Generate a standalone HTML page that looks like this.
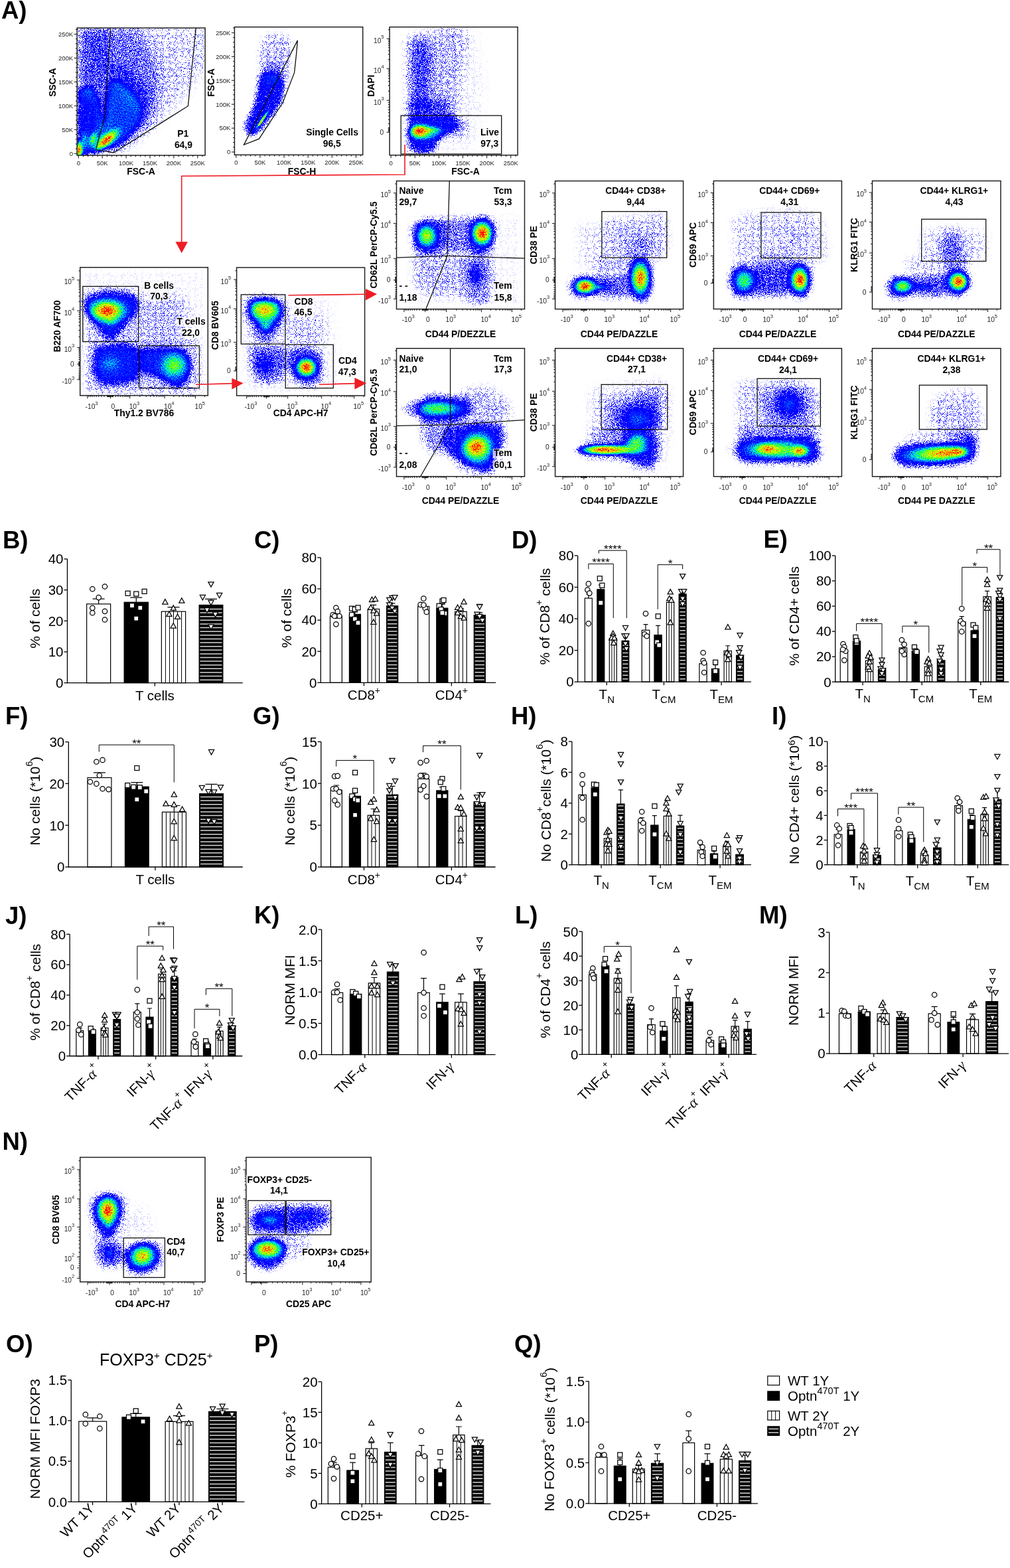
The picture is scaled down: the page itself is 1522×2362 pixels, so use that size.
<!DOCTYPE html>
<html><head><meta charset="utf-8"><title>Figure</title>
<style>
html,body{margin:0;padding:0;background:#fff;}
body{width:1522px;height:2362px;overflow:hidden;position:relative;}
svg{position:absolute;left:0;top:0;display:block;}
text{font-family:"Liberation Sans",Arial,sans-serif;}
</style></head><body>
<svg width="1522" height="2362" viewBox="0 0 1522 2362">
<rect width="1522" height="2362" fill="#fff"/>
<defs><filter id="dith" color-interpolation-filters="sRGB">
<feTurbulence type="fractalNoise" baseFrequency="0.6" numOctaves="1" seed="7" result="N2"/>
<feColorMatrix in="N2" type="matrix" values="0 0 0 0 0  0 0 0 0 0  0 0 0 0 0  1 0 0 0 0" result="N2a"/>
<feComposite in="SourceAlpha" in2="N2a" operator="arithmetic" k1="1.0" k2="0.5" k3="0" k4="0" result="SD"/>
<feColorMatrix in="SD" type="matrix" values="0 0 0 1 0  0 0 0 1 0  0 0 0 1 0  0 0 0 1 0" result="D"/>
<feComponentTransfer in="D" result="C"><feFuncR type="table" tableValues="0.000 0.000 0.000 0.000 0.000 0.000 0.000 0.000 0.000 0.000 0.000 0.000 0.118 0.353 0.588 0.824 1.000 1.000 1.000 1.000 1.000"/><feFuncG type="table" tableValues="0.000 0.000 0.000 0.000 0.000 0.000 0.000 0.039 0.235 0.588 0.863 1.000 1.000 1.000 1.000 1.000 0.941 0.745 0.510 0.235 0.000"/><feFuncB type="table" tableValues="1.000 1.000 1.000 1.000 1.000 1.000 1.000 1.000 1.000 1.000 0.941 0.627 0.235 0.078 0.000 0.000 0.000 0.000 0.000 0.000 0.000"/><feFuncA type="table" tableValues="0.000 0.185 0.370 0.556 0.741 0.926 1.000 1.000 1.000 1.000 1.000 1.000 1.000 1.000 1.000 1.000 1.000 1.000 1.000 1.000 1.000"/></feComponentTransfer>
<feColorMatrix in="C" type="matrix" values="0 0 0 0 0  0 0 0 0 0  0 0 0 0 0  0 0 0 1 0" result="CA"/>
<feTurbulence type="fractalNoise" baseFrequency="1.1" numOctaves="1" seed="3" result="N"/>
<feColorMatrix in="N" type="matrix" values="0 0 0 0 0  0 0 0 0 0  0 0 0 0 0  1 0 0 0 0" result="Na"/>
<feComponentTransfer in="Na" result="Nu"><feFuncA type="linear" slope="3.2" intercept="-1.1"/></feComponentTransfer>
<feComposite in="CA" in2="Nu" operator="arithmetic" k2="8" k3="-7.2" k4="0" result="M"/>
<feComponentTransfer in="C" result="O"><feFuncA type="linear" slope="60"/></feComponentTransfer>
<feComposite in="O" in2="M" operator="in"/>
</filter>
<clipPath id="c116_42"><rect x="116.1" y="42.1" width="193" height="191.9"/></clipPath>
<filter id="bl10" x="-60%" y="-60%" width="220%" height="220%"><feGaussianBlur stdDeviation="10"/></filter>
<filter id="bl8" x="-60%" y="-60%" width="220%" height="220%"><feGaussianBlur stdDeviation="8"/></filter>
<filter id="bl6" x="-60%" y="-60%" width="220%" height="220%"><feGaussianBlur stdDeviation="6"/></filter>
<filter id="bl3" x="-60%" y="-60%" width="220%" height="220%"><feGaussianBlur stdDeviation="3"/></filter>
<filter id="bl4" x="-60%" y="-60%" width="220%" height="220%"><feGaussianBlur stdDeviation="4"/></filter>
<radialGradient id="g0"><stop offset="0.000" stop-opacity="0.231"/><stop offset="0.083" stop-opacity="0.225"/><stop offset="0.167" stop-opacity="0.209"/><stop offset="0.250" stop-opacity="0.184"/><stop offset="0.333" stop-opacity="0.154"/><stop offset="0.417" stop-opacity="0.122"/><stop offset="0.500" stop-opacity="0.092"/><stop offset="0.583" stop-opacity="0.065"/><stop offset="0.667" stop-opacity="0.043"/><stop offset="0.750" stop-opacity="0.026"/><stop offset="0.833" stop-opacity="0.014"/><stop offset="0.917" stop-opacity="0.005"/><stop offset="1.000" stop-opacity="0.000"/></radialGradient>
<radialGradient id="g1"><stop offset="0.000" stop-opacity="0.487"/><stop offset="0.083" stop-opacity="0.475"/><stop offset="0.167" stop-opacity="0.441"/><stop offset="0.250" stop-opacity="0.388"/><stop offset="0.333" stop-opacity="0.325"/><stop offset="0.417" stop-opacity="0.258"/><stop offset="0.500" stop-opacity="0.194"/><stop offset="0.583" stop-opacity="0.138"/><stop offset="0.667" stop-opacity="0.091"/><stop offset="0.750" stop-opacity="0.055"/><stop offset="0.833" stop-opacity="0.029"/><stop offset="0.917" stop-opacity="0.011"/><stop offset="1.000" stop-opacity="0.000"/></radialGradient>
<radialGradient id="g2"><stop offset="0.000" stop-opacity="1.000"/><stop offset="0.083" stop-opacity="0.975"/><stop offset="0.167" stop-opacity="0.904"/><stop offset="0.250" stop-opacity="0.797"/><stop offset="0.333" stop-opacity="0.668"/><stop offset="0.417" stop-opacity="0.530"/><stop offset="0.500" stop-opacity="0.399"/><stop offset="0.583" stop-opacity="0.282"/><stop offset="0.667" stop-opacity="0.187"/><stop offset="0.750" stop-opacity="0.113"/><stop offset="0.833" stop-opacity="0.060"/><stop offset="0.917" stop-opacity="0.023"/><stop offset="1.000" stop-opacity="0.000"/></radialGradient>
<radialGradient id="g3"><stop offset="0.000" stop-opacity="0.897"/><stop offset="0.083" stop-opacity="0.875"/><stop offset="0.167" stop-opacity="0.812"/><stop offset="0.250" stop-opacity="0.716"/><stop offset="0.333" stop-opacity="0.599"/><stop offset="0.417" stop-opacity="0.476"/><stop offset="0.500" stop-opacity="0.358"/><stop offset="0.583" stop-opacity="0.253"/><stop offset="0.667" stop-opacity="0.167"/><stop offset="0.750" stop-opacity="0.101"/><stop offset="0.833" stop-opacity="0.053"/><stop offset="0.917" stop-opacity="0.021"/><stop offset="1.000" stop-opacity="0.000"/></radialGradient>
<clipPath id="c353_40"><rect x="353.4" y="40.7" width="193.3" height="192.6"/></clipPath>
<filter id="bl5" x="-60%" y="-60%" width="220%" height="220%"><feGaussianBlur stdDeviation="5"/></filter>
<radialGradient id="g4"><stop offset="0.000" stop-opacity="0.295"/><stop offset="0.083" stop-opacity="0.288"/><stop offset="0.167" stop-opacity="0.267"/><stop offset="0.250" stop-opacity="0.235"/><stop offset="0.333" stop-opacity="0.197"/><stop offset="0.417" stop-opacity="0.156"/><stop offset="0.500" stop-opacity="0.118"/><stop offset="0.583" stop-opacity="0.083"/><stop offset="0.667" stop-opacity="0.055"/><stop offset="0.750" stop-opacity="0.033"/><stop offset="0.833" stop-opacity="0.018"/><stop offset="0.917" stop-opacity="0.007"/><stop offset="1.000" stop-opacity="0.000"/></radialGradient>
<radialGradient id="g5"><stop offset="0.000" stop-opacity="0.615"/><stop offset="0.083" stop-opacity="0.600"/><stop offset="0.167" stop-opacity="0.557"/><stop offset="0.250" stop-opacity="0.491"/><stop offset="0.333" stop-opacity="0.411"/><stop offset="0.417" stop-opacity="0.326"/><stop offset="0.500" stop-opacity="0.245"/><stop offset="0.583" stop-opacity="0.174"/><stop offset="0.667" stop-opacity="0.115"/><stop offset="0.750" stop-opacity="0.069"/><stop offset="0.833" stop-opacity="0.037"/><stop offset="0.917" stop-opacity="0.014"/><stop offset="1.000" stop-opacity="0.000"/></radialGradient>
<radialGradient id="g6"><stop offset="0.000" stop-opacity="0.936"/><stop offset="0.083" stop-opacity="0.913"/><stop offset="0.167" stop-opacity="0.846"/><stop offset="0.250" stop-opacity="0.746"/><stop offset="0.333" stop-opacity="0.625"/><stop offset="0.417" stop-opacity="0.496"/><stop offset="0.500" stop-opacity="0.373"/><stop offset="0.583" stop-opacity="0.264"/><stop offset="0.667" stop-opacity="0.175"/><stop offset="0.750" stop-opacity="0.106"/><stop offset="0.833" stop-opacity="0.056"/><stop offset="0.917" stop-opacity="0.022"/><stop offset="1.000" stop-opacity="0.000"/></radialGradient>
<clipPath id="c587_40"><rect x="587.1" y="40.7" width="193" height="193"/></clipPath>
<filter id="bl12" x="-60%" y="-60%" width="220%" height="220%"><feGaussianBlur stdDeviation="12"/></filter>
<radialGradient id="g7"><stop offset="0.000" stop-opacity="0.359"/><stop offset="0.083" stop-opacity="0.352"/><stop offset="0.167" stop-opacity="0.333"/><stop offset="0.250" stop-opacity="0.302"/><stop offset="0.333" stop-opacity="0.264"/><stop offset="0.417" stop-opacity="0.221"/><stop offset="0.500" stop-opacity="0.177"/><stop offset="0.583" stop-opacity="0.135"/><stop offset="0.667" stop-opacity="0.097"/><stop offset="0.750" stop-opacity="0.064"/><stop offset="0.833" stop-opacity="0.037"/><stop offset="0.917" stop-opacity="0.016"/><stop offset="1.000" stop-opacity="0.000"/></radialGradient>
<clipPath id="c120_402"><rect x="120.7" y="402.8" width="192.6" height="193"/></clipPath>
<filter id="bl9" x="-60%" y="-60%" width="220%" height="220%"><feGaussianBlur stdDeviation="9"/></filter>
<radialGradient id="g8"><stop offset="0.000" stop-opacity="0.154"/><stop offset="0.083" stop-opacity="0.150"/><stop offset="0.167" stop-opacity="0.139"/><stop offset="0.250" stop-opacity="0.123"/><stop offset="0.333" stop-opacity="0.103"/><stop offset="0.417" stop-opacity="0.082"/><stop offset="0.500" stop-opacity="0.061"/><stop offset="0.583" stop-opacity="0.043"/><stop offset="0.667" stop-opacity="0.029"/><stop offset="0.750" stop-opacity="0.017"/><stop offset="0.833" stop-opacity="0.009"/><stop offset="0.917" stop-opacity="0.004"/><stop offset="1.000" stop-opacity="0.000"/></radialGradient>
<clipPath id="c356_403"><rect x="356.6" y="403" width="193" height="193"/></clipPath>
<radialGradient id="g9"><stop offset="0.000" stop-opacity="0.179"/><stop offset="0.083" stop-opacity="0.175"/><stop offset="0.167" stop-opacity="0.162"/><stop offset="0.250" stop-opacity="0.143"/><stop offset="0.333" stop-opacity="0.120"/><stop offset="0.417" stop-opacity="0.095"/><stop offset="0.500" stop-opacity="0.072"/><stop offset="0.583" stop-opacity="0.051"/><stop offset="0.667" stop-opacity="0.033"/><stop offset="0.750" stop-opacity="0.020"/><stop offset="0.833" stop-opacity="0.011"/><stop offset="0.917" stop-opacity="0.004"/><stop offset="1.000" stop-opacity="0.000"/></radialGradient>
<radialGradient id="g10"><stop offset="0.000" stop-opacity="0.205"/><stop offset="0.083" stop-opacity="0.200"/><stop offset="0.167" stop-opacity="0.186"/><stop offset="0.250" stop-opacity="0.164"/><stop offset="0.333" stop-opacity="0.137"/><stop offset="0.417" stop-opacity="0.109"/><stop offset="0.500" stop-opacity="0.082"/><stop offset="0.583" stop-opacity="0.058"/><stop offset="0.667" stop-opacity="0.038"/><stop offset="0.750" stop-opacity="0.023"/><stop offset="0.833" stop-opacity="0.012"/><stop offset="0.917" stop-opacity="0.005"/><stop offset="1.000" stop-opacity="0.000"/></radialGradient>
<radialGradient id="g11"><stop offset="0.000" stop-opacity="0.744"/><stop offset="0.083" stop-opacity="0.725"/><stop offset="0.167" stop-opacity="0.673"/><stop offset="0.250" stop-opacity="0.593"/><stop offset="0.333" stop-opacity="0.497"/><stop offset="0.417" stop-opacity="0.394"/><stop offset="0.500" stop-opacity="0.296"/><stop offset="0.583" stop-opacity="0.210"/><stop offset="0.667" stop-opacity="0.139"/><stop offset="0.750" stop-opacity="0.084"/><stop offset="0.833" stop-opacity="0.044"/><stop offset="0.917" stop-opacity="0.017"/><stop offset="1.000" stop-opacity="0.000"/></radialGradient>
<clipPath id="c597_272"><rect x="597.5" y="272.6" width="193" height="193"/></clipPath>
<radialGradient id="g12"><stop offset="0.000" stop-opacity="0.667"/><stop offset="0.083" stop-opacity="0.650"/><stop offset="0.167" stop-opacity="0.603"/><stop offset="0.250" stop-opacity="0.532"/><stop offset="0.333" stop-opacity="0.445"/><stop offset="0.417" stop-opacity="0.354"/><stop offset="0.500" stop-opacity="0.266"/><stop offset="0.583" stop-opacity="0.188"/><stop offset="0.667" stop-opacity="0.124"/><stop offset="0.750" stop-opacity="0.075"/><stop offset="0.833" stop-opacity="0.040"/><stop offset="0.917" stop-opacity="0.016"/><stop offset="1.000" stop-opacity="0.000"/></radialGradient>
<clipPath id="c836_272"><rect x="836.6" y="272.6" width="193" height="193"/></clipPath>
<clipPath id="c1075_272"><rect x="1075.4" y="272.5" width="193" height="193"/></clipPath>
<radialGradient id="g13"><stop offset="0.000" stop-opacity="0.513"/><stop offset="0.083" stop-opacity="0.500"/><stop offset="0.167" stop-opacity="0.464"/><stop offset="0.250" stop-opacity="0.409"/><stop offset="0.333" stop-opacity="0.342"/><stop offset="0.417" stop-opacity="0.272"/><stop offset="0.500" stop-opacity="0.204"/><stop offset="0.583" stop-opacity="0.145"/><stop offset="0.667" stop-opacity="0.096"/><stop offset="0.750" stop-opacity="0.058"/><stop offset="0.833" stop-opacity="0.031"/><stop offset="0.917" stop-opacity="0.012"/><stop offset="1.000" stop-opacity="0.000"/></radialGradient>
<clipPath id="c1314_272"><rect x="1314.5" y="272.5" width="193.5" height="193"/></clipPath>
<filter id="bl7" x="-60%" y="-60%" width="220%" height="220%"><feGaussianBlur stdDeviation="7"/></filter>
<radialGradient id="g14"><stop offset="0.000" stop-opacity="0.256"/><stop offset="0.083" stop-opacity="0.250"/><stop offset="0.167" stop-opacity="0.232"/><stop offset="0.250" stop-opacity="0.204"/><stop offset="0.333" stop-opacity="0.171"/><stop offset="0.417" stop-opacity="0.136"/><stop offset="0.500" stop-opacity="0.102"/><stop offset="0.583" stop-opacity="0.072"/><stop offset="0.667" stop-opacity="0.048"/><stop offset="0.750" stop-opacity="0.029"/><stop offset="0.833" stop-opacity="0.015"/><stop offset="0.917" stop-opacity="0.006"/><stop offset="1.000" stop-opacity="0.000"/></radialGradient>
<radialGradient id="g15"><stop offset="0.000" stop-opacity="0.590"/><stop offset="0.083" stop-opacity="0.575"/><stop offset="0.167" stop-opacity="0.533"/><stop offset="0.250" stop-opacity="0.470"/><stop offset="0.333" stop-opacity="0.394"/><stop offset="0.417" stop-opacity="0.313"/><stop offset="0.500" stop-opacity="0.235"/><stop offset="0.583" stop-opacity="0.166"/><stop offset="0.667" stop-opacity="0.110"/><stop offset="0.750" stop-opacity="0.067"/><stop offset="0.833" stop-opacity="0.035"/><stop offset="0.917" stop-opacity="0.014"/><stop offset="1.000" stop-opacity="0.000"/></radialGradient>
<clipPath id="c597_524"><rect x="597.5" y="524.8" width="193" height="193"/></clipPath>
<radialGradient id="g16"><stop offset="0.000" stop-opacity="0.513"/><stop offset="0.083" stop-opacity="0.503"/><stop offset="0.167" stop-opacity="0.475"/><stop offset="0.250" stop-opacity="0.432"/><stop offset="0.333" stop-opacity="0.377"/><stop offset="0.417" stop-opacity="0.316"/><stop offset="0.500" stop-opacity="0.253"/><stop offset="0.583" stop-opacity="0.193"/><stop offset="0.667" stop-opacity="0.138"/><stop offset="0.750" stop-opacity="0.091"/><stop offset="0.833" stop-opacity="0.053"/><stop offset="0.917" stop-opacity="0.023"/><stop offset="1.000" stop-opacity="0.000"/></radialGradient>
<radialGradient id="g17"><stop offset="0.000" stop-opacity="0.846"/><stop offset="0.083" stop-opacity="0.825"/><stop offset="0.167" stop-opacity="0.765"/><stop offset="0.250" stop-opacity="0.675"/><stop offset="0.333" stop-opacity="0.565"/><stop offset="0.417" stop-opacity="0.449"/><stop offset="0.500" stop-opacity="0.337"/><stop offset="0.583" stop-opacity="0.239"/><stop offset="0.667" stop-opacity="0.158"/><stop offset="0.750" stop-opacity="0.095"/><stop offset="0.833" stop-opacity="0.050"/><stop offset="0.917" stop-opacity="0.020"/><stop offset="1.000" stop-opacity="0.000"/></radialGradient>
<clipPath id="c836_524"><rect x="836.6" y="524.8" width="193" height="193"/></clipPath>
<radialGradient id="g18"><stop offset="0.000" stop-opacity="0.231"/><stop offset="0.083" stop-opacity="0.227"/><stop offset="0.167" stop-opacity="0.216"/><stop offset="0.250" stop-opacity="0.199"/><stop offset="0.333" stop-opacity="0.178"/><stop offset="0.417" stop-opacity="0.152"/><stop offset="0.500" stop-opacity="0.126"/><stop offset="0.583" stop-opacity="0.099"/><stop offset="0.667" stop-opacity="0.074"/><stop offset="0.750" stop-opacity="0.051"/><stop offset="0.833" stop-opacity="0.030"/><stop offset="0.917" stop-opacity="0.014"/><stop offset="1.000" stop-opacity="0.000"/></radialGradient>
<radialGradient id="g19"><stop offset="0.000" stop-opacity="0.564"/><stop offset="0.083" stop-opacity="0.550"/><stop offset="0.167" stop-opacity="0.510"/><stop offset="0.250" stop-opacity="0.450"/><stop offset="0.333" stop-opacity="0.377"/><stop offset="0.417" stop-opacity="0.299"/><stop offset="0.500" stop-opacity="0.225"/><stop offset="0.583" stop-opacity="0.159"/><stop offset="0.667" stop-opacity="0.105"/><stop offset="0.750" stop-opacity="0.064"/><stop offset="0.833" stop-opacity="0.034"/><stop offset="0.917" stop-opacity="0.013"/><stop offset="1.000" stop-opacity="0.000"/></radialGradient>
<radialGradient id="g20"><stop offset="0.000" stop-opacity="0.897"/><stop offset="0.083" stop-opacity="0.881"/><stop offset="0.167" stop-opacity="0.832"/><stop offset="0.250" stop-opacity="0.756"/><stop offset="0.333" stop-opacity="0.660"/><stop offset="0.417" stop-opacity="0.553"/><stop offset="0.500" stop-opacity="0.443"/><stop offset="0.583" stop-opacity="0.337"/><stop offset="0.667" stop-opacity="0.242"/><stop offset="0.750" stop-opacity="0.159"/><stop offset="0.833" stop-opacity="0.092"/><stop offset="0.917" stop-opacity="0.039"/><stop offset="1.000" stop-opacity="0.000"/></radialGradient>
<clipPath id="c1075_524"><rect x="1075.4" y="524.8" width="193" height="193"/></clipPath>
<radialGradient id="g21"><stop offset="0.000" stop-opacity="0.295"/><stop offset="0.083" stop-opacity="0.290"/><stop offset="0.167" stop-opacity="0.276"/><stop offset="0.250" stop-opacity="0.255"/><stop offset="0.333" stop-opacity="0.227"/><stop offset="0.417" stop-opacity="0.195"/><stop offset="0.500" stop-opacity="0.161"/><stop offset="0.583" stop-opacity="0.127"/><stop offset="0.667" stop-opacity="0.094"/><stop offset="0.750" stop-opacity="0.065"/><stop offset="0.833" stop-opacity="0.039"/><stop offset="0.917" stop-opacity="0.017"/><stop offset="1.000" stop-opacity="0.000"/></radialGradient>
<radialGradient id="g22"><stop offset="0.000" stop-opacity="0.808"/><stop offset="0.083" stop-opacity="0.788"/><stop offset="0.167" stop-opacity="0.731"/><stop offset="0.250" stop-opacity="0.644"/><stop offset="0.333" stop-opacity="0.539"/><stop offset="0.417" stop-opacity="0.428"/><stop offset="0.500" stop-opacity="0.322"/><stop offset="0.583" stop-opacity="0.228"/><stop offset="0.667" stop-opacity="0.151"/><stop offset="0.750" stop-opacity="0.091"/><stop offset="0.833" stop-opacity="0.048"/><stop offset="0.917" stop-opacity="0.019"/><stop offset="1.000" stop-opacity="0.000"/></radialGradient>
<clipPath id="c1314_524"><rect x="1314.5" y="524.8" width="193.5" height="193"/></clipPath>
<radialGradient id="g23"><stop offset="0.000" stop-opacity="0.718"/><stop offset="0.083" stop-opacity="0.700"/><stop offset="0.167" stop-opacity="0.649"/><stop offset="0.250" stop-opacity="0.572"/><stop offset="0.333" stop-opacity="0.479"/><stop offset="0.417" stop-opacity="0.381"/><stop offset="0.500" stop-opacity="0.286"/><stop offset="0.583" stop-opacity="0.203"/><stop offset="0.667" stop-opacity="0.134"/><stop offset="0.750" stop-opacity="0.081"/><stop offset="0.833" stop-opacity="0.043"/><stop offset="0.917" stop-opacity="0.017"/><stop offset="1.000" stop-opacity="0.000"/></radialGradient>
<radialGradient id="g24"><stop offset="0.000" stop-opacity="0.782"/><stop offset="0.083" stop-opacity="0.763"/><stop offset="0.167" stop-opacity="0.707"/><stop offset="0.250" stop-opacity="0.624"/><stop offset="0.333" stop-opacity="0.522"/><stop offset="0.417" stop-opacity="0.415"/><stop offset="0.500" stop-opacity="0.312"/><stop offset="0.583" stop-opacity="0.221"/><stop offset="0.667" stop-opacity="0.146"/><stop offset="0.750" stop-opacity="0.088"/><stop offset="0.833" stop-opacity="0.047"/><stop offset="0.917" stop-opacity="0.018"/><stop offset="1.000" stop-opacity="0.000"/></radialGradient>
<clipPath id="c120_1743"><rect x="120.7" y="1743.4" width="188.3" height="187.6"/></clipPath>
<radialGradient id="g25"><stop offset="0.000" stop-opacity="0.769"/><stop offset="0.083" stop-opacity="0.750"/><stop offset="0.167" stop-opacity="0.696"/><stop offset="0.250" stop-opacity="0.613"/><stop offset="0.333" stop-opacity="0.514"/><stop offset="0.417" stop-opacity="0.408"/><stop offset="0.500" stop-opacity="0.307"/><stop offset="0.583" stop-opacity="0.217"/><stop offset="0.667" stop-opacity="0.143"/><stop offset="0.750" stop-opacity="0.087"/><stop offset="0.833" stop-opacity="0.046"/><stop offset="0.917" stop-opacity="0.018"/><stop offset="1.000" stop-opacity="0.000"/></radialGradient>
<clipPath id="c370_1743"><rect x="370.9" y="1743.4" width="188.3" height="187.6"/></clipPath>
<radialGradient id="g26"><stop offset="0.000" stop-opacity="0.295"/><stop offset="0.083" stop-opacity="0.289"/><stop offset="0.167" stop-opacity="0.273"/><stop offset="0.250" stop-opacity="0.248"/><stop offset="0.333" stop-opacity="0.217"/><stop offset="0.417" stop-opacity="0.182"/><stop offset="0.500" stop-opacity="0.146"/><stop offset="0.583" stop-opacity="0.111"/><stop offset="0.667" stop-opacity="0.079"/><stop offset="0.750" stop-opacity="0.052"/><stop offset="0.833" stop-opacity="0.030"/><stop offset="0.917" stop-opacity="0.013"/><stop offset="1.000" stop-opacity="0.000"/></radialGradient>
<radialGradient id="g27"><stop offset="0.000" stop-opacity="0.872"/><stop offset="0.083" stop-opacity="0.850"/><stop offset="0.167" stop-opacity="0.789"/><stop offset="0.250" stop-opacity="0.695"/><stop offset="0.333" stop-opacity="0.582"/><stop offset="0.417" stop-opacity="0.462"/><stop offset="0.500" stop-opacity="0.348"/><stop offset="0.583" stop-opacity="0.246"/><stop offset="0.667" stop-opacity="0.163"/><stop offset="0.750" stop-opacity="0.098"/><stop offset="0.833" stop-opacity="0.052"/><stop offset="0.917" stop-opacity="0.020"/><stop offset="1.000" stop-opacity="0.000"/></radialGradient></defs>
<g>
<g clip-path="url(#c116_42)"><g filter="url(#dith)">
<polygon points="116.1,42.1 309.1,42.1 309.1,102.1 266.1,152.1 226.1,192.1 176.1,232.1 116.1,234.1" fill-opacity="0.044" filter="url(#bl10)"/>
<polygon points="118.1,42.1 166.1,42.1 171.1,102.1 156.1,142.1 121.1,152.1" fill-opacity="0.154" filter="url(#bl8)"/>
<polygon points="166.1,42.1 211.1,42.1 241.1,102.1 241.1,152.1 196.1,162.1 171.1,102.1" fill-opacity="0.110" filter="url(#bl10)"/>
<polygon points="146.1,142.1 166.1,142.1 161.1,212.1 146.1,212.1" fill-opacity="0.132" filter="url(#bl6)"/>
<polygon points="118.1,134.1 138.1,130.1 150.1,152.1 156.1,192.1 151.1,227.1 126.1,234.1 118.1,234.1" fill-opacity="0.286" filter="url(#bl3)"/>
<polygon points="166.1,97.1 191.1,102.1 226.1,142.1 238.1,172.1 221.1,194.1 176.1,227.1 156.1,192.1" fill-opacity="0.099" filter="url(#bl6)"/>
<polygon points="163.1,122.1 180.1,120.1 198.1,137.1 216.1,160.1 214.1,182.1 193.1,208.1 171.1,224.1 146.1,227.1 150.1,211.1 157.1,184.1 161.1,157.1 162.1,137.1" fill-opacity="0.286" filter="url(#bl4)"/>
<ellipse cx="128.1" cy="212.1" rx="12" ry="26" fill="url(#g0)"/>
<ellipse cx="140.3" cy="209.8" rx="9" ry="19" fill="url(#g1)" transform="rotate(15 140.3 209.8)"/>
<ellipse cx="160.5" cy="211.1" rx="33" ry="13" fill="url(#g2)" transform="rotate(-40 160.5 211.1)"/>
<ellipse cx="119.1" cy="226.1" rx="9" ry="22" fill="url(#g3)"/>
</g></g>
<polyline points="166.6,42.1 157.5,177.5 144.4,225.3 171.3,230 283.4,159.7 295.2,42.1" fill="none" stroke="#111" stroke-width="1.3"/>
<rect x="116.1" y="42.1" width="193" height="191.9" fill="none" stroke="#222" stroke-width="1.5"/>
<path d="M118.3 234v4.5M125.48 234v2.3M132.66 234v2.3M139.84 234v2.3M147.02 234v2.3M154.2 234v4.5M161.38 234v2.3M168.56 234v2.3M175.74 234v2.3M182.92 234v2.3M190.1 234v4.5M197.28 234v2.3M204.46 234v2.3M211.64 234v2.3M218.82 234v2.3M226 234v4.5M233.18 234v2.3M240.36 234v2.3M247.54 234v2.3M254.72 234v2.3M261.9 234v4.5M269.08 234v2.3M276.26 234v2.3M283.44 234v2.3M290.62 234v2.3M297.8 234v4.5M304.98 234v2.3M116.1 231.3h-4.5M116.1 224.11h-2.3M116.1 216.92h-2.3M116.1 209.72h-2.3M116.1 202.53h-2.3M116.1 195.34h-4.5M116.1 188.15h-2.3M116.1 180.96h-2.3M116.1 173.76h-2.3M116.1 166.57h-2.3M116.1 159.38h-4.5M116.1 152.19h-2.3M116.1 145h-2.3M116.1 137.8h-2.3M116.1 130.61h-2.3M116.1 123.42h-4.5M116.1 116.23h-2.3M116.1 109.04h-2.3M116.1 101.84h-2.3M116.1 94.65h-2.3M116.1 87.46h-4.5M116.1 80.27h-2.3M116.1 73.08h-2.3M116.1 65.88h-2.3M116.1 58.69h-2.3M116.1 51.5h-4.5M116.1 44.31h-2.3" stroke="#111" stroke-width="1" fill="none"/>
<text x="118.3" y="249" font-size="9.5" text-anchor="middle" fill="#222">0</text>
<text x="154.2" y="249" font-size="9.5" text-anchor="middle" fill="#222">50K</text>
<text x="190.1" y="249" font-size="9.5" text-anchor="middle" fill="#222">100K</text>
<text x="226" y="249" font-size="9.5" text-anchor="middle" fill="#222">150K</text>
<text x="261.9" y="249" font-size="9.5" text-anchor="middle" fill="#222">200K</text>
<text x="297.8" y="249" font-size="9.5" text-anchor="middle" fill="#222">250K</text>
<text x="110.1" y="234.7" font-size="9.5" text-anchor="end" fill="#222">0</text>
<text x="110.1" y="198.74" font-size="9.5" text-anchor="end" fill="#222">50K</text>
<text x="110.1" y="162.78" font-size="9.5" text-anchor="end" fill="#222">100K</text>
<text x="110.1" y="126.82" font-size="9.5" text-anchor="end" fill="#222">150K</text>
<text x="110.1" y="90.86" font-size="9.5" text-anchor="end" fill="#222">200K</text>
<text x="110.1" y="54.9" font-size="9.5" text-anchor="end" fill="#222">250K</text>
<text x="212.6" y="262.8" font-size="13.9" font-weight="bold" text-anchor="middle">FSC-A</text>
<text transform="translate(84,124.05) rotate(-90)" font-size="13.9" font-weight="bold" text-anchor="middle">SSC-A</text>
<rect x="265.71" y="194.5" width="19.98" height="14.5" fill="#fff" fill-opacity="0.72"/>
<rect x="261.39" y="211.1" width="30.02" height="14.5" fill="#fff" fill-opacity="0.72"/>
<text x="275.7" y="206" font-size="13.9" font-weight="bold" text-anchor="middle">P1</text>
<text x="276.4" y="222.6" font-size="13.9" font-weight="bold" text-anchor="middle">64,9</text>
</g>
<g>
<g clip-path="url(#c353_40)"><g filter="url(#dith)">
<polygon points="399.19,54.86 428.82,53.51 436.9,62.94 434.21,96.61 428.82,116.82 412.66,119.51 396.49,110.08 392.45,83.14" fill-opacity="0.066" filter="url(#bl6)"/>
<polygon points="396.49,96.61 423.43,93.92 431.51,111.43 428.82,130.29 392.45,130.29" fill-opacity="0.092" filter="url(#bl5)"/>
<polygon points="392.45,111.43 411.31,108.74 423.43,116.82 428.82,127.59 424.78,150.49 415.35,165.31 401.88,184.17 388.41,200.33 377.63,204.37 369.55,196.29 370.9,184.17 381.67,163.96 388.41,137.02" fill-opacity="0.286" filter="url(#bl3)"/>
<ellipse cx="396.49" cy="179.45" rx="24.48" ry="4.32" fill="url(#g4)" transform="rotate(-55 396.49 179.45)"/>
<ellipse cx="395.14" cy="180.4" rx="24.48" ry="2.3" fill="url(#g5)" transform="rotate(-55 395.14 180.4)"/>
<ellipse cx="392.45" cy="185.78" rx="7.2" ry="2.16" fill="url(#g6)" transform="rotate(-55 392.45 185.78)"/>
</g></g>
<polygon points="367.5,218.1 448.4,60.9 446.7,80.4 443.6,109.4 426.1,154.5 390.4,209.1" fill="none" stroke="#111" stroke-width="1.3"/>
<rect x="353.4" y="40.7" width="193.3" height="192.6" fill="none" stroke="#222" stroke-width="1.5"/>
<path d="M355.8 233.3v4.5M363.03 233.3v2.3M370.26 233.3v2.3M377.48 233.3v2.3M384.71 233.3v2.3M391.94 233.3v4.5M399.17 233.3v2.3M406.4 233.3v2.3M413.62 233.3v2.3M420.85 233.3v2.3M428.08 233.3v4.5M435.31 233.3v2.3M442.54 233.3v2.3M449.76 233.3v2.3M456.99 233.3v2.3M464.22 233.3v4.5M471.45 233.3v2.3M478.68 233.3v2.3M485.9 233.3v2.3M493.13 233.3v2.3M500.36 233.3v4.5M507.59 233.3v2.3M514.82 233.3v2.3M522.04 233.3v2.3M529.27 233.3v2.3M536.5 233.3v4.5M543.73 233.3v2.3M353.4 229h-4.5M353.4 221.81h-2.3M353.4 214.62h-2.3M353.4 207.44h-2.3M353.4 200.25h-2.3M353.4 193.06h-4.5M353.4 185.87h-2.3M353.4 178.68h-2.3M353.4 171.5h-2.3M353.4 164.31h-2.3M353.4 157.12h-4.5M353.4 149.93h-2.3M353.4 142.74h-2.3M353.4 135.56h-2.3M353.4 128.37h-2.3M353.4 121.18h-4.5M353.4 113.99h-2.3M353.4 106.8h-2.3M353.4 99.62h-2.3M353.4 92.43h-2.3M353.4 85.24h-4.5M353.4 78.05h-2.3M353.4 70.86h-2.3M353.4 63.68h-2.3M353.4 56.49h-2.3M353.4 49.3h-4.5M353.4 42.11h-2.3" stroke="#111" stroke-width="1" fill="none"/>
<text x="355.8" y="248.3" font-size="9.5" text-anchor="middle" fill="#222">0</text>
<text x="391.94" y="248.3" font-size="9.5" text-anchor="middle" fill="#222">50K</text>
<text x="428.08" y="248.3" font-size="9.5" text-anchor="middle" fill="#222">100K</text>
<text x="464.22" y="248.3" font-size="9.5" text-anchor="middle" fill="#222">150K</text>
<text x="500.36" y="248.3" font-size="9.5" text-anchor="middle" fill="#222">200K</text>
<text x="536.5" y="248.3" font-size="9.5" text-anchor="middle" fill="#222">250K</text>
<text x="347.4" y="232.4" font-size="9.5" text-anchor="end" fill="#222">0</text>
<text x="347.4" y="196.46" font-size="9.5" text-anchor="end" fill="#222">50K</text>
<text x="347.4" y="160.52" font-size="9.5" text-anchor="end" fill="#222">100K</text>
<text x="347.4" y="124.58" font-size="9.5" text-anchor="end" fill="#222">150K</text>
<text x="347.4" y="88.64" font-size="9.5" text-anchor="end" fill="#222">200K</text>
<text x="347.4" y="52.7" font-size="9.5" text-anchor="end" fill="#222">250K</text>
<text x="455.05" y="262.8" font-size="13.9" font-weight="bold" text-anchor="middle">FSC-H</text>
<text transform="translate(323,124.5) rotate(-90)" font-size="13.9" font-weight="bold" text-anchor="middle">FSC-A</text>
<rect x="459.74" y="192.9" width="81.72" height="14.5" fill="#fff" fill-opacity="0.72"/>
<rect x="485.19" y="209.7" width="30.02" height="14.5" fill="#fff" fill-opacity="0.72"/>
<text x="500.6" y="204.4" font-size="13.9" font-weight="bold" text-anchor="middle">Single Cells</text>
<text x="500.2" y="221.2" font-size="13.9" font-weight="bold" text-anchor="middle">96,5</text>
</g>
<g>
<g clip-path="url(#c587_40)"><g filter="url(#dith)">
<polygon points="614.67,49.47 715.7,42.73 729.17,130.29 715.7,224.58 614.67,231.31" fill-opacity="0.013" filter="url(#bl12)"/>
<polygon points="618.72,62.94 637.57,54.86 675.29,44.08 702.23,46.78 696.84,89.88 688.76,130.29 688.76,157.23 661.82,170.7 618.72,170.7" fill-opacity="0.066" filter="url(#bl8)"/>
<polygon points="617.37,60.25 641.61,56.2 651.04,89.88 648.35,130.29 644.31,163.96 618.72,170.7" fill-opacity="0.121" filter="url(#bl6)"/>
<polygon points="617.37,150.49 675.29,150.49 686.06,176.09 617.37,176.09" fill-opacity="0.132" filter="url(#bl6)"/>
<polygon points="682.02,174.74 699.53,181.47 702.23,197.64 686.06,204.37 675.29,197.64" fill-opacity="0.110" filter="url(#bl6)"/>
<polygon points="617.37,174.74 686.06,174.74 688.76,190.9 675.29,201.68 659.12,211.11 656.43,224.58 638.92,231.31 620.06,227.27 616.02,204.37" fill-opacity="0.286" filter="url(#bl4)"/>
<ellipse cx="641.61" cy="199.66" rx="34.56" ry="17.28" fill="url(#g7)"/>
<ellipse cx="648.35" cy="195.62" rx="28.8" ry="8.64" fill="url(#g4)"/>
<ellipse cx="631.92" cy="197.64" rx="21.6" ry="15.12" fill="url(#g2)"/>
</g></g>
<rect x="604.2" y="174.1" width="151.5" height="57.9" fill="none" stroke="#111" stroke-width="1.3"/>
<rect x="587.1" y="40.7" width="193" height="193" fill="none" stroke="#222" stroke-width="1.5"/>
<path d="M589.1 233.7v4.5M596.33 233.7v2.3M603.56 233.7v2.3M610.78 233.7v2.3M618.01 233.7v2.3M625.24 233.7v4.5M632.47 233.7v2.3M639.7 233.7v2.3M646.92 233.7v2.3M654.15 233.7v2.3M661.38 233.7v4.5M668.61 233.7v2.3M675.84 233.7v2.3M683.06 233.7v2.3M690.29 233.7v2.3M697.52 233.7v4.5M704.75 233.7v2.3M711.98 233.7v2.3M719.2 233.7v2.3M726.43 233.7v2.3M733.66 233.7v4.5M740.89 233.7v2.3M748.12 233.7v2.3M755.34 233.7v2.3M762.57 233.7v2.3M769.8 233.7v4.5M777.03 233.7v2.3M587.1 58.2h-4.5M587.1 103.3h-4.5M587.1 151.2h-4.5M587.1 199.2h-4.5M587.1 137.29h-2.3M587.1 89.73h-2.3M587.1 186.14h-2.3M587.1 128.83h-2.3M587.1 81.79h-2.3M587.1 180.18h-2.3M587.1 122.76h-2.3M587.1 76.15h-2.3M587.1 174.72h-2.3M587.1 118.03h-2.3M587.1 71.78h-2.3M587.1 169.79h-2.3M587.1 114.16h-2.3M587.1 68.21h-2.3M587.1 165.33h-2.3M587.1 110.89h-2.3M587.1 65.19h-2.3M587.1 161.29h-2.3M587.1 108.05h-2.3M587.1 62.57h-2.3M587.1 157.62h-2.3M587.1 105.54h-2.3M587.1 60.26h-2.3M587.1 154.27h-2.3M587.1 44.62h-2.3M587.1 192.54h-2.3M587.1 197.86h-2.3M587.1 196.52h-2.3M587.1 195.19h-2.3M587.1 193.86h-2.3" stroke="#111" stroke-width="1" fill="none"/>
<text x="589.1" y="248.7" font-size="9.5" text-anchor="middle" fill="#222">0</text>
<text x="625.24" y="248.7" font-size="9.5" text-anchor="middle" fill="#222">50K</text>
<text x="661.38" y="248.7" font-size="9.5" text-anchor="middle" fill="#222">100K</text>
<text x="697.52" y="248.7" font-size="9.5" text-anchor="middle" fill="#222">150K</text>
<text x="733.66" y="248.7" font-size="9.5" text-anchor="middle" fill="#222">200K</text>
<text x="769.8" y="248.7" font-size="9.5" text-anchor="middle" fill="#222">250K</text>
<text x="578.6" y="64.6" font-size="10.2" text-anchor="end" fill="#222">10<tspan font-size="7.5" dy="-6.4">5</tspan></text>
<text x="578.6" y="109.7" font-size="10.2" text-anchor="end" fill="#222">10<tspan font-size="7.5" dy="-6.4">4</tspan></text>
<text x="578.6" y="157.6" font-size="10.2" text-anchor="end" fill="#222">10<tspan font-size="7.5" dy="-6.4">3</tspan></text>
<text x="578.1" y="202.7" font-size="10.2" text-anchor="end" fill="#222">0</text>
<text x="701.6" y="262.8" font-size="13.9" font-weight="bold" text-anchor="middle">FSC-A</text>
<text transform="translate(563.9,129.2) rotate(-90)" font-size="13.9" font-weight="bold" text-anchor="middle">DAPI</text>
<rect x="722.61" y="192.9" width="30.78" height="14.5" fill="#fff" fill-opacity="0.72"/>
<rect x="722.69" y="209" width="30.02" height="14.5" fill="#fff" fill-opacity="0.72"/>
<text x="738" y="204.4" font-size="13.9" font-weight="bold" text-anchor="middle">Live</text>
<text x="737.7" y="220.5" font-size="13.9" font-weight="bold" text-anchor="middle">97,3</text>
</g>
<g>
<g clip-path="url(#c120_402)"><g filter="url(#dith)">
<polygon points="122.09,404.19 311.91,404.19 311.91,594.01 122.09,594.01" fill-opacity="0.007" filter="url(#bl10)"/>
<polygon points="212.56,448.54 272.88,448.54 281.75,478.7 272.88,517.73 212.56,517.73" fill-opacity="0.066" filter="url(#bl9)"/>
<polygon points="134.51,446.77 207.24,443.22 209.02,512.41 134.51,512.41" fill-opacity="0.066" filter="url(#bl8)"/>
<polygon points="134.51,514.18 294.17,514.18 295.94,588.69 134.51,588.69" fill-opacity="0.077" filter="url(#bl8)"/>
<polygon points="129.19,446.77 159.34,437.9 194.82,441.45 207.24,450.32 207.24,469.83 187.73,489.34 173.54,507.08 164.67,512.41 154.02,501.76 136.28,478.7 127.41,460.96" fill-opacity="0.286" filter="url(#bl5)"/>
<polygon points="143.38,524.82 184.18,517.73 209.02,524.82 210.79,549.66 207.24,570.95 184.18,578.04 152.25,578.04 139.83,558.53" fill-opacity="0.286" filter="url(#bl5)"/>
<polygon points="210.79,528.37 237.4,524.82 269.33,524.82 281.75,531.92 288.85,549.66 283.52,567.4 274.65,581.59 264.01,583.37 237.4,567.4 212.56,558.53" fill-opacity="0.286" filter="url(#bl4)"/>
<ellipse cx="166.44" cy="547.89" rx="25.92" ry="20.16" fill="url(#g8)"/>
<ellipse cx="262.24" cy="550.55" rx="30.24" ry="28.8" fill="url(#g1)"/>
<ellipse cx="166.44" cy="482.25" rx="18" ry="14.4" fill="url(#g0)"/>
<ellipse cx="161.12" cy="468.06" rx="39.6" ry="24.48" fill="url(#g2)"/>
</g></g>
<rect x="124.8" y="431.4" width="83.9" height="83.2" fill="none" stroke="#111" stroke-width="1.3"/>
<rect x="209.6" y="520.8" width="90.8" height="63.8" fill="none" stroke="#111" stroke-width="1.3"/>
<rect x="120.7" y="402.8" width="192.6" height="193" fill="none" stroke="#222" stroke-width="1.5"/>
<path d="M131.8 595.8v4.5M166.4 595.8v4.5M195.7 595.8v4.5M248 595.8v4.5M294.5 595.8v4.5M210.88 595.8v2.3M261.99 595.8v2.3M174.37 595.8v2.3M156.99 595.8v2.3M220.13 595.8v2.3M270.18 595.8v2.3M178.01 595.8v2.3M152.69 595.8v2.3M226.75 595.8v2.3M275.99 595.8v2.3M181.34 595.8v2.3M148.76 595.8v2.3M231.92 595.8v2.3M280.5 595.8v2.3M184.35 595.8v2.3M145.2 595.8v2.3M236.14 595.8v2.3M284.18 595.8v2.3M187.08 595.8v2.3M141.98 595.8v2.3M239.72 595.8v2.3M287.3 595.8v2.3M189.54 595.8v2.3M139.07 595.8v2.3M242.82 595.8v2.3M289.99 595.8v2.3M191.78 595.8v2.3M136.43 595.8v2.3M245.55 595.8v2.3M292.37 595.8v2.3M193.82 595.8v2.3M134.02 595.8v2.3M308.5 595.8v2.3M170.46 595.8v2.3M161.6 595.8v2.3M167.22 595.8v2.3M165.43 595.8v2.3M168.03 595.8v2.3M164.47 595.8v2.3M168.85 595.8v2.3M163.51 595.8v2.3M169.66 595.8v2.3M162.55 595.8v2.3M120.7 421.9h-4.5M120.7 468.1h-4.5M120.7 523.4h-4.5M120.7 548.4h-4.5M120.7 571.8h-4.5M120.7 507.35h-2.3M120.7 454.2h-2.3M120.7 541.6h-2.3M120.7 554.76h-2.3M120.7 497.57h-2.3M120.7 446.06h-2.3M120.7 538.49h-2.3M120.7 557.67h-2.3M120.7 490.56h-2.3M120.7 440.29h-2.3M120.7 535.65h-2.3M120.7 560.33h-2.3M120.7 485.11h-2.3M120.7 435.81h-2.3M120.7 533.08h-2.3M120.7 562.74h-2.3M120.7 480.64h-2.3M120.7 432.15h-2.3M120.7 530.76h-2.3M120.7 564.91h-2.3M120.7 476.86h-2.3M120.7 429.06h-2.3M120.7 528.66h-2.3M120.7 566.88h-2.3M120.7 473.58h-2.3M120.7 426.38h-2.3M120.7 526.74h-2.3M120.7 568.67h-2.3M120.7 470.69h-2.3M120.7 424.01h-2.3M120.7 525h-2.3M120.7 570.3h-2.3M120.7 407.99h-2.3M120.7 544.93h-2.3M120.7 551.64h-2.3M120.7 547.7h-2.3M120.7 549.05h-2.3M120.7 547.01h-2.3M120.7 549.71h-2.3M120.7 546.31h-2.3M120.7 550.36h-2.3M120.7 545.62h-2.3M120.7 551h-2.3" stroke="#111" stroke-width="1" fill="none"/>
<text x="128.6" y="615.6" font-size="10.2" text-anchor="start" fill="#222">-10<tspan font-size="7.5" dy="-6">3</tspan></text>
<text x="167.6" y="615.6" font-size="10.2" text-anchor="start" fill="#222">0</text>
<text x="194.7" y="615.6" font-size="10.2" text-anchor="start" fill="#222">10<tspan font-size="7.5" dy="-6">3</tspan></text>
<text x="247" y="615.6" font-size="10.2" text-anchor="start" fill="#222">10<tspan font-size="7.5" dy="-6">4</tspan></text>
<text x="293.5" y="615.6" font-size="10.2" text-anchor="start" fill="#222">10<tspan font-size="7.5" dy="-6">5</tspan></text>
<text x="112.2" y="428.3" font-size="10.2" text-anchor="end" fill="#222">10<tspan font-size="7.5" dy="-6.4">5</tspan></text>
<text x="112.2" y="474.5" font-size="10.2" text-anchor="end" fill="#222">10<tspan font-size="7.5" dy="-6.4">4</tspan></text>
<text x="112.2" y="529.8" font-size="10.2" text-anchor="end" fill="#222">10<tspan font-size="7.5" dy="-6.4">3</tspan></text>
<text x="111.7" y="551.9" font-size="10.2" text-anchor="end" fill="#222">0</text>
<text x="112.2" y="578.2" font-size="10.2" text-anchor="end" fill="#222">-10<tspan font-size="7.5" dy="-6.4">3</tspan></text>
<text x="217" y="627.4" font-size="13.9" font-weight="bold" text-anchor="middle">Thy1.2 BV786</text>
<text transform="translate(91.3,491.3) rotate(-90)" font-size="13.9" font-weight="bold" text-anchor="middle">B220 AF700</text>
<rect x="215.72" y="423.8" width="47.77" height="14.5" fill="#fff" fill-opacity="0.72"/>
<rect x="224.69" y="439.7" width="30.02" height="14.5" fill="#fff" fill-opacity="0.72"/>
<rect x="264.89" y="477.9" width="46.22" height="14.5" fill="#fff" fill-opacity="0.72"/>
<rect x="272.59" y="494.7" width="30.02" height="14.5" fill="#fff" fill-opacity="0.72"/>
<text x="239.6" y="435.3" font-size="13.9" font-weight="bold" text-anchor="middle">B cells</text>
<text x="239.7" y="451.2" font-size="13.9" font-weight="bold" text-anchor="middle">70,3</text>
<text x="288" y="489.4" font-size="13.9" font-weight="bold" text-anchor="middle">T cells</text>
<text x="287.6" y="506.2" font-size="13.9" font-weight="bold" text-anchor="middle">22,0</text>
</g>
<g>
<g clip-path="url(#c356_403)"><g filter="url(#dith)">
<polygon points="363.66,448.71 501.04,448.71 509.42,587.76 367.01,592.79" fill-opacity="0.011" filter="url(#bl10)"/>
<polygon points="430.68,478.87 484.29,478.87 484.29,520.75 430.68,520.75" fill-opacity="0.044" filter="url(#bl8)"/>
<polygon points="370.36,450.39 393.82,445.36 417.27,448.71 429.84,458.76 429,478.87 420.62,495.62 413.92,512.37 400.52,519.07 387.12,515.72 378.74,498.97 372.04,475.52" fill-opacity="0.132" filter="url(#bl5)"/>
<polygon points="377.06,453.74 417.27,453.74 423.97,467.14 417.27,485.57 407.22,498.97 397.17,502.32 387.12,488.92 378.74,470.49" fill-opacity="0.286" filter="url(#bl4)"/>
<polygon points="378.74,522.42 427.32,522.42 432.35,545.88 427.32,567.66 408.9,576.03 387.12,572.68 378.74,554.26" fill-opacity="0.165" filter="url(#bl5)"/>
<polygon points="434.03,529.13 459.16,522.42 480.93,529.13 485.96,545.88 482.61,569.33 474.23,579.39 460.83,581.06 444.08,572.68 434.03,555.93" fill-opacity="0.187" filter="url(#bl4)"/>
<ellipse cx="398.84" cy="549.23" rx="21.6" ry="21.6" fill="url(#g9)"/>
<ellipse cx="400.52" cy="488.92" rx="14.4" ry="18" fill="url(#g10)"/>
<ellipse cx="398.84" cy="467.14" rx="36" ry="24.48" fill="url(#g11)"/>
<ellipse cx="461.67" cy="553.42" rx="24.48" ry="23.04" fill="url(#g2)"/>
</g></g>
<rect x="363.3" y="443.8" width="66.5" height="74.4" fill="none" stroke="#111" stroke-width="1.3"/>
<rect x="430.2" y="519.2" width="72.1" height="65.4" fill="none" stroke="#111" stroke-width="1.3"/>
<rect x="356.6" y="403" width="193" height="193" fill="none" stroke="#222" stroke-width="1.5"/>
<path d="M371.6 596v4.5M401.6 596v4.5M433.6 596v4.5M484.6 596v4.5M533.6 596v4.5M448.41 596v2.3M499.34 596v2.3M410.3 596v2.3M393.44 596v2.3M457.42 596v2.3M507.97 596v2.3M414.28 596v2.3M389.71 596v2.3M463.88 596v2.3M514.1 596v2.3M417.92 596v2.3M386.3 596v2.3M468.91 596v2.3M518.85 596v2.3M421.21 596v2.3M383.22 596v2.3M473.03 596v2.3M522.73 596v2.3M424.18 596v2.3M380.43 596v2.3M476.52 596v2.3M526.01 596v2.3M426.87 596v2.3M377.91 596v2.3M479.55 596v2.3M528.85 596v2.3M429.32 596v2.3M375.61 596v2.3M482.21 596v2.3M531.36 596v2.3M431.55 596v2.3M373.52 596v2.3M548.35 596v2.3M406.04 596v2.3M397.44 596v2.3M402.49 596v2.3M400.76 596v2.3M403.39 596v2.3M399.93 596v2.3M404.27 596v2.3M399.09 596v2.3M405.16 596v2.3M398.26 596v2.3M356.6 421.1h-4.5M356.6 465.2h-4.5M356.6 515.7h-4.5M356.6 558.8h-4.5M356.6 501.04h-2.3M356.6 451.93h-2.3M356.6 547.08h-2.3M356.6 492.11h-2.3M356.6 444.16h-2.3M356.6 541.72h-2.3M356.6 485.71h-2.3M356.6 438.65h-2.3M356.6 536.82h-2.3M356.6 480.73h-2.3M356.6 434.38h-2.3M356.6 532.39h-2.3M356.6 476.65h-2.3M356.6 430.89h-2.3M356.6 528.38h-2.3M356.6 473.2h-2.3M356.6 427.93h-2.3M356.6 524.76h-2.3M356.6 470.21h-2.3M356.6 425.37h-2.3M356.6 521.47h-2.3M356.6 467.56h-2.3M356.6 423.12h-2.3M356.6 518.46h-2.3M356.6 407.82h-2.3M356.6 552.82h-2.3M356.6 557.6h-2.3M356.6 556.4h-2.3M356.6 555.2h-2.3M356.6 554.01h-2.3" stroke="#111" stroke-width="1" fill="none"/>
<text x="368.4" y="615.8" font-size="10.2" text-anchor="start" fill="#222">-10<tspan font-size="7.5" dy="-6">3</tspan></text>
<text x="402.8" y="615.8" font-size="10.2" text-anchor="start" fill="#222">0</text>
<text x="432.6" y="615.8" font-size="10.2" text-anchor="start" fill="#222">10<tspan font-size="7.5" dy="-6">3</tspan></text>
<text x="483.6" y="615.8" font-size="10.2" text-anchor="start" fill="#222">10<tspan font-size="7.5" dy="-6">4</tspan></text>
<text x="532.6" y="615.8" font-size="10.2" text-anchor="start" fill="#222">10<tspan font-size="7.5" dy="-6">5</tspan></text>
<text x="348.1" y="427.5" font-size="10.2" text-anchor="end" fill="#222">10<tspan font-size="7.5" dy="-6.4">5</tspan></text>
<text x="348.1" y="471.6" font-size="10.2" text-anchor="end" fill="#222">10<tspan font-size="7.5" dy="-6.4">4</tspan></text>
<text x="348.1" y="522.1" font-size="10.2" text-anchor="end" fill="#222">10<tspan font-size="7.5" dy="-6.4">3</tspan></text>
<text x="347.6" y="562.3" font-size="10.2" text-anchor="end" fill="#222">0</text>
<text x="453.1" y="627" font-size="13.9" font-weight="bold" text-anchor="middle">CD4 APC-H7</text>
<text transform="translate(329.2,490) rotate(-90)" font-size="13.9" font-weight="bold" text-anchor="middle">CD8 BV605</text>
<rect x="442.11" y="447.4" width="30.78" height="14.5" fill="#fff" fill-opacity="0.72"/>
<rect x="441.89" y="463.6" width="30.02" height="14.5" fill="#fff" fill-opacity="0.72"/>
<rect x="508.41" y="536.8" width="30.78" height="14.5" fill="#fff" fill-opacity="0.72"/>
<rect x="508.29" y="553.2" width="30.02" height="14.5" fill="#fff" fill-opacity="0.72"/>
<text x="457.5" y="458.9" font-size="13.9" font-weight="bold" text-anchor="middle">CD8</text>
<text x="456.9" y="475.1" font-size="13.9" font-weight="bold" text-anchor="middle">46,5</text>
<text x="523.8" y="548.3" font-size="13.9" font-weight="bold" text-anchor="middle">CD4</text>
<text x="523.3" y="564.7" font-size="13.9" font-weight="bold" text-anchor="middle">47,3</text>
</g>
<g>
<g clip-path="url(#c597_272)"><g filter="url(#dith)">
<polygon points="618.94,324.57 787.31,324.57 787.31,463.31 618.94,463.31" fill-opacity="0.009" filter="url(#bl10)"/>
<polygon points="625.67,386.53 694.37,386.53 694.37,443.11 659.35,443.11 627.02,429.64" fill-opacity="0.066" filter="url(#bl6)"/>
<polygon points="672.82,331.31 710.53,328.61 710.53,379.8 672.82,379.8" fill-opacity="0.132" filter="url(#bl5)"/>
<polygon points="622.98,340.74 635.1,332.66 652.61,331.31 672.82,331.31 674.17,348.82 672.82,375.76 656.66,383.84 632.41,383.84 624.33,370.37 621.63,354.21" fill-opacity="0.176" filter="url(#bl4)"/>
<polygon points="694.37,386.53 740.17,386.53 741.52,416.17 738.82,449.84 726.7,459.27 699.76,449.84 694.37,416.17" fill-opacity="0.110" filter="url(#bl5)"/>
<polygon points="710.53,329.96 733.43,327.27 744.21,335.35 745.56,355.55 740.17,375.76 726.7,385.19 710.53,382.49 707.84,355.55" fill-opacity="0.220" filter="url(#bl4)"/>
<ellipse cx="717.27" cy="413.47" rx="18.72" ry="28.8" fill="url(#g0)"/>
<ellipse cx="643.19" cy="355.55" rx="27.36" ry="31.68" fill="url(#g12)"/>
<ellipse cx="726.7" cy="351.51" rx="24.48" ry="28.8" fill="url(#g2)"/>
</g></g>
<polyline points="597.5,388.2 674,385.3 790.5,389.2" fill="none" stroke="#111" stroke-width="1.3"/>
<polyline points="677.3,272.6 674,385.3 641.8,465.6" fill="none" stroke="#111" stroke-width="1.3"/>
<rect x="597.5" y="272.6" width="193" height="193" fill="none" stroke="#222" stroke-width="1.5"/>
<path d="M608.9 465.6v4.5M640.7 465.6v4.5M672.5 465.6v4.5M725.4 465.6v4.5M771.5 465.6v4.5M687.86 465.6v2.3M739.27 465.6v2.3M649.35 465.6v2.3M632.05 465.6v2.3M697.21 465.6v2.3M747.39 465.6v2.3M653.3 465.6v2.3M628.1 465.6v2.3M703.91 465.6v2.3M753.15 465.6v2.3M656.92 465.6v2.3M624.48 465.6v2.3M709.13 465.6v2.3M757.62 465.6v2.3M660.19 465.6v2.3M621.21 465.6v2.3M713.4 465.6v2.3M761.27 465.6v2.3M663.14 465.6v2.3M618.26 465.6v2.3M717.02 465.6v2.3M764.36 465.6v2.3M665.82 465.6v2.3M615.58 465.6v2.3M720.16 465.6v2.3M767.03 465.6v2.3M668.25 465.6v2.3M613.15 465.6v2.3M722.92 465.6v2.3M769.39 465.6v2.3M670.46 465.6v2.3M610.94 465.6v2.3M785.38 465.6v2.3M645.11 465.6v2.3M636.29 465.6v2.3M641.59 465.6v2.3M639.81 465.6v2.3M642.47 465.6v2.3M638.93 465.6v2.3M643.36 465.6v2.3M638.04 465.6v2.3M644.24 465.6v2.3M637.16 465.6v2.3M597.5 290.8h-4.5M597.5 336.6h-4.5M597.5 389.4h-4.5M597.5 421.9h-4.5M597.5 450.3h-4.5M597.5 374.07h-2.3M597.5 322.82h-2.3M597.5 413.06h-2.3M597.5 429.63h-2.3M597.5 364.74h-2.3M597.5 314.75h-2.3M597.5 409.02h-2.3M597.5 433.16h-2.3M597.5 358.05h-2.3M597.5 309.03h-2.3M597.5 405.33h-2.3M597.5 436.38h-2.3M597.5 352.84h-2.3M597.5 304.59h-2.3M597.5 401.98h-2.3M597.5 439.3h-2.3M597.5 348.57h-2.3M597.5 300.96h-2.3M597.5 398.96h-2.3M597.5 441.94h-2.3M597.5 344.96h-2.3M597.5 297.9h-2.3M597.5 396.23h-2.3M597.5 444.33h-2.3M597.5 341.83h-2.3M597.5 295.24h-2.3M597.5 393.75h-2.3M597.5 446.5h-2.3M597.5 339.07h-2.3M597.5 292.9h-2.3M597.5 391.48h-2.3M597.5 448.48h-2.3M597.5 277.01h-2.3M597.5 417.39h-2.3M597.5 425.84h-2.3M597.5 420.99h-2.3M597.5 422.69h-2.3M597.5 420.09h-2.3M597.5 423.48h-2.3M597.5 419.18h-2.3M597.5 424.27h-2.3M597.5 418.29h-2.3M597.5 425.06h-2.3" stroke="#111" stroke-width="1" fill="none"/>
<text x="605.7" y="485.4" font-size="10.2" text-anchor="start" fill="#222">-10<tspan font-size="7.5" dy="-6">3</tspan></text>
<text x="641.9" y="485.4" font-size="10.2" text-anchor="start" fill="#222">0</text>
<text x="671.5" y="485.4" font-size="10.2" text-anchor="start" fill="#222">10<tspan font-size="7.5" dy="-6">3</tspan></text>
<text x="724.4" y="485.4" font-size="10.2" text-anchor="start" fill="#222">10<tspan font-size="7.5" dy="-6">4</tspan></text>
<text x="770.5" y="485.4" font-size="10.2" text-anchor="start" fill="#222">10<tspan font-size="7.5" dy="-6">5</tspan></text>
<text x="589" y="297.2" font-size="10.2" text-anchor="end" fill="#222">10<tspan font-size="7.5" dy="-6.4">5</tspan></text>
<text x="589" y="343" font-size="10.2" text-anchor="end" fill="#222">10<tspan font-size="7.5" dy="-6.4">4</tspan></text>
<text x="589" y="395.8" font-size="10.2" text-anchor="end" fill="#222">10<tspan font-size="7.5" dy="-6.4">3</tspan></text>
<text x="588.5" y="425.4" font-size="10.2" text-anchor="end" fill="#222">0</text>
<text x="589" y="456.7" font-size="10.2" text-anchor="end" fill="#222">-10<tspan font-size="7.5" dy="-6.4">3</tspan></text>
<text x="694" y="507.8" font-size="13.9" font-weight="bold" text-anchor="middle">CD44 P/DEZZLE</text>
<text transform="translate(567.9,369.1) rotate(-90)" font-size="13.9" font-weight="bold" text-anchor="middle">CD62L PerCP-Cy5.5</text>
<rect x="599.9" y="280.8" width="40.05" height="14.5" fill="#fff" fill-opacity="0.72"/>
<rect x="599.9" y="297.2" width="30.02" height="14.5" fill="#fff" fill-opacity="0.72"/>
<rect x="742.58" y="280.8" width="30.52" height="14.5" fill="#fff" fill-opacity="0.72"/>
<rect x="743.08" y="297.2" width="30.02" height="14.5" fill="#fff" fill-opacity="0.72"/>
<rect x="599.9" y="423.1" width="16.11" height="14.5" fill="#fff" fill-opacity="0.72"/>
<rect x="599.9" y="441.1" width="30.02" height="14.5" fill="#fff" fill-opacity="0.72"/>
<rect x="742.58" y="423.7" width="30.52" height="14.5" fill="#fff" fill-opacity="0.72"/>
<rect x="743.08" y="441.1" width="30.02" height="14.5" fill="#fff" fill-opacity="0.72"/>
<text x="601.4" y="292.3" font-size="13.9" font-weight="bold" text-anchor="start">Naive</text>
<text x="601.4" y="308.7" font-size="13.9" font-weight="bold" text-anchor="start">29,7</text>
<text x="771.6" y="292.3" font-size="13.9" font-weight="bold" text-anchor="end">Tcm</text>
<text x="771.6" y="308.7" font-size="13.9" font-weight="bold" text-anchor="end">53,3</text>
<text x="601.4" y="434.6" font-size="13.9" font-weight="bold" text-anchor="start">- -</text>
<text x="601.4" y="452.6" font-size="13.9" font-weight="bold" text-anchor="start">1,18</text>
<text x="771.6" y="435.2" font-size="13.9" font-weight="bold" text-anchor="end">Tem</text>
<text x="771.6" y="452.6" font-size="13.9" font-weight="bold" text-anchor="end">15,8</text>
</g>
<g>
<g clip-path="url(#c836_272)"><g filter="url(#dith)">
<polygon points="871.41,335.35 911.82,342.08 911.82,402.7 871.41,402.7" fill-opacity="0.018" filter="url(#bl8)"/>
<polygon points="911.82,335.35 965.7,329.96 999.37,324.57 1003.41,348.82 999.37,386.53 938.76,389.23 911.82,382.49" fill-opacity="0.066" filter="url(#bl8)"/>
<polygon points="945.49,359.59 979.17,354.21 981.86,389.23 945.49,389.23" fill-opacity="0.077" filter="url(#bl8)"/>
<polygon points="898.35,389.23 949.53,386.53 949.53,416.17 898.35,416.17" fill-opacity="0.055" filter="url(#bl6)"/>
<polygon points="892.96,418.86 949.53,413.47 949.53,445.8 911.82,447.15 892.96,443.11" fill-opacity="0.165" filter="url(#bl5)"/>
<polygon points="860.63,422.9 875.45,416.17 892.96,417.52 901.04,425.6 898.35,440.41 884.88,447.15 866.02,445.8 859.29,436.37" fill-opacity="0.198" filter="url(#bl4)"/>
<polygon points="950.88,393.27 971.09,390.58 979.17,397.31 980.52,422.9 977.82,448.5 965.7,452.54 950.88,444.45 948.19,416.17" fill-opacity="0.220" filter="url(#bl4)"/>
<ellipse cx="906.43" cy="432.33" rx="21.6" ry="8.64" fill="url(#g4)"/>
<ellipse cx="881.51" cy="431.25" rx="24.48" ry="18" fill="url(#g2)"/>
<ellipse cx="965.02" cy="418.86" rx="23.04" ry="40.32" fill="url(#g3)"/>
</g></g>
<rect x="906.9" y="318.6" width="97.9" height="69.6" fill="none" stroke="#111" stroke-width="1.3"/>
<rect x="836.6" y="272.6" width="193" height="193" fill="none" stroke="#222" stroke-width="1.5"/>
<path d="M848 465.6v4.5M879.8 465.6v4.5M911.6 465.6v4.5M964.5 465.6v4.5M1010.6 465.6v4.5M926.96 465.6v2.3M978.37 465.6v2.3M888.45 465.6v2.3M871.15 465.6v2.3M936.31 465.6v2.3M986.49 465.6v2.3M892.4 465.6v2.3M867.2 465.6v2.3M943.01 465.6v2.3M992.25 465.6v2.3M896.02 465.6v2.3M863.58 465.6v2.3M948.23 465.6v2.3M996.72 465.6v2.3M899.29 465.6v2.3M860.31 465.6v2.3M952.5 465.6v2.3M1000.37 465.6v2.3M902.24 465.6v2.3M857.36 465.6v2.3M956.12 465.6v2.3M1003.46 465.6v2.3M904.92 465.6v2.3M854.68 465.6v2.3M959.26 465.6v2.3M1006.13 465.6v2.3M907.35 465.6v2.3M852.25 465.6v2.3M962.02 465.6v2.3M1008.49 465.6v2.3M909.56 465.6v2.3M850.04 465.6v2.3M1024.48 465.6v2.3M884.21 465.6v2.3M875.39 465.6v2.3M880.69 465.6v2.3M878.91 465.6v2.3M881.57 465.6v2.3M878.03 465.6v2.3M882.46 465.6v2.3M877.14 465.6v2.3M883.34 465.6v2.3M876.26 465.6v2.3M836.6 290.8h-4.5M836.6 336.6h-4.5M836.6 389.4h-4.5M836.6 421.9h-4.5M836.6 450.3h-4.5M836.6 374.07h-2.3M836.6 322.82h-2.3M836.6 413.06h-2.3M836.6 429.63h-2.3M836.6 364.74h-2.3M836.6 314.75h-2.3M836.6 409.02h-2.3M836.6 433.16h-2.3M836.6 358.05h-2.3M836.6 309.03h-2.3M836.6 405.33h-2.3M836.6 436.38h-2.3M836.6 352.84h-2.3M836.6 304.59h-2.3M836.6 401.98h-2.3M836.6 439.3h-2.3M836.6 348.57h-2.3M836.6 300.96h-2.3M836.6 398.96h-2.3M836.6 441.94h-2.3M836.6 344.96h-2.3M836.6 297.9h-2.3M836.6 396.23h-2.3M836.6 444.33h-2.3M836.6 341.83h-2.3M836.6 295.24h-2.3M836.6 393.75h-2.3M836.6 446.5h-2.3M836.6 339.07h-2.3M836.6 292.9h-2.3M836.6 391.48h-2.3M836.6 448.48h-2.3M836.6 277.01h-2.3M836.6 417.39h-2.3M836.6 425.84h-2.3M836.6 420.99h-2.3M836.6 422.69h-2.3M836.6 420.09h-2.3M836.6 423.48h-2.3M836.6 419.18h-2.3M836.6 424.27h-2.3M836.6 418.29h-2.3M836.6 425.06h-2.3" stroke="#111" stroke-width="1" fill="none"/>
<text x="844.8" y="485.4" font-size="10.2" text-anchor="start" fill="#222">-10<tspan font-size="7.5" dy="-6">3</tspan></text>
<text x="881" y="485.4" font-size="10.2" text-anchor="start" fill="#222">0</text>
<text x="910.6" y="485.4" font-size="10.2" text-anchor="start" fill="#222">10<tspan font-size="7.5" dy="-6">3</tspan></text>
<text x="963.5" y="485.4" font-size="10.2" text-anchor="start" fill="#222">10<tspan font-size="7.5" dy="-6">4</tspan></text>
<text x="1009.6" y="485.4" font-size="10.2" text-anchor="start" fill="#222">10<tspan font-size="7.5" dy="-6">5</tspan></text>
<text x="828.1" y="297.2" font-size="10.2" text-anchor="end" fill="#222">10<tspan font-size="7.5" dy="-6.4">5</tspan></text>
<text x="828.1" y="343" font-size="10.2" text-anchor="end" fill="#222">10<tspan font-size="7.5" dy="-6.4">4</tspan></text>
<text x="828.1" y="395.8" font-size="10.2" text-anchor="end" fill="#222">10<tspan font-size="7.5" dy="-6.4">3</tspan></text>
<text x="827.6" y="425.4" font-size="10.2" text-anchor="end" fill="#222">0</text>
<text x="828.1" y="456.7" font-size="10.2" text-anchor="end" fill="#222">-10<tspan font-size="7.5" dy="-6.4">3</tspan></text>
<text x="933.1" y="507.8" font-size="13.9" font-weight="bold" text-anchor="middle">CD44 PE/DAZZLE</text>
<text transform="translate(809.2,369.1) rotate(-90)" font-size="13.9" font-weight="bold" text-anchor="middle">CD38 PE</text>
<rect x="910.76" y="280.8" width="94.08" height="14.5" fill="#fff" fill-opacity="0.72"/>
<rect x="942.79" y="297.2" width="30.02" height="14.5" fill="#fff" fill-opacity="0.72"/>
<text x="957.8" y="292.3" font-size="13.9" font-weight="bold" text-anchor="middle">CD44+ CD38+</text>
<text x="957.8" y="308.7" font-size="13.9" font-weight="bold" text-anchor="middle">9,44</text>
</g>
<g>
<g clip-path="url(#c1075_272)"><g filter="url(#dith)">
<polygon points="1105.02,328.61 1150.82,319.19 1218.17,319.19 1238.37,335.35 1245.11,382.49 1224.9,402.7 1110.41,402.7" fill-opacity="0.035" filter="url(#bl8)"/>
<polygon points="1171.02,342.08 1218.17,342.08 1218.17,389.23 1171.02,389.23" fill-opacity="0.033" filter="url(#bl8)"/>
<polygon points="1137.35,386.53 1191.23,386.53 1191.23,402.7 1137.35,402.7" fill-opacity="0.088" filter="url(#bl6)"/>
<polygon points="1134.66,402.7 1188.53,400 1191.23,443.11 1137.35,445.8" fill-opacity="0.198" filter="url(#bl5)"/>
<polygon points="1102.33,408.09 1117.14,401.35 1133.31,405.39 1138.7,416.17 1136,436.37 1126.57,444.45 1109.06,444.45 1100.98,429.64" fill-opacity="0.187" filter="url(#bl4)"/>
<polygon points="1189.88,397.31 1210.09,394.62 1219.52,402.7 1220.86,429.64 1215.47,445.8 1200.66,448.5 1188.53,436.37 1187.19,409.43" fill-opacity="0.198" filter="url(#bl4)"/>
<ellipse cx="1121.19" cy="422.9" rx="28.8" ry="33.12" fill="url(#g13)"/>
<ellipse cx="1205.37" cy="421.56" rx="21.6" ry="30.24" fill="url(#g2)"/>
</g></g>
<rect x="1147" y="320" width="90" height="68.6" fill="none" stroke="#111" stroke-width="1.3"/>
<rect x="1075.4" y="272.5" width="193" height="193" fill="none" stroke="#222" stroke-width="1.5"/>
<path d="M1086.8 465.5v4.5M1118.6 465.5v4.5M1150.4 465.5v4.5M1203.3 465.5v4.5M1249.4 465.5v4.5M1165.76 465.5v2.3M1217.17 465.5v2.3M1127.25 465.5v2.3M1109.95 465.5v2.3M1175.11 465.5v2.3M1225.29 465.5v2.3M1131.2 465.5v2.3M1106 465.5v2.3M1181.81 465.5v2.3M1231.05 465.5v2.3M1134.82 465.5v2.3M1102.38 465.5v2.3M1187.03 465.5v2.3M1235.52 465.5v2.3M1138.09 465.5v2.3M1099.11 465.5v2.3M1191.3 465.5v2.3M1239.17 465.5v2.3M1141.04 465.5v2.3M1096.16 465.5v2.3M1194.92 465.5v2.3M1242.26 465.5v2.3M1143.72 465.5v2.3M1093.48 465.5v2.3M1198.06 465.5v2.3M1244.93 465.5v2.3M1146.15 465.5v2.3M1091.05 465.5v2.3M1200.82 465.5v2.3M1247.29 465.5v2.3M1148.36 465.5v2.3M1088.84 465.5v2.3M1263.28 465.5v2.3M1123.01 465.5v2.3M1114.19 465.5v2.3M1119.49 465.5v2.3M1117.71 465.5v2.3M1120.37 465.5v2.3M1116.83 465.5v2.3M1121.26 465.5v2.3M1115.94 465.5v2.3M1122.14 465.5v2.3M1115.06 465.5v2.3M1075.4 290.5h-4.5M1075.4 335.5h-4.5M1075.4 385.5h-4.5M1075.4 426.5h-4.5M1075.4 370.98h-2.3M1075.4 321.96h-2.3M1075.4 415.35h-2.3M1075.4 362.15h-2.3M1075.4 314.03h-2.3M1075.4 410.25h-2.3M1075.4 355.81h-2.3M1075.4 308.41h-2.3M1075.4 405.59h-2.3M1075.4 350.88h-2.3M1075.4 304.05h-2.3M1075.4 401.38h-2.3M1075.4 346.84h-2.3M1075.4 300.49h-2.3M1075.4 397.57h-2.3M1075.4 343.42h-2.3M1075.4 297.47h-2.3M1075.4 394.12h-2.3M1075.4 340.46h-2.3M1075.4 294.86h-2.3M1075.4 390.99h-2.3M1075.4 337.84h-2.3M1075.4 292.56h-2.3M1075.4 388.13h-2.3M1075.4 276.95h-2.3M1075.4 420.81h-2.3M1075.4 425.36h-2.3M1075.4 424.21h-2.3M1075.4 423.07h-2.3M1075.4 421.94h-2.3" stroke="#111" stroke-width="1" fill="none"/>
<text x="1083.6" y="485.3" font-size="10.2" text-anchor="start" fill="#222">-10<tspan font-size="7.5" dy="-6">3</tspan></text>
<text x="1119.8" y="485.3" font-size="10.2" text-anchor="start" fill="#222">0</text>
<text x="1149.4" y="485.3" font-size="10.2" text-anchor="start" fill="#222">10<tspan font-size="7.5" dy="-6">3</tspan></text>
<text x="1202.3" y="485.3" font-size="10.2" text-anchor="start" fill="#222">10<tspan font-size="7.5" dy="-6">4</tspan></text>
<text x="1248.4" y="485.3" font-size="10.2" text-anchor="start" fill="#222">10<tspan font-size="7.5" dy="-6">5</tspan></text>
<text x="1066.9" y="296.9" font-size="10.2" text-anchor="end" fill="#222">10<tspan font-size="7.5" dy="-6.4">5</tspan></text>
<text x="1066.9" y="341.9" font-size="10.2" text-anchor="end" fill="#222">10<tspan font-size="7.5" dy="-6.4">4</tspan></text>
<text x="1066.9" y="391.9" font-size="10.2" text-anchor="end" fill="#222">10<tspan font-size="7.5" dy="-6.4">3</tspan></text>
<text x="1066.4" y="430" font-size="10.2" text-anchor="end" fill="#222">0</text>
<text x="1171.9" y="507.7" font-size="13.9" font-weight="bold" text-anchor="middle">CD44 PE/DAZZLE</text>
<text transform="translate(1048.7,369) rotate(-90)" font-size="13.9" font-weight="bold" text-anchor="middle">CD69 APC</text>
<rect x="1142.76" y="280.5" width="94.08" height="14.5" fill="#fff" fill-opacity="0.72"/>
<rect x="1174.79" y="297.9" width="30.02" height="14.5" fill="#fff" fill-opacity="0.72"/>
<text x="1189.8" y="292" font-size="13.9" font-weight="bold" text-anchor="middle">CD44+ CD69+</text>
<text x="1189.8" y="309.4" font-size="13.9" font-weight="bold" text-anchor="middle">4,31</text>
</g>
<g>
<g clip-path="url(#c1314_272)"><g filter="url(#dith)">
<polygon points="1389.82,346.12 1484.11,348.82 1484.11,391.92 1389.82,391.92" fill-opacity="0.031" filter="url(#bl8)"/>
<polygon points="1362.88,389.23 1403.29,386.53 1416.76,416.17 1369.61,416.17" fill-opacity="0.033" filter="url(#bl6)"/>
<polygon points="1419.45,351.51 1446.39,348.82 1451.78,375.76 1454.47,409.43 1427.53,413.47 1416.76,395.96" fill-opacity="0.132" filter="url(#bl7)"/>
<polygon points="1373.66,416.17 1427.53,413.47 1430.23,443.11 1403.29,445.8 1373.66,443.11" fill-opacity="0.176" filter="url(#bl5)"/>
<polygon points="1338.63,426.94 1349.41,417.52 1369.61,418.86 1376.35,429.64 1372.31,443.11 1360.19,448.5 1345.37,447.15 1337.96,437.72" fill-opacity="0.220" filter="url(#bl4)"/>
<polygon points="1426.19,410.78 1443.7,405.39 1457.17,410.78 1458.52,429.64 1453.13,443.11 1436.96,447.15 1426.19,437.72 1424.84,422.9" fill-opacity="0.220" filter="url(#bl4)"/>
<ellipse cx="1392.51" cy="432.33" rx="25.2" ry="8.64" fill="url(#g14)"/>
<ellipse cx="1360.19" cy="430.98" rx="25.92" ry="18.72" fill="url(#g15)"/>
<ellipse cx="1444.37" cy="424.25" rx="23.04" ry="21.6" fill="url(#g2)"/>
</g></g>
<rect x="1388.7" y="330.2" width="97" height="63.3" fill="none" stroke="#111" stroke-width="1.3"/>
<rect x="1314.5" y="272.5" width="193.5" height="193" fill="none" stroke="#222" stroke-width="1.5"/>
<path d="M1325.9 465.5v4.5M1357.7 465.5v4.5M1389.5 465.5v4.5M1442.4 465.5v4.5M1488.5 465.5v4.5M1404.86 465.5v2.3M1456.27 465.5v2.3M1366.35 465.5v2.3M1349.05 465.5v2.3M1414.21 465.5v2.3M1464.39 465.5v2.3M1370.3 465.5v2.3M1345.1 465.5v2.3M1420.91 465.5v2.3M1470.15 465.5v2.3M1373.92 465.5v2.3M1341.48 465.5v2.3M1426.13 465.5v2.3M1474.62 465.5v2.3M1377.19 465.5v2.3M1338.21 465.5v2.3M1430.4 465.5v2.3M1478.27 465.5v2.3M1380.14 465.5v2.3M1335.26 465.5v2.3M1434.02 465.5v2.3M1481.36 465.5v2.3M1382.82 465.5v2.3M1332.58 465.5v2.3M1437.16 465.5v2.3M1484.03 465.5v2.3M1385.25 465.5v2.3M1330.15 465.5v2.3M1439.92 465.5v2.3M1486.39 465.5v2.3M1387.46 465.5v2.3M1327.94 465.5v2.3M1502.38 465.5v2.3M1362.11 465.5v2.3M1353.29 465.5v2.3M1358.59 465.5v2.3M1356.81 465.5v2.3M1359.47 465.5v2.3M1355.93 465.5v2.3M1360.36 465.5v2.3M1355.04 465.5v2.3M1361.24 465.5v2.3M1354.16 465.5v2.3M1314.5 290h-4.5M1314.5 334.5h-4.5M1314.5 381h-4.5M1314.5 440h-4.5M1314.5 367.5h-2.3M1314.5 321.11h-2.3M1314.5 423.95h-2.3M1314.5 359.28h-2.3M1314.5 313.27h-2.3M1314.5 416.62h-2.3M1314.5 353.39h-2.3M1314.5 307.71h-2.3M1314.5 409.91h-2.3M1314.5 348.8h-2.3M1314.5 303.4h-2.3M1314.5 403.85h-2.3M1314.5 345.04h-2.3M1314.5 299.87h-2.3M1314.5 398.36h-2.3M1314.5 341.87h-2.3M1314.5 296.89h-2.3M1314.5 393.4h-2.3M1314.5 339.11h-2.3M1314.5 294.31h-2.3M1314.5 388.89h-2.3M1314.5 336.68h-2.3M1314.5 292.04h-2.3M1314.5 384.78h-2.3M1314.5 276.6h-2.3M1314.5 431.82h-2.3M1314.5 438.35h-2.3M1314.5 436.71h-2.3M1314.5 435.07h-2.3M1314.5 433.44h-2.3" stroke="#111" stroke-width="1" fill="none"/>
<text x="1322.7" y="485.3" font-size="10.2" text-anchor="start" fill="#222">-10<tspan font-size="7.5" dy="-6">3</tspan></text>
<text x="1358.9" y="485.3" font-size="10.2" text-anchor="start" fill="#222">0</text>
<text x="1388.5" y="485.3" font-size="10.2" text-anchor="start" fill="#222">10<tspan font-size="7.5" dy="-6">3</tspan></text>
<text x="1441.4" y="485.3" font-size="10.2" text-anchor="start" fill="#222">10<tspan font-size="7.5" dy="-6">4</tspan></text>
<text x="1487.5" y="485.3" font-size="10.2" text-anchor="start" fill="#222">10<tspan font-size="7.5" dy="-6">5</tspan></text>
<text x="1306" y="296.4" font-size="10.2" text-anchor="end" fill="#222">10<tspan font-size="7.5" dy="-6.4">5</tspan></text>
<text x="1306" y="340.9" font-size="10.2" text-anchor="end" fill="#222">10<tspan font-size="7.5" dy="-6.4">4</tspan></text>
<text x="1306" y="387.4" font-size="10.2" text-anchor="end" fill="#222">10<tspan font-size="7.5" dy="-6.4">3</tspan></text>
<text x="1305.5" y="443.5" font-size="10.2" text-anchor="end" fill="#222">0</text>
<text x="1411.25" y="507.7" font-size="13.9" font-weight="bold" text-anchor="middle">CD44 PE/DAZZLE</text>
<text transform="translate(1292.3,369) rotate(-90)" font-size="13.9" font-weight="bold" text-anchor="middle">KLRG1 FITC</text>
<rect x="1385.08" y="280.5" width="105.64" height="14.5" fill="#fff" fill-opacity="0.72"/>
<rect x="1422.89" y="297.9" width="30.02" height="14.5" fill="#fff" fill-opacity="0.72"/>
<text x="1437.9" y="292" font-size="13.9" font-weight="bold" text-anchor="middle">CD44+ KLRG1+</text>
<text x="1437.9" y="309.4" font-size="13.9" font-weight="bold" text-anchor="middle">4,43</text>
</g>
<g>
<g clip-path="url(#c597_524)"><g filter="url(#dith)">
<polygon points="699.76,590.04 740.17,587.35 767.11,614.29 760.37,634.49 713.23,638.53 699.76,614.29" fill-opacity="0.077" filter="url(#bl8)"/>
<polygon points="637.8,641.23 678.21,641.23 672.82,681.64 648.57,678.94 637.8,661.43" fill-opacity="0.121" filter="url(#bl6)"/>
<polygon points="632.41,611.59 637.8,599.47 652.61,595.43 678.21,598.12 699.76,598.12 709.19,603.51 706.49,627.76 686.29,637.19 639.14,638.53 632.41,627.76" fill-opacity="0.220" filter="url(#bl4)"/>
<polygon points="672.82,641.23 726.7,638.53 753.64,638.53 760.37,654.7 753.64,674.9 742.86,681.64 742.86,711.27 726.7,711.27 706.49,699.15 675.51,684.33 667.43,668.17" fill-opacity="0.220" filter="url(#bl4)"/>
<ellipse cx="659.35" cy="615.64" rx="57.6" ry="18.72" fill="url(#g16)"/>
<ellipse cx="719.96" cy="674.9" rx="47.52" ry="46.08" fill="url(#g15)" transform="rotate(-35 719.96 674.9)"/>
<ellipse cx="717.27" cy="673.56" rx="24.48" ry="21.6" fill="url(#g17)"/>
</g></g>
<polyline points="597.5,641.4 678.6,639.8 790.5,632.6" fill="none" stroke="#111" stroke-width="1.3"/>
<polyline points="678.6,524.8 678.6,639.8 633.6,717.8" fill="none" stroke="#111" stroke-width="1.3"/>
<rect x="597.5" y="524.8" width="193" height="193" fill="none" stroke="#222" stroke-width="1.5"/>
<path d="M608.9 717.8v4.5M640.7 717.8v4.5M672.5 717.8v4.5M725.4 717.8v4.5M771.5 717.8v4.5M687.86 717.8v2.3M739.27 717.8v2.3M649.35 717.8v2.3M632.05 717.8v2.3M697.21 717.8v2.3M747.39 717.8v2.3M653.3 717.8v2.3M628.1 717.8v2.3M703.91 717.8v2.3M753.15 717.8v2.3M656.92 717.8v2.3M624.48 717.8v2.3M709.13 717.8v2.3M757.62 717.8v2.3M660.19 717.8v2.3M621.21 717.8v2.3M713.4 717.8v2.3M761.27 717.8v2.3M663.14 717.8v2.3M618.26 717.8v2.3M717.02 717.8v2.3M764.36 717.8v2.3M665.82 717.8v2.3M615.58 717.8v2.3M720.16 717.8v2.3M767.03 717.8v2.3M668.25 717.8v2.3M613.15 717.8v2.3M722.92 717.8v2.3M769.39 717.8v2.3M670.46 717.8v2.3M610.94 717.8v2.3M785.38 717.8v2.3M645.11 717.8v2.3M636.29 717.8v2.3M641.59 717.8v2.3M639.81 717.8v2.3M642.47 717.8v2.3M638.93 717.8v2.3M643.36 717.8v2.3M638.04 717.8v2.3M644.24 717.8v2.3M637.16 717.8v2.3M597.5 542.5h-4.5M597.5 589.8h-4.5M597.5 642.3h-4.5M597.5 673.8h-4.5M597.5 703.8h-4.5M597.5 627.06h-2.3M597.5 575.57h-2.3M597.5 665.23h-2.3M597.5 681.96h-2.3M597.5 617.78h-2.3M597.5 567.24h-2.3M597.5 661.32h-2.3M597.5 685.69h-2.3M597.5 611.13h-2.3M597.5 561.33h-2.3M597.5 657.74h-2.3M597.5 689.1h-2.3M597.5 605.95h-2.3M597.5 556.74h-2.3M597.5 654.5h-2.3M597.5 692.18h-2.3M597.5 601.71h-2.3M597.5 553h-2.3M597.5 651.57h-2.3M597.5 694.97h-2.3M597.5 598.12h-2.3M597.5 549.83h-2.3M597.5 648.92h-2.3M597.5 697.49h-2.3M597.5 595h-2.3M597.5 547.08h-2.3M597.5 646.51h-2.3M597.5 699.79h-2.3M597.5 592.26h-2.3M597.5 544.66h-2.3M597.5 644.32h-2.3M597.5 701.88h-2.3M597.5 528.26h-2.3M597.5 669.43h-2.3M597.5 677.96h-2.3M597.5 672.92h-2.3M597.5 674.64h-2.3M597.5 672.04h-2.3M597.5 675.47h-2.3M597.5 671.17h-2.3M597.5 676.31h-2.3M597.5 670.3h-2.3M597.5 677.14h-2.3" stroke="#111" stroke-width="1" fill="none"/>
<text x="605.7" y="737.6" font-size="10.2" text-anchor="start" fill="#222">-10<tspan font-size="7.5" dy="-6">3</tspan></text>
<text x="641.9" y="737.6" font-size="10.2" text-anchor="start" fill="#222">0</text>
<text x="671.5" y="737.6" font-size="10.2" text-anchor="start" fill="#222">10<tspan font-size="7.5" dy="-6">3</tspan></text>
<text x="724.4" y="737.6" font-size="10.2" text-anchor="start" fill="#222">10<tspan font-size="7.5" dy="-6">4</tspan></text>
<text x="770.5" y="737.6" font-size="10.2" text-anchor="start" fill="#222">10<tspan font-size="7.5" dy="-6">5</tspan></text>
<text x="589" y="548.9" font-size="10.2" text-anchor="end" fill="#222">10<tspan font-size="7.5" dy="-6.4">5</tspan></text>
<text x="589" y="596.2" font-size="10.2" text-anchor="end" fill="#222">10<tspan font-size="7.5" dy="-6.4">4</tspan></text>
<text x="589" y="648.7" font-size="10.2" text-anchor="end" fill="#222">10<tspan font-size="7.5" dy="-6.4">3</tspan></text>
<text x="588.5" y="677.3" font-size="10.2" text-anchor="end" fill="#222">0</text>
<text x="589" y="710.2" font-size="10.2" text-anchor="end" fill="#222">-10<tspan font-size="7.5" dy="-6.4">3</tspan></text>
<text x="694" y="758.8" font-size="13.9" font-weight="bold" text-anchor="middle">CD44 PE/DAZZLE</text>
<text transform="translate(567.9,621.3) rotate(-90)" font-size="13.9" font-weight="bold" text-anchor="middle">CD62L PerCP-Cy5.5</text>
<rect x="599.9" y="533" width="40.05" height="14.5" fill="#fff" fill-opacity="0.72"/>
<rect x="599.9" y="549.4" width="30.02" height="14.5" fill="#fff" fill-opacity="0.72"/>
<rect x="742.58" y="533" width="30.52" height="14.5" fill="#fff" fill-opacity="0.72"/>
<rect x="743.08" y="549.4" width="30.02" height="14.5" fill="#fff" fill-opacity="0.72"/>
<rect x="599.9" y="675.3" width="16.11" height="14.5" fill="#fff" fill-opacity="0.72"/>
<rect x="599.9" y="693.3" width="30.02" height="14.5" fill="#fff" fill-opacity="0.72"/>
<rect x="742.58" y="675.9" width="30.52" height="14.5" fill="#fff" fill-opacity="0.72"/>
<rect x="743.08" y="693.3" width="30.02" height="14.5" fill="#fff" fill-opacity="0.72"/>
<text x="601.4" y="544.5" font-size="13.9" font-weight="bold" text-anchor="start">Naive</text>
<text x="601.4" y="560.9" font-size="13.9" font-weight="bold" text-anchor="start">21,0</text>
<text x="771.6" y="544.5" font-size="13.9" font-weight="bold" text-anchor="end">Tcm</text>
<text x="771.6" y="560.9" font-size="13.9" font-weight="bold" text-anchor="end">17,3</text>
<text x="601.4" y="686.8" font-size="13.9" font-weight="bold" text-anchor="start">- -</text>
<text x="601.4" y="704.8" font-size="13.9" font-weight="bold" text-anchor="start">2,08</text>
<text x="771.6" y="687.4" font-size="13.9" font-weight="bold" text-anchor="end">Tem</text>
<text x="771.6" y="704.8" font-size="13.9" font-weight="bold" text-anchor="end">60,1</text>
</g>
<g>
<g clip-path="url(#c836_524)"><g filter="url(#dith)">
<polygon points="891.61,587.35 1003.41,573.88 1006.11,654.7 995.33,701.84 965.7,711.27 891.61,654.7" fill-opacity="0.026" filter="url(#bl10)"/>
<polygon points="891.61,647.96 938.76,647.96 938.76,668.17 891.61,668.17" fill-opacity="0.088" filter="url(#bl6)"/>
<polygon points="909.12,607.55 965.7,590.04 999.37,584.66 1000.72,614.29 992.64,647.96 938.76,654.7 911.82,647.96" fill-opacity="0.110" filter="url(#bl7)"/>
<polygon points="938.76,614.29 985.9,600.82 992.64,647.96 945.49,654.7" fill-opacity="0.099" filter="url(#bl7)"/>
<polygon points="872.76,672.21 884.88,668.17 911.82,668.17 938.76,665.47 965.7,654.7 985.9,652 992.64,668.17 989.94,695.11 979.17,705.88 958.96,700.5 938.76,689.72 911.82,688.37 884.88,687.03 871.41,681.64" fill-opacity="0.220" filter="url(#bl4)"/>
<ellipse cx="960.31" cy="631.8" rx="39.6" ry="27.36" fill="url(#g18)"/>
<ellipse cx="958.96" cy="666.82" rx="32.4" ry="28.8" fill="url(#g13)"/>
<ellipse cx="932.02" cy="677.6" rx="57.6" ry="11.52" fill="url(#g19)"/>
<ellipse cx="907.78" cy="677.6" rx="44.64" ry="10.08" fill="url(#g20)"/>
</g></g>
<rect x="906.2" y="579.3" width="99.6" height="67.7" fill="none" stroke="#111" stroke-width="1.3"/>
<rect x="836.6" y="524.8" width="193" height="193" fill="none" stroke="#222" stroke-width="1.5"/>
<path d="M848 717.8v4.5M879.8 717.8v4.5M911.6 717.8v4.5M964.5 717.8v4.5M1010.6 717.8v4.5M926.96 717.8v2.3M978.37 717.8v2.3M888.45 717.8v2.3M871.15 717.8v2.3M936.31 717.8v2.3M986.49 717.8v2.3M892.4 717.8v2.3M867.2 717.8v2.3M943.01 717.8v2.3M992.25 717.8v2.3M896.02 717.8v2.3M863.58 717.8v2.3M948.23 717.8v2.3M996.72 717.8v2.3M899.29 717.8v2.3M860.31 717.8v2.3M952.5 717.8v2.3M1000.37 717.8v2.3M902.24 717.8v2.3M857.36 717.8v2.3M956.12 717.8v2.3M1003.46 717.8v2.3M904.92 717.8v2.3M854.68 717.8v2.3M959.26 717.8v2.3M1006.13 717.8v2.3M907.35 717.8v2.3M852.25 717.8v2.3M962.02 717.8v2.3M1008.49 717.8v2.3M909.56 717.8v2.3M850.04 717.8v2.3M1024.48 717.8v2.3M884.21 717.8v2.3M875.39 717.8v2.3M880.69 717.8v2.3M878.91 717.8v2.3M881.57 717.8v2.3M878.03 717.8v2.3M882.46 717.8v2.3M877.14 717.8v2.3M883.34 717.8v2.3M876.26 717.8v2.3M836.6 542.5h-4.5M836.6 589.3h-4.5M836.6 640.8h-4.5M836.6 673.8h-4.5M836.6 702.8h-4.5M836.6 625.85h-2.3M836.6 575.22h-2.3M836.6 664.82h-2.3M836.6 681.69h-2.3M836.6 616.75h-2.3M836.6 566.98h-2.3M836.6 660.72h-2.3M836.6 685.29h-2.3M836.6 610.22h-2.3M836.6 561.13h-2.3M836.6 656.97h-2.3M836.6 688.59h-2.3M836.6 605.14h-2.3M836.6 556.59h-2.3M836.6 653.58h-2.3M836.6 691.57h-2.3M836.6 600.98h-2.3M836.6 552.88h-2.3M836.6 650.51h-2.3M836.6 694.27h-2.3M836.6 597.46h-2.3M836.6 549.75h-2.3M836.6 647.74h-2.3M836.6 696.7h-2.3M836.6 594.4h-2.3M836.6 547.04h-2.3M836.6 645.22h-2.3M836.6 698.92h-2.3M836.6 591.71h-2.3M836.6 544.64h-2.3M836.6 642.91h-2.3M836.6 700.94h-2.3M836.6 528.41h-2.3M836.6 669.22h-2.3M836.6 677.82h-2.3M836.6 672.88h-2.3M836.6 674.61h-2.3M836.6 671.96h-2.3M836.6 675.42h-2.3M836.6 671.04h-2.3M836.6 676.22h-2.3M836.6 670.13h-2.3M836.6 677.02h-2.3" stroke="#111" stroke-width="1" fill="none"/>
<text x="844.8" y="737.6" font-size="10.2" text-anchor="start" fill="#222">-10<tspan font-size="7.5" dy="-6">3</tspan></text>
<text x="881" y="737.6" font-size="10.2" text-anchor="start" fill="#222">0</text>
<text x="910.6" y="737.6" font-size="10.2" text-anchor="start" fill="#222">10<tspan font-size="7.5" dy="-6">3</tspan></text>
<text x="963.5" y="737.6" font-size="10.2" text-anchor="start" fill="#222">10<tspan font-size="7.5" dy="-6">4</tspan></text>
<text x="1009.6" y="737.6" font-size="10.2" text-anchor="start" fill="#222">10<tspan font-size="7.5" dy="-6">5</tspan></text>
<text x="828.1" y="548.9" font-size="10.2" text-anchor="end" fill="#222">10<tspan font-size="7.5" dy="-6.4">5</tspan></text>
<text x="828.1" y="595.7" font-size="10.2" text-anchor="end" fill="#222">10<tspan font-size="7.5" dy="-6.4">4</tspan></text>
<text x="828.1" y="647.2" font-size="10.2" text-anchor="end" fill="#222">10<tspan font-size="7.5" dy="-6.4">3</tspan></text>
<text x="827.6" y="677.3" font-size="10.2" text-anchor="end" fill="#222">0</text>
<text x="828.1" y="709.2" font-size="10.2" text-anchor="end" fill="#222">-10<tspan font-size="7.5" dy="-6.4">3</tspan></text>
<text x="933.1" y="758.8" font-size="13.9" font-weight="bold" text-anchor="middle">CD44 PE/DAZZLE</text>
<text transform="translate(809.2,621.3) rotate(-90)" font-size="13.9" font-weight="bold" text-anchor="middle">CD38 PE</text>
<rect x="912.46" y="533" width="94.08" height="14.5" fill="#fff" fill-opacity="0.72"/>
<rect x="944.49" y="549.4" width="30.02" height="14.5" fill="#fff" fill-opacity="0.72"/>
<text x="959.5" y="544.5" font-size="13.9" font-weight="bold" text-anchor="middle">CD44+ CD38+</text>
<text x="959.5" y="560.9" font-size="13.9" font-weight="bold" text-anchor="middle">27,1</text>
</g>
<g>
<g clip-path="url(#c1075_524)"><g filter="url(#dith)">
<polygon points="1114.45,576.57 1141.39,576.57 1141.39,641.23 1114.45,641.23" fill-opacity="0.055" filter="url(#bl8)"/>
<polygon points="1114.45,641.23 1231.64,641.23 1234.33,662.78 1114.45,662.78" fill-opacity="0.121" filter="url(#bl6)"/>
<polygon points="1150.82,583.31 1191.23,576.57 1224.9,587.35 1231.64,614.29 1218.17,641.23 1164.29,645.27 1145.43,627.76 1145.43,594.08" fill-opacity="0.132" filter="url(#bl7)"/>
<polygon points="1111.76,665.47 1130.61,660.09 1177.76,658.74 1218.17,657.39 1231.64,665.47 1234.33,688.37 1224.9,697.8 1177.76,696.45 1123.88,696.45 1110.41,687.03" fill-opacity="0.264" filter="url(#bl4)"/>
<ellipse cx="1188.53" cy="608.9" rx="28.8" ry="28.8" fill="url(#g21)"/>
<ellipse cx="1169.68" cy="677.6" rx="79.2" ry="23.04" fill="url(#g15)"/>
<ellipse cx="1156.21" cy="676.25" rx="25.2" ry="11.52" fill="url(#g11)"/>
<ellipse cx="1204.7" cy="679.62" rx="20.16" ry="12.96" fill="url(#g22)"/>
</g></g>
<rect x="1141" y="570.3" width="95.4" height="71.6" fill="none" stroke="#111" stroke-width="1.3"/>
<rect x="1075.4" y="524.8" width="193" height="193" fill="none" stroke="#222" stroke-width="1.5"/>
<path d="M1086.8 717.8v4.5M1118.6 717.8v4.5M1150.4 717.8v4.5M1203.3 717.8v4.5M1249.4 717.8v4.5M1165.76 717.8v2.3M1217.17 717.8v2.3M1127.25 717.8v2.3M1109.95 717.8v2.3M1175.11 717.8v2.3M1225.29 717.8v2.3M1131.2 717.8v2.3M1106 717.8v2.3M1181.81 717.8v2.3M1231.05 717.8v2.3M1134.82 717.8v2.3M1102.38 717.8v2.3M1187.03 717.8v2.3M1235.52 717.8v2.3M1138.09 717.8v2.3M1099.11 717.8v2.3M1191.3 717.8v2.3M1239.17 717.8v2.3M1141.04 717.8v2.3M1096.16 717.8v2.3M1194.92 717.8v2.3M1242.26 717.8v2.3M1143.72 717.8v2.3M1093.48 717.8v2.3M1198.06 717.8v2.3M1244.93 717.8v2.3M1146.15 717.8v2.3M1091.05 717.8v2.3M1200.82 717.8v2.3M1247.29 717.8v2.3M1148.36 717.8v2.3M1088.84 717.8v2.3M1263.28 717.8v2.3M1123.01 717.8v2.3M1114.19 717.8v2.3M1119.49 717.8v2.3M1117.71 717.8v2.3M1120.37 717.8v2.3M1116.83 717.8v2.3M1121.26 717.8v2.3M1115.94 717.8v2.3M1122.14 717.8v2.3M1115.06 717.8v2.3M1075.4 542.5h-4.5M1075.4 588.3h-4.5M1075.4 637.8h-4.5M1075.4 680.8h-4.5M1075.4 623.43h-2.3M1075.4 574.52h-2.3M1075.4 669.1h-2.3M1075.4 614.68h-2.3M1075.4 566.45h-2.3M1075.4 663.76h-2.3M1075.4 608.41h-2.3M1075.4 560.73h-2.3M1075.4 658.87h-2.3M1075.4 603.52h-2.3M1075.4 556.29h-2.3M1075.4 654.45h-2.3M1075.4 599.53h-2.3M1075.4 552.66h-2.3M1075.4 650.45h-2.3M1075.4 596.14h-2.3M1075.4 549.6h-2.3M1075.4 646.84h-2.3M1075.4 593.21h-2.3M1075.4 546.94h-2.3M1075.4 643.55h-2.3M1075.4 590.62h-2.3M1075.4 544.6h-2.3M1075.4 640.55h-2.3M1075.4 528.71h-2.3M1075.4 674.84h-2.3M1075.4 679.6h-2.3M1075.4 678.4h-2.3M1075.4 677.21h-2.3M1075.4 676.02h-2.3" stroke="#111" stroke-width="1" fill="none"/>
<text x="1083.6" y="737.6" font-size="10.2" text-anchor="start" fill="#222">-10<tspan font-size="7.5" dy="-6">3</tspan></text>
<text x="1119.8" y="737.6" font-size="10.2" text-anchor="start" fill="#222">0</text>
<text x="1149.4" y="737.6" font-size="10.2" text-anchor="start" fill="#222">10<tspan font-size="7.5" dy="-6">3</tspan></text>
<text x="1202.3" y="737.6" font-size="10.2" text-anchor="start" fill="#222">10<tspan font-size="7.5" dy="-6">4</tspan></text>
<text x="1248.4" y="737.6" font-size="10.2" text-anchor="start" fill="#222">10<tspan font-size="7.5" dy="-6">5</tspan></text>
<text x="1066.9" y="548.9" font-size="10.2" text-anchor="end" fill="#222">10<tspan font-size="7.5" dy="-6.4">5</tspan></text>
<text x="1066.9" y="594.7" font-size="10.2" text-anchor="end" fill="#222">10<tspan font-size="7.5" dy="-6.4">4</tspan></text>
<text x="1066.9" y="644.2" font-size="10.2" text-anchor="end" fill="#222">10<tspan font-size="7.5" dy="-6.4">3</tspan></text>
<text x="1066.4" y="684.3" font-size="10.2" text-anchor="end" fill="#222">0</text>
<text x="1171.9" y="758.8" font-size="13.9" font-weight="bold" text-anchor="middle">CD44 PE/DAZZLE</text>
<text transform="translate(1048.7,621.3) rotate(-90)" font-size="13.9" font-weight="bold" text-anchor="middle">CD69 APC</text>
<rect x="1140.46" y="533.1" width="94.08" height="14.5" fill="#fff" fill-opacity="0.72"/>
<rect x="1172.49" y="550.2" width="30.02" height="14.5" fill="#fff" fill-opacity="0.72"/>
<text x="1187.5" y="544.6" font-size="13.9" font-weight="bold" text-anchor="middle">CD44+ CD69+</text>
<text x="1187.5" y="561.7" font-size="13.9" font-weight="bold" text-anchor="middle">24,1</text>
</g>
<g>
<g clip-path="url(#c1314_524)"><g filter="url(#dith)">
<polygon points="1411.37,600.82 1450.43,590.04 1467.94,595.43 1478.72,641.23 1463.9,654.7 1416.76,654.7 1403.29,627.76" fill-opacity="0.062" filter="url(#bl8)"/>
<polygon points="1369.61,654.7 1430.23,647.96 1430.23,670.86 1369.61,672.21" fill-opacity="0.044" filter="url(#bl6)"/>
<polygon points="1430.23,654.7 1463.9,647.96 1470.64,661.43 1457.17,668.17 1430.23,668.17" fill-opacity="0.154" filter="url(#bl6)"/>
<polygon points="1349.41,681.64 1356.14,672.21 1389.82,669.52 1430.23,668.17 1457.17,665.47 1465.25,654.7 1470.64,668.17 1466.6,692.41 1450.43,697.8 1403.29,700.5 1362.88,700.5 1350.76,695.11" fill-opacity="0.286" filter="url(#bl4)"/>
<ellipse cx="1408.68" cy="683.66" rx="72" ry="21.6" fill="url(#g5)" transform="rotate(-4 1408.68 683.66)"/>
<ellipse cx="1427.53" cy="682.31" rx="43.2" ry="12.96" fill="url(#g23)" transform="rotate(-4 1427.53 682.31)"/>
<ellipse cx="1443.7" cy="680.96" rx="18.72" ry="10.08" fill="url(#g24)"/>
</g></g>
<rect x="1385.4" y="580.2" width="101.9" height="66.6" fill="none" stroke="#111" stroke-width="1.3"/>
<rect x="1314.5" y="524.8" width="193.5" height="193" fill="none" stroke="#222" stroke-width="1.5"/>
<path d="M1325.9 717.8v4.5M1357.7 717.8v4.5M1389.5 717.8v4.5M1442.4 717.8v4.5M1488.5 717.8v4.5M1404.86 717.8v2.3M1456.27 717.8v2.3M1366.35 717.8v2.3M1349.05 717.8v2.3M1414.21 717.8v2.3M1464.39 717.8v2.3M1370.3 717.8v2.3M1345.1 717.8v2.3M1420.91 717.8v2.3M1470.15 717.8v2.3M1373.92 717.8v2.3M1341.48 717.8v2.3M1426.13 717.8v2.3M1474.62 717.8v2.3M1377.19 717.8v2.3M1338.21 717.8v2.3M1430.4 717.8v2.3M1478.27 717.8v2.3M1380.14 717.8v2.3M1335.26 717.8v2.3M1434.02 717.8v2.3M1481.36 717.8v2.3M1382.82 717.8v2.3M1332.58 717.8v2.3M1437.16 717.8v2.3M1484.03 717.8v2.3M1385.25 717.8v2.3M1330.15 717.8v2.3M1439.92 717.8v2.3M1486.39 717.8v2.3M1387.46 717.8v2.3M1327.94 717.8v2.3M1502.38 717.8v2.3M1362.11 717.8v2.3M1353.29 717.8v2.3M1358.59 717.8v2.3M1356.81 717.8v2.3M1359.47 717.8v2.3M1355.93 717.8v2.3M1360.36 717.8v2.3M1355.04 717.8v2.3M1361.24 717.8v2.3M1354.16 717.8v2.3M1314.5 542.5h-4.5M1314.5 586.8h-4.5M1314.5 633.3h-4.5M1314.5 692.3h-4.5M1314.5 619.8h-2.3M1314.5 573.47h-2.3M1314.5 676.25h-2.3M1314.5 611.58h-2.3M1314.5 565.67h-2.3M1314.5 668.92h-2.3M1314.5 605.69h-2.3M1314.5 560.13h-2.3M1314.5 662.21h-2.3M1314.5 601.1h-2.3M1314.5 555.84h-2.3M1314.5 656.15h-2.3M1314.5 597.34h-2.3M1314.5 552.33h-2.3M1314.5 650.66h-2.3M1314.5 594.17h-2.3M1314.5 549.36h-2.3M1314.5 645.7h-2.3M1314.5 591.41h-2.3M1314.5 546.79h-2.3M1314.5 641.19h-2.3M1314.5 588.98h-2.3M1314.5 544.53h-2.3M1314.5 637.08h-2.3M1314.5 529.16h-2.3M1314.5 684.12h-2.3M1314.5 690.65h-2.3M1314.5 689.01h-2.3M1314.5 687.37h-2.3M1314.5 685.74h-2.3" stroke="#111" stroke-width="1" fill="none"/>
<text x="1322.7" y="737.6" font-size="10.2" text-anchor="start" fill="#222">-10<tspan font-size="7.5" dy="-6">3</tspan></text>
<text x="1358.9" y="737.6" font-size="10.2" text-anchor="start" fill="#222">0</text>
<text x="1388.5" y="737.6" font-size="10.2" text-anchor="start" fill="#222">10<tspan font-size="7.5" dy="-6">3</tspan></text>
<text x="1441.4" y="737.6" font-size="10.2" text-anchor="start" fill="#222">10<tspan font-size="7.5" dy="-6">4</tspan></text>
<text x="1487.5" y="737.6" font-size="10.2" text-anchor="start" fill="#222">10<tspan font-size="7.5" dy="-6">5</tspan></text>
<text x="1306" y="548.9" font-size="10.2" text-anchor="end" fill="#222">10<tspan font-size="7.5" dy="-6.4">5</tspan></text>
<text x="1306" y="593.2" font-size="10.2" text-anchor="end" fill="#222">10<tspan font-size="7.5" dy="-6.4">4</tspan></text>
<text x="1306" y="639.7" font-size="10.2" text-anchor="end" fill="#222">10<tspan font-size="7.5" dy="-6.4">3</tspan></text>
<text x="1305.5" y="695.8" font-size="10.2" text-anchor="end" fill="#222">0</text>
<text x="1411.25" y="758.8" font-size="13.9" font-weight="bold" text-anchor="middle">CD44 PE DAZZLE</text>
<text transform="translate(1292.3,621.3) rotate(-90)" font-size="13.9" font-weight="bold" text-anchor="middle">KLRG1 FITC</text>
<rect x="1381.08" y="533.1" width="105.64" height="14.5" fill="#fff" fill-opacity="0.72"/>
<rect x="1418.89" y="550.2" width="30.02" height="14.5" fill="#fff" fill-opacity="0.72"/>
<text x="1433.9" y="544.6" font-size="13.9" font-weight="bold" text-anchor="middle">CD44+ KLRG1+</text>
<text x="1433.9" y="561.7" font-size="13.9" font-weight="bold" text-anchor="middle">2,38</text>
</g>
<g>
<g clip-path="url(#c120_1743)"><g filter="url(#dith)">
<polygon points="174.13,1810.27 220.12,1816.84 239.84,1862.84 187.27,1862.84" fill-opacity="0.011" filter="url(#bl8)"/>
<polygon points="141.28,1801.07 185.96,1801.07 185.96,1866.78 141.28,1866.78" fill-opacity="0.044" filter="url(#bl8)"/>
<polygon points="139.97,1811.59 149.17,1802.39 167.56,1799.76 180.7,1803.7 185.96,1819.47 180.7,1837.87 172.82,1856.27 164.93,1865.46 154.42,1862.84 147.85,1849.7 139.97,1829.98" fill-opacity="0.286" filter="url(#bl4)"/>
<polygon points="147.85,1869.41 167.56,1868.09 184.65,1875.98 185.96,1895.69 178.07,1906.2 160.99,1908.83 149.17,1902.26 145.22,1882.55" fill-opacity="0.187" filter="url(#bl5)"/>
<polygon points="188.59,1882.55 206.98,1872.03 230.64,1872.03 241.15,1882.55 241.15,1902.26 230.64,1912.77 209.61,1919.34 193.84,1911.46 187.27,1895.69" fill-opacity="0.286" filter="url(#bl4)"/>
<ellipse cx="164.93" cy="1887.8" rx="14.4" ry="14.4" fill="url(#g14)"/>
<ellipse cx="163.62" cy="1840.5" rx="10.08" ry="14.4" fill="url(#g14)"/>
<ellipse cx="162.31" cy="1823.41" rx="23.04" ry="30.24" fill="url(#g2)"/>
<ellipse cx="214.87" cy="1892.4" rx="28.8" ry="24.48" fill="url(#g25)" transform="rotate(-15 214.87 1892.4)"/>
</g></g>
<rect x="186.2" y="1864.8" width="62.2" height="59.6" fill="none" stroke="#111" stroke-width="1.3"/>
<rect x="120.7" y="1743.4" width="188.3" height="187.6" fill="none" stroke="#222" stroke-width="1.5"/>
<path d="M132 1931v4.5M165 1931v4.5M195.5 1931v4.5M247 1931v4.5M292 1931v4.5M210.45 1931v2.3M260.54 1931v2.3M173.3 1931v2.3M156.02 1931v2.3M219.55 1931v2.3M268.47 1931v2.3M177.09 1931v2.3M151.92 1931v2.3M226.08 1931v2.3M274.09 1931v2.3M180.55 1931v2.3M148.17 1931v2.3M231.16 1931v2.3M278.45 1931v2.3M183.69 1931v2.3M144.78 1931v2.3M235.32 1931v2.3M282.01 1931v2.3M186.52 1931v2.3M141.71 1931v2.3M238.84 1931v2.3M285.03 1931v2.3M189.09 1931v2.3M138.94 1931v2.3M241.9 1931v2.3M287.64 1931v2.3M191.42 1931v2.3M136.42 1931v2.3M244.59 1931v2.3M289.94 1931v2.3M193.55 1931v2.3M134.11 1931v2.3M305.55 1931v2.3M169.23 1931v2.3M160.42 1931v2.3M165.85 1931v2.3M164.08 1931v2.3M166.7 1931v2.3M163.16 1931v2.3M167.55 1931v2.3M162.24 1931v2.3M168.39 1931v2.3M161.33 1931v2.3M120.7 1761.9h-4.5M120.7 1805.9h-4.5M120.7 1848.4h-4.5M120.7 1893.4h-4.5M120.7 1909.9h-4.5M120.7 1925.4h-4.5M120.7 1836.06h-2.3M120.7 1792.66h-2.3M120.7 1886.43h-2.3M120.7 1828.55h-2.3M120.7 1784.91h-2.3M120.7 1879.94h-2.3M120.7 1823.16h-2.3M120.7 1779.41h-2.3M120.7 1874h-2.3M120.7 1818.97h-2.3M120.7 1775.15h-2.3M120.7 1868.63h-2.3M120.7 1815.54h-2.3M120.7 1771.66h-2.3M120.7 1863.78h-2.3M120.7 1812.63h-2.3M120.7 1768.72h-2.3M120.7 1859.38h-2.3M120.7 1810.11h-2.3M120.7 1766.17h-2.3M120.7 1855.39h-2.3M120.7 1807.89h-2.3M120.7 1763.91h-2.3M120.7 1851.75h-2.3M120.7 1748.65h-2.3M120.7 1893.4h-2.3M120.7 1925.4h-2.3M120.7 1906.58h-2.3M120.7 1913.02h-2.3M120.7 1903.26h-2.3M120.7 1916.14h-2.3M120.7 1899.96h-2.3M120.7 1919.24h-2.3M120.7 1896.67h-2.3M120.7 1922.33h-2.3" stroke="#111" stroke-width="1" fill="none"/>
<text x="128.8" y="1950.8" font-size="10.2" text-anchor="start" fill="#222">-10<tspan font-size="7.5" dy="-6">3</tspan></text>
<text x="166.2" y="1950.8" font-size="10.2" text-anchor="start" fill="#222">0</text>
<text x="194.5" y="1950.8" font-size="10.2" text-anchor="start" fill="#222">10<tspan font-size="7.5" dy="-6">3</tspan></text>
<text x="246" y="1950.8" font-size="10.2" text-anchor="start" fill="#222">10<tspan font-size="7.5" dy="-6">4</tspan></text>
<text x="291" y="1950.8" font-size="10.2" text-anchor="start" fill="#222">10<tspan font-size="7.5" dy="-6">5</tspan></text>
<text x="112.2" y="1768.3" font-size="10.2" text-anchor="end" fill="#222">10<tspan font-size="7.5" dy="-6.4">5</tspan></text>
<text x="112.2" y="1812.3" font-size="10.2" text-anchor="end" fill="#222">10<tspan font-size="7.5" dy="-6.4">4</tspan></text>
<text x="112.2" y="1854.8" font-size="10.2" text-anchor="end" fill="#222">10<tspan font-size="7.5" dy="-6.4">3</tspan></text>
<text x="112.2" y="1899.8" font-size="10.2" text-anchor="end" fill="#222">10<tspan font-size="7.5" dy="-6.4">2</tspan></text>
<text x="111.7" y="1913.4" font-size="10.2" text-anchor="end" fill="#222">0</text>
<text x="112.2" y="1931.8" font-size="10.2" text-anchor="end" fill="#222">-10<tspan font-size="7.5" dy="-6.4">2</tspan></text>
<text x="214.85" y="1968.6" font-size="13.9" font-weight="bold" text-anchor="middle">CD4 APC-H7</text>
<text transform="translate(89.3,1837.2) rotate(-90)" font-size="13.9" font-weight="bold" text-anchor="middle">CD8 BV605</text>
<rect x="249.8" y="1863.2" width="30.78" height="14.5" fill="#fff" fill-opacity="0.72"/>
<rect x="249.8" y="1879.8" width="30.02" height="14.5" fill="#fff" fill-opacity="0.72"/>
<text x="251.3" y="1874.7" font-size="13.9" font-weight="bold" text-anchor="start">CD4</text>
<text x="251.3" y="1891.3" font-size="13.9" font-weight="bold" text-anchor="start">40,7</text>
</g>
<g>
<g clip-path="url(#c370_1743)"><g filter="url(#dith)">
<polygon points="424.13,1862.84 463.55,1862.84 463.55,1889.12 424.13,1895.69" fill-opacity="0.055" filter="url(#bl7)"/>
<polygon points="378.14,1829.98 391.28,1819.47 430.7,1816.84 470.12,1816.84 495.09,1819.47 495.09,1843.12 470.12,1853.64 430.7,1858.89 384.71,1856.27 376.83,1843.12" fill-opacity="0.220" filter="url(#bl5)"/>
<polygon points="375.51,1879.92 384.71,1866.78 404.42,1864.15 424.13,1868.09 430.7,1882.55 424.13,1902.26 404.42,1911.46 384.71,1906.2 375.51,1893.06" fill-opacity="0.286" filter="url(#bl4)"/>
<ellipse cx="407.05" cy="1837.87" rx="28.8" ry="15.84" fill="url(#g26)"/>
<ellipse cx="456.98" cy="1832.61" rx="25.92" ry="11.52" fill="url(#g10)"/>
<ellipse cx="403.11" cy="1881.89" rx="34.56" ry="21.6" fill="url(#g27)"/>
</g></g>
<rect x="373.8" y="1808.5" width="56" height="51.5" fill="none" stroke="#111" stroke-width="1.3"/>
<rect x="431.2" y="1808.5" width="67.4" height="51.5" fill="none" stroke="#111" stroke-width="1.3"/>
<rect x="370.9" y="1743.4" width="188.3" height="187.6" fill="none" stroke="#222" stroke-width="1.5"/>
<path d="M378.9 1931v4.5M393.9 1931v4.5M455.9 1931v4.5M499.9 1931v4.5M543.9 1931v4.5M468.67 1931v2.3M513.14 1931v2.3M410.76 1931v2.3M389.82 1931v2.3M476.45 1931v2.3M520.89 1931v2.3M418.47 1931v2.3M387.96 1931v2.3M482.03 1931v2.3M526.39 1931v2.3M425.51 1931v2.3M386.25 1931v2.3M486.37 1931v2.3M530.65 1931v2.3M431.89 1931v2.3M384.71 1931v2.3M489.92 1931v2.3M534.14 1931v2.3M437.65 1931v2.3M383.31 1931v2.3M492.93 1931v2.3M537.08 1931v2.3M442.87 1931v2.3M382.05 1931v2.3M495.54 1931v2.3M539.63 1931v2.3M447.6 1931v2.3M380.91 1931v2.3M497.84 1931v2.3M541.89 1931v2.3M451.93 1931v2.3M379.86 1931v2.3M557.15 1931v2.3M402.5 1931v2.3M391.82 1931v2.3M395.63 1931v2.3M393.48 1931v2.3M397.36 1931v2.3M393.06 1931v2.3M399.08 1931v2.3M392.65 1931v2.3M400.79 1931v2.3M392.23 1931v2.3M370.9 1761.9h-4.5M370.9 1805.9h-4.5M370.9 1848.4h-4.5M370.9 1890.4h-4.5M370.9 1918.4h-4.5M370.9 1836.06h-2.3M370.9 1792.66h-2.3M370.9 1883.9h-2.3M370.9 1828.55h-2.3M370.9 1784.91h-2.3M370.9 1877.84h-2.3M370.9 1823.16h-2.3M370.9 1779.41h-2.3M370.9 1872.3h-2.3M370.9 1818.97h-2.3M370.9 1775.15h-2.3M370.9 1867.28h-2.3M370.9 1815.54h-2.3M370.9 1771.66h-2.3M370.9 1862.75h-2.3M370.9 1812.63h-2.3M370.9 1768.72h-2.3M370.9 1858.65h-2.3M370.9 1810.11h-2.3M370.9 1766.17h-2.3M370.9 1854.92h-2.3M370.9 1807.89h-2.3M370.9 1763.91h-2.3M370.9 1851.52h-2.3M370.9 1748.65h-2.3M370.9 1890.4h-2.3M370.9 1912.76h-2.3M370.9 1907.14h-2.3M370.9 1901.53h-2.3M370.9 1895.95h-2.3" stroke="#111" stroke-width="1" fill="none"/>
<text x="395.1" y="1950.8" font-size="10.2" text-anchor="start" fill="#222">0</text>
<text x="454.9" y="1950.8" font-size="10.2" text-anchor="start" fill="#222">10<tspan font-size="7.5" dy="-6">3</tspan></text>
<text x="498.9" y="1950.8" font-size="10.2" text-anchor="start" fill="#222">10<tspan font-size="7.5" dy="-6">4</tspan></text>
<text x="542.9" y="1950.8" font-size="10.2" text-anchor="start" fill="#222">10<tspan font-size="7.5" dy="-6">5</tspan></text>
<text x="362.4" y="1768.3" font-size="10.2" text-anchor="end" fill="#222">10<tspan font-size="7.5" dy="-6.4">5</tspan></text>
<text x="362.4" y="1812.3" font-size="10.2" text-anchor="end" fill="#222">10<tspan font-size="7.5" dy="-6.4">4</tspan></text>
<text x="362.4" y="1854.8" font-size="10.2" text-anchor="end" fill="#222">10<tspan font-size="7.5" dy="-6.4">3</tspan></text>
<text x="362.4" y="1896.8" font-size="10.2" text-anchor="end" fill="#222">10<tspan font-size="7.5" dy="-6.4">2</tspan></text>
<text x="361.9" y="1921.9" font-size="10.2" text-anchor="end" fill="#222">0</text>
<text x="465.05" y="1968.6" font-size="13.9" font-weight="bold" text-anchor="middle">CD25 APC</text>
<text transform="translate(337.3,1837.2) rotate(-90)" font-size="13.9" font-weight="bold" text-anchor="middle">FOXP3 PE</text>
<rect x="370.99" y="1770.2" width="100.62" height="14.5" fill="#fff" fill-opacity="0.72"/>
<rect x="405.59" y="1786" width="30.02" height="14.5" fill="#fff" fill-opacity="0.72"/>
<rect x="453.85" y="1879.8" width="104.11" height="14.5" fill="#fff" fill-opacity="0.72"/>
<rect x="491.69" y="1896.4" width="30.02" height="14.5" fill="#fff" fill-opacity="0.72"/>
<text x="421.3" y="1781.7" font-size="13.9" font-weight="bold" text-anchor="middle">FOXP3+ CD25-</text>
<text x="420.6" y="1797.5" font-size="13.9" font-weight="bold" text-anchor="middle">14,1</text>
<text x="505.9" y="1891.3" font-size="13.9" font-weight="bold" text-anchor="middle">FOXP3+ CD25+</text>
<text x="506.7" y="1907.9" font-size="13.9" font-weight="bold" text-anchor="middle">10,4</text>
</g>
<polyline points="610,218 610,263 273.7,265.2 273.7,366" fill="none" stroke="#ee1c24" stroke-width="1.6"/>
<polygon points="264.5,364.3 282.9,364.3 273.7,381.3" fill="#ee1c24"/>
<line x1="295.1" y1="579.2" x2="351" y2="577.6" stroke="#ee1c24" stroke-width="1.6"/>
<polygon points="349.4,569.7 349.4,586.5 366.6,577.3" fill="#ee1c24"/>
<line x1="434.5" y1="444.8" x2="552" y2="443.3" stroke="#ee1c24" stroke-width="1.6"/>
<polygon points="550.8,435.1 550.8,452.6 568,443.1" fill="#ee1c24"/>
<line x1="480.8" y1="579.2" x2="536" y2="577.6" stroke="#ee1c24" stroke-width="1.6"/>
<polygon points="534.4,568.9 534.4,586.5 552.3,577.3" fill="#ee1c24"/>
<g>
<rect x="130.62" y="909.83" width="36.01" height="118.79" fill="#fff" stroke="#000" stroke-width="1.2"/>
<path d="M148.62 909.83V902.21M139.62 902.21H157.62" stroke="#000" stroke-width="1.2" fill="none"/>
<rect x="187.12" y="907.2" width="36.27" height="121.42" fill="#000" stroke="#000" stroke-width="1.2"/>
<path d="M205.26 907.2V900.11M196.26 900.11H214.26" stroke="#000" stroke-width="1.2" fill="none"/>
<rect x="243.36" y="921.13" width="36.27" height="107.49" fill="#fff" stroke="#000" stroke-width="1.2"/>
<path d="M249.41 921.13V1028.62M255.45 921.13V1028.62M261.5 921.13V1028.62M267.54 921.13V1028.62M273.59 921.13V1028.62" stroke="#000" stroke-width="1"/>
<path d="M261.5 921.13V914.56M252.5 914.56H270.5" stroke="#000" stroke-width="1.2" fill="none"/>
<rect x="300.13" y="911.41" width="35.74" height="117.21" fill="#000" stroke="#000" stroke-width="1.2"/>
<path d="M301.43 1024.22H334.57M301.43 1018.6H334.57M301.43 1012.98H334.57M301.43 1007.36H334.57M301.43 1001.74H334.57M301.43 996.12H334.57M301.43 990.5H334.57M301.43 984.88H334.57M301.43 979.26H334.57M301.43 973.64H334.57M301.43 968.02H334.57M301.43 962.4H334.57M301.43 956.78H334.57M301.43 951.16H334.57M301.43 945.54H334.57M301.43 939.92H334.57M301.43 934.3H334.57M301.43 928.68H334.57M301.43 923.06H334.57M301.43 917.44H334.57" stroke="#d8d8d8" stroke-width="1.5"/>
<path d="M318 911.41V902.47M309.07 902.47H326.94" stroke="#000" stroke-width="1.2" fill="none"/>
<path d="M101.45 842.02V1028.62H365.83" stroke="#000" stroke-width="1.3" fill="none"/>
<path d="M96.45 1028.62H101.45" stroke="#000" stroke-width="1.3"/>
<text x="95.45" y="1035.92" font-size="20.5" text-anchor="end" font-weight="normal" fill="#000" >0</text>
<path d="M96.45 981.97H101.45" stroke="#000" stroke-width="1.3"/>
<text x="95.45" y="989.27" font-size="20.5" text-anchor="end" font-weight="normal" fill="#000" >10</text>
<path d="M96.45 935.32H101.45" stroke="#000" stroke-width="1.3"/>
<text x="95.45" y="942.62" font-size="20.5" text-anchor="end" font-weight="normal" fill="#000" >20</text>
<path d="M96.45 888.67H101.45" stroke="#000" stroke-width="1.3"/>
<text x="95.45" y="895.97" font-size="20.5" text-anchor="end" font-weight="normal" fill="#000" >30</text>
<path d="M96.45 842.02H101.45" stroke="#000" stroke-width="1.3"/>
<text x="95.45" y="849.32" font-size="20.5" text-anchor="end" font-weight="normal" fill="#000" >40</text>
<path d="M233.38 1028.62V1033.62" stroke="#000" stroke-width="1.3"/>
<circle cx="139.29" cy="887.23" r="3.7" fill="#fff" stroke="#000" stroke-width="1.25"/>
<circle cx="157.95" cy="883.55" r="3.7" fill="#fff" stroke="#000" stroke-width="1.25"/>
<circle cx="148.75" cy="900.11" r="3.7" fill="#fff" stroke="#000" stroke-width="1.25"/>
<circle cx="139.29" cy="915.87" r="3.7" fill="#fff" stroke="#000" stroke-width="1.25"/>
<circle cx="139.29" cy="923.23" r="3.7" fill="#fff" stroke="#000" stroke-width="1.25"/>
<circle cx="157.95" cy="920.87" r="3.7" fill="#fff" stroke="#000" stroke-width="1.25"/>
<circle cx="157.95" cy="933.48" r="3.7" fill="#fff" stroke="#000" stroke-width="1.25"/>
<rect x="189.14" y="890.3" width="7" height="7" fill="#fff" stroke="#000" stroke-width="1.25"/>
<rect x="201.76" y="891.09" width="7" height="7" fill="#fff" stroke="#000" stroke-width="1.25"/>
<rect x="214.11" y="887.41" width="7" height="7" fill="#fff" stroke="#000" stroke-width="1.25"/>
<rect x="195.45" y="908.69" width="7" height="7" fill="#fff" stroke="#000" stroke-width="1.25"/>
<rect x="207.8" y="912.11" width="7" height="7" fill="#fff" stroke="#000" stroke-width="1.25"/>
<rect x="201.76" y="928.14" width="7" height="7" fill="#fff" stroke="#000" stroke-width="1.25"/>
<polygon points="248.88,902.66 252.98,910.04 244.78,910.04" fill="#fff" stroke="#000" stroke-width="1.25" stroke-linejoin="miter"/>
<polygon points="273.85,900.82 277.95,908.2 269.75,908.2" fill="#fff" stroke="#000" stroke-width="1.25" stroke-linejoin="miter"/>
<polygon points="261.24,911.86 265.34,919.24 257.14,919.24" fill="#fff" stroke="#000" stroke-width="1.25" stroke-linejoin="miter"/>
<polygon points="254.93,921.05 259.03,928.43 250.83,928.43" fill="#fff" stroke="#000" stroke-width="1.25" stroke-linejoin="miter"/>
<polygon points="267.54,925 271.64,932.38 263.44,932.38" fill="#fff" stroke="#000" stroke-width="1.25" stroke-linejoin="miter"/>
<polygon points="261.24,938.66 265.34,946.04 257.14,946.04" fill="#fff" stroke="#000" stroke-width="1.25" stroke-linejoin="miter"/>
<polygon points="318,884.15 322.1,876.77 313.9,876.77" fill="#fff" stroke="#000" stroke-width="1.25" stroke-linejoin="miter"/>
<polygon points="305.39,903.86 309.49,896.48 301.29,896.48" fill="#fff" stroke="#000" stroke-width="1.25" stroke-linejoin="miter"/>
<polygon points="330.62,900.71 334.72,893.33 326.52,893.33" fill="#fff" stroke="#000" stroke-width="1.25" stroke-linejoin="miter"/>
<polygon points="318,911.74 322.1,904.36 313.9,904.36" fill="#fff" stroke="#000" stroke-width="1.25" stroke-linejoin="miter"/>
<polygon points="311.96,923.05 316.06,915.67 307.86,915.67" fill="#fff" stroke="#000" stroke-width="1.25" stroke-linejoin="miter"/>
<polygon points="324.57,929.62 328.67,922.24 320.47,922.24" fill="#fff" stroke="#000" stroke-width="1.25" stroke-linejoin="miter"/>
<polygon points="318,948.28 322.1,940.9 313.9,940.9" fill="#fff" stroke="#000" stroke-width="1.25" stroke-linejoin="miter"/>
<text transform="translate(52.6,931.8) rotate(-90)" x="0" y="0" font-size="21" text-anchor="middle" dominant-baseline="central">% of cells</text>
<text x="233.38" y="1054.64" font-size="20.5" text-anchor="middle" font-weight="normal" fill="#000" >T cells</text>
</g>
<g>
<rect x="497.48" y="927.96" width="17.87" height="100.39" fill="#fff" stroke="#000" stroke-width="1.2"/>
<path d="M506.41 927.96V925.86M501.94 925.86H510.88" stroke="#000" stroke-width="1.2" fill="none"/>
<rect x="526.39" y="925.34" width="17.08" height="103.02" fill="#000" stroke="#000" stroke-width="1.2"/>
<path d="M534.93 925.34V921.92M530.66 921.92H539.2" stroke="#000" stroke-width="1.2" fill="none"/>
<rect x="554.24" y="917.45" width="17.35" height="110.91" fill="#fff" stroke="#000" stroke-width="1.2"/>
<path d="M560.03 917.45V1028.36M565.81 917.45V1028.36" stroke="#000" stroke-width="1"/>
<path d="M562.92 917.45V911.41M558.58 911.41H567.25" stroke="#000" stroke-width="1.2" fill="none"/>
<rect x="582.63" y="912.72" width="17.08" height="115.64" fill="#000" stroke="#000" stroke-width="1.2"/>
<path d="M583.93 1023.96H598.41M583.93 1018.34H598.41M583.93 1012.72H598.41M583.93 1007.1H598.41M583.93 1001.48H598.41M583.93 995.86H598.41M583.93 990.24H598.41M583.93 984.62H598.41M583.93 979H598.41M583.93 973.38H598.41M583.93 967.76H598.41M583.93 962.14H598.41M583.93 956.52H598.41M583.93 950.9H598.41M583.93 945.28H598.41M583.93 939.66H598.41M583.93 934.04H598.41M583.93 928.42H598.41M583.93 922.8H598.41M583.93 917.18H598.41" stroke="#d8d8d8" stroke-width="1.5"/>
<path d="M591.17 912.72V908.78M586.9 908.78H595.44" stroke="#000" stroke-width="1.2" fill="none"/>
<rect x="629.67" y="913.51" width="17.08" height="114.85" fill="#fff" stroke="#000" stroke-width="1.2"/>
<path d="M638.21 913.51V910.09M633.94 910.09H642.48" stroke="#000" stroke-width="1.2" fill="none"/>
<rect x="657.79" y="916.14" width="17.08" height="112.22" fill="#000" stroke="#000" stroke-width="1.2"/>
<path d="M666.33 916.14V910.09M662.06 910.09H670.6" stroke="#000" stroke-width="1.2" fill="none"/>
<rect x="685.65" y="921.39" width="17.61" height="106.96" fill="#fff" stroke="#000" stroke-width="1.2"/>
<path d="M691.52 921.39V1028.36M697.39 921.39V1028.36" stroke="#000" stroke-width="1"/>
<path d="M694.45 921.39V916.66M690.05 916.66H698.86" stroke="#000" stroke-width="1.2" fill="none"/>
<rect x="714.3" y="926.65" width="17.08" height="101.71" fill="#000" stroke="#000" stroke-width="1.2"/>
<path d="M715.6 1023.96H730.08M715.6 1018.34H730.08M715.6 1012.72H730.08M715.6 1007.1H730.08M715.6 1001.48H730.08M715.6 995.86H730.08M715.6 990.24H730.08M715.6 984.62H730.08M715.6 979H730.08M715.6 973.38H730.08M715.6 967.76H730.08M715.6 962.14H730.08M715.6 956.52H730.08M715.6 950.9H730.08M715.6 945.28H730.08M715.6 939.66H730.08M715.6 934.04H730.08" stroke="#d8d8d8" stroke-width="1.5"/>
<path d="M722.84 926.65V922.71M718.57 922.71H727.11" stroke="#000" stroke-width="1.2" fill="none"/>
<path d="M483.29 839.92V1028.36H747.15" stroke="#000" stroke-width="1.3" fill="none"/>
<path d="M478.29 1028.36H483.29" stroke="#000" stroke-width="1.3"/>
<text x="477.29" y="1035.66" font-size="20.5" text-anchor="end" font-weight="normal" fill="#000" >0</text>
<path d="M478.29 981.25H483.29" stroke="#000" stroke-width="1.3"/>
<text x="477.29" y="988.55" font-size="20.5" text-anchor="end" font-weight="normal" fill="#000" >20</text>
<path d="M478.29 934.14H483.29" stroke="#000" stroke-width="1.3"/>
<text x="477.29" y="941.44" font-size="20.5" text-anchor="end" font-weight="normal" fill="#000" >40</text>
<path d="M478.29 887.03H483.29" stroke="#000" stroke-width="1.3"/>
<text x="477.29" y="894.33" font-size="20.5" text-anchor="end" font-weight="normal" fill="#000" >60</text>
<path d="M478.29 839.92H483.29" stroke="#000" stroke-width="1.3"/>
<text x="477.29" y="847.22" font-size="20.5" text-anchor="end" font-weight="normal" fill="#000" >80</text>
<path d="M548.46 1028.36V1033.36" stroke="#000" stroke-width="1.3"/>
<path d="M680.39 1028.36V1033.36" stroke="#000" stroke-width="1.3"/>
<circle cx="506.41" cy="915.61" r="3.7" fill="#fff" stroke="#000" stroke-width="1.25"/>
<circle cx="508.78" cy="921.13" r="3.7" fill="#fff" stroke="#000" stroke-width="1.25"/>
<circle cx="501.68" cy="926.12" r="3.7" fill="#fff" stroke="#000" stroke-width="1.25"/>
<circle cx="506.41" cy="927.96" r="3.7" fill="#fff" stroke="#000" stroke-width="1.25"/>
<circle cx="511.41" cy="927.96" r="3.7" fill="#fff" stroke="#000" stroke-width="1.25"/>
<circle cx="504.05" cy="927.96" r="3.7" fill="#fff" stroke="#000" stroke-width="1.25"/>
<circle cx="506.41" cy="940.32" r="3.7" fill="#fff" stroke="#000" stroke-width="1.25"/>
<rect x="526.57" y="913.16" width="7" height="7" fill="#fff" stroke="#000" stroke-width="1.25"/>
<rect x="531.3" y="914.21" width="7" height="7" fill="#fff" stroke="#000" stroke-width="1.25"/>
<rect x="536.03" y="911.85" width="7" height="7" fill="#fff" stroke="#000" stroke-width="1.25"/>
<rect x="526.57" y="922.62" width="7" height="7" fill="#fff" stroke="#000" stroke-width="1.25"/>
<rect x="531.3" y="928.93" width="7" height="7" fill="#fff" stroke="#000" stroke-width="1.25"/>
<rect x="536.03" y="934.71" width="7" height="7" fill="#fff" stroke="#000" stroke-width="1.25"/>
<polygon points="560.55,899.24 564.65,906.62 556.45,906.62" fill="#fff" stroke="#000" stroke-width="1.25" stroke-linejoin="miter"/>
<polygon points="565.55,898.19 569.65,905.57 561.45,905.57" fill="#fff" stroke="#000" stroke-width="1.25" stroke-linejoin="miter"/>
<polygon points="558.71,911.07 562.81,918.45 554.61,918.45" fill="#fff" stroke="#000" stroke-width="1.25" stroke-linejoin="miter"/>
<polygon points="562.92,915.8 567.02,923.18 558.82,923.18" fill="#fff" stroke="#000" stroke-width="1.25" stroke-linejoin="miter"/>
<polygon points="567.65,919.74 571.75,927.12 563.55,927.12" fill="#fff" stroke="#000" stroke-width="1.25" stroke-linejoin="miter"/>
<polygon points="562.92,932.88 567.02,940.26 558.82,940.26" fill="#fff" stroke="#000" stroke-width="1.25" stroke-linejoin="miter"/>
<polygon points="591.04,904.65 595.14,897.27 586.94,897.27" fill="#fff" stroke="#000" stroke-width="1.25" stroke-linejoin="miter"/>
<polygon points="594.98,904.12 599.08,896.74 590.88,896.74" fill="#fff" stroke="#000" stroke-width="1.25" stroke-linejoin="miter"/>
<polygon points="586.83,915.16 590.93,907.78 582.73,907.78" fill="#fff" stroke="#000" stroke-width="1.25" stroke-linejoin="miter"/>
<polygon points="591.04,920.15 595.14,912.77 586.94,912.77" fill="#fff" stroke="#000" stroke-width="1.25" stroke-linejoin="miter"/>
<polygon points="594.98,924.88 599.08,917.5 590.88,917.5" fill="#fff" stroke="#000" stroke-width="1.25" stroke-linejoin="miter"/>
<polygon points="586.83,907.8 590.93,900.42 582.73,900.42" fill="#fff" stroke="#000" stroke-width="1.25" stroke-linejoin="miter"/>
<circle cx="638.34" cy="901.68" r="3.7" fill="#fff" stroke="#000" stroke-width="1.25"/>
<circle cx="633.61" cy="910.88" r="3.7" fill="#fff" stroke="#000" stroke-width="1.25"/>
<circle cx="640.71" cy="916.14" r="3.7" fill="#fff" stroke="#000" stroke-width="1.25"/>
<circle cx="642.81" cy="921.92" r="3.7" fill="#fff" stroke="#000" stroke-width="1.25"/>
<circle cx="638.34" cy="911.41" r="3.7" fill="#fff" stroke="#000" stroke-width="1.25"/>
<rect x="658.23" y="909.22" width="7" height="7" fill="#fff" stroke="#000" stroke-width="1.25"/>
<rect x="662.97" y="902.12" width="7" height="7" fill="#fff" stroke="#000" stroke-width="1.25"/>
<rect x="665.07" y="900.55" width="7" height="7" fill="#fff" stroke="#000" stroke-width="1.25"/>
<rect x="661.13" y="914.48" width="7" height="7" fill="#fff" stroke="#000" stroke-width="1.25"/>
<rect x="666.91" y="920.52" width="7" height="7" fill="#fff" stroke="#000" stroke-width="1.25"/>
<rect x="662.97" y="919.73" width="7" height="7" fill="#fff" stroke="#000" stroke-width="1.25"/>
<polygon points="689.59,911.07 693.69,918.45 685.49,918.45" fill="#fff" stroke="#000" stroke-width="1.25" stroke-linejoin="miter"/>
<polygon points="694.32,912.38 698.42,919.76 690.22,919.76" fill="#fff" stroke="#000" stroke-width="1.25" stroke-linejoin="miter"/>
<polygon points="699.05,902.4 703.15,909.78 694.95,909.78" fill="#fff" stroke="#000" stroke-width="1.25" stroke-linejoin="miter"/>
<polygon points="689.59,918.95 693.69,926.33 685.49,926.33" fill="#fff" stroke="#000" stroke-width="1.25" stroke-linejoin="miter"/>
<polygon points="694.32,924.21 698.42,931.59 690.22,931.59" fill="#fff" stroke="#000" stroke-width="1.25" stroke-linejoin="miter"/>
<polygon points="699.05,926.84 703.15,934.22 694.95,934.22" fill="#fff" stroke="#000" stroke-width="1.25" stroke-linejoin="miter"/>
<polygon points="722.71,917.79 726.81,910.41 718.61,910.41" fill="#fff" stroke="#000" stroke-width="1.25" stroke-linejoin="miter"/>
<polygon points="719.03,929.62 723.13,922.24 714.93,922.24" fill="#fff" stroke="#000" stroke-width="1.25" stroke-linejoin="miter"/>
<polygon points="722.71,932.77 726.81,925.39 718.61,925.39" fill="#fff" stroke="#000" stroke-width="1.25" stroke-linejoin="miter"/>
<polygon points="726.91,938.81 731.01,931.43 722.81,931.43" fill="#fff" stroke="#000" stroke-width="1.25" stroke-linejoin="miter"/>
<polygon points="722.71,918.31 726.81,910.93 718.61,910.93" fill="#fff" stroke="#000" stroke-width="1.25" stroke-linejoin="miter"/>
<text transform="translate(431.2,931.1) rotate(-90)" x="0" y="0" font-size="21" text-anchor="middle" dominant-baseline="central">% of cells</text>
<text x="548.46" y="1054.11" font-size="20.5" text-anchor="middle">CD8<tspan font-size="14" dy="-9">+</tspan></text>
<text x="680.39" y="1054.11" font-size="20.5" text-anchor="middle">CD4<tspan font-size="14" dy="-9">+</tspan></text>
</g>
<g>
<rect x="881.35" y="901.1" width="10.99" height="126.09" fill="#fff" stroke="#000" stroke-width="1.2"/>
<path d="M886.84 901.1V894.86M883.34 894.86H890.34" stroke="#000" stroke-width="1.2" fill="none"/>
<rect x="899.83" y="887.87" width="10.99" height="139.33" fill="#000" stroke="#000" stroke-width="1.2"/>
<path d="M905.32 887.87V881.12M901.82 881.12H908.82" stroke="#000" stroke-width="1.2" fill="none"/>
<rect x="918.3" y="961.52" width="10.99" height="65.67" fill="#fff" stroke="#000" stroke-width="1.2"/>
<path d="M921.96 961.52V1027.19M925.63 961.52V1027.19" stroke="#000" stroke-width="1"/>
<path d="M923.8 961.52V957.78M920.3 957.78H927.3" stroke="#000" stroke-width="1.2" fill="none"/>
<rect x="937.03" y="965.27" width="10.74" height="61.92" fill="#000" stroke="#000" stroke-width="1.2"/>
<path d="M938.33 1022.79H946.47M938.33 1017.17H946.47M938.33 1011.55H946.47M938.33 1005.93H946.47M938.33 1000.31H946.47M938.33 994.69H946.47M938.33 989.07H946.47M938.33 983.45H946.47M938.33 977.83H946.47M938.33 972.21H946.47" stroke="#d8d8d8" stroke-width="1.5"/>
<path d="M942.4 965.27V960.27M938.9 960.27H945.9" stroke="#000" stroke-width="1.2" fill="none"/>
<rect x="967.24" y="949.29" width="11.49" height="77.9" fill="#fff" stroke="#000" stroke-width="1.2"/>
<path d="M972.98 949.29V940.55M969.48 940.55H976.48" stroke="#000" stroke-width="1.2" fill="none"/>
<rect x="985.97" y="956.53" width="11.24" height="70.66" fill="#000" stroke="#000" stroke-width="1.2"/>
<path d="M991.59 956.53V942.3M988.09 942.3H995.09" stroke="#000" stroke-width="1.2" fill="none"/>
<rect x="1004.44" y="907.34" width="11.24" height="119.85" fill="#fff" stroke="#000" stroke-width="1.2"/>
<path d="M1008.19 907.34V1027.19M1011.94 907.34V1027.19" stroke="#000" stroke-width="1"/>
<path d="M1010.06 907.34V899.85M1006.56 899.85H1013.56" stroke="#000" stroke-width="1.2" fill="none"/>
<rect x="1023.17" y="894.86" width="10.99" height="132.33" fill="#000" stroke="#000" stroke-width="1.2"/>
<path d="M1024.47 1022.79H1032.86M1024.47 1017.17H1032.86M1024.47 1011.55H1032.86M1024.47 1005.93H1032.86M1024.47 1000.31H1032.86M1024.47 994.69H1032.86M1024.47 989.07H1032.86M1024.47 983.45H1032.86M1024.47 977.83H1032.86M1024.47 972.21H1032.86M1024.47 966.59H1032.86M1024.47 960.97H1032.86M1024.47 955.35H1032.86M1024.47 949.73H1032.86M1024.47 944.11H1032.86M1024.47 938.49H1032.86M1024.47 932.87H1032.86M1024.47 927.25H1032.86M1024.47 921.63H1032.86M1024.47 916.01H1032.86M1024.47 910.39H1032.86M1024.47 904.77H1032.86M1024.47 899.15H1032.86" stroke="#d8d8d8" stroke-width="1.5"/>
<path d="M1028.66 894.86V889.11M1025.16 889.11H1032.16" stroke="#000" stroke-width="1.2" fill="none"/>
<rect x="1053.88" y="999.73" width="11.24" height="27.47" fill="#fff" stroke="#000" stroke-width="1.2"/>
<path d="M1059.5 999.73V992.73M1056 992.73H1063" stroke="#000" stroke-width="1.2" fill="none"/>
<rect x="1072.36" y="1007.47" width="11.24" height="19.73" fill="#000" stroke="#000" stroke-width="1.2"/>
<path d="M1077.98 1007.47V1001.72M1074.48 1001.72H1081.48" stroke="#000" stroke-width="1.2" fill="none"/>
<rect x="1091.09" y="980.5" width="11.24" height="46.69" fill="#fff" stroke="#000" stroke-width="1.2"/>
<path d="M1094.83 980.5V1027.19M1098.58 980.5V1027.19" stroke="#000" stroke-width="1"/>
<path d="M1096.7 980.5V972.76M1093.2 972.76H1100.2" stroke="#000" stroke-width="1.2" fill="none"/>
<rect x="1109.56" y="987.24" width="10.99" height="39.95" fill="#000" stroke="#000" stroke-width="1.2"/>
<path d="M1110.86 1022.79H1119.25M1110.86 1017.17H1119.25M1110.86 1011.55H1119.25M1110.86 1005.93H1119.25M1110.86 1000.31H1119.25M1110.86 994.69H1119.25" stroke="#d8d8d8" stroke-width="1.5"/>
<path d="M1115.06 987.24V979.75M1111.56 979.75H1118.56" stroke="#000" stroke-width="1.2" fill="none"/>
<path d="M870.61 836.93V1027.19H1132.03" stroke="#000" stroke-width="1.3" fill="none"/>
<path d="M865.61 1027.19H870.61" stroke="#000" stroke-width="1.3"/>
<text x="864.61" y="1034.49" font-size="20.5" text-anchor="end" font-weight="normal" fill="#000" >0</text>
<path d="M865.61 979.63H870.61" stroke="#000" stroke-width="1.3"/>
<text x="864.61" y="986.93" font-size="20.5" text-anchor="end" font-weight="normal" fill="#000" >20</text>
<path d="M865.61 932.06H870.61" stroke="#000" stroke-width="1.3"/>
<text x="864.61" y="939.36" font-size="20.5" text-anchor="end" font-weight="normal" fill="#000" >40</text>
<path d="M865.61 884.49H870.61" stroke="#000" stroke-width="1.3"/>
<text x="864.61" y="891.79" font-size="20.5" text-anchor="end" font-weight="normal" fill="#000" >60</text>
<path d="M865.61 836.93H870.61" stroke="#000" stroke-width="1.3"/>
<text x="864.61" y="844.23" font-size="20.5" text-anchor="end" font-weight="normal" fill="#000" >80</text>
<path d="M914.31 1027.19V1032.19" stroke="#000" stroke-width="1.3"/>
<path d="M1000.45 1027.19V1032.19" stroke="#000" stroke-width="1.3"/>
<path d="M1087.09 1027.19V1032.19" stroke="#000" stroke-width="1.3"/>
<circle cx="886.84" cy="879.38" r="3.7" fill="#fff" stroke="#000" stroke-width="1.25"/>
<circle cx="885.34" cy="888.61" r="3.7" fill="#fff" stroke="#000" stroke-width="1.25"/>
<circle cx="888.34" cy="893.61" r="3.7" fill="#fff" stroke="#000" stroke-width="1.25"/>
<circle cx="886.84" cy="939.3" r="3.7" fill="#fff" stroke="#000" stroke-width="1.25"/>
<rect x="900.32" y="867.89" width="7" height="7" fill="#fff" stroke="#000" stroke-width="1.25"/>
<rect x="903.82" y="878.37" width="7" height="7" fill="#fff" stroke="#000" stroke-width="1.25"/>
<rect x="901.82" y="904.59" width="7" height="7" fill="#fff" stroke="#000" stroke-width="1.25"/>
<polygon points="923.8,950 927.9,957.38 919.7,957.38" fill="#fff" stroke="#000" stroke-width="1.25" stroke-linejoin="miter"/>
<polygon points="923.8,954.25 927.9,961.63 919.7,961.63" fill="#fff" stroke="#000" stroke-width="1.25" stroke-linejoin="miter"/>
<polygon points="921.8,956.74 925.9,964.12 917.7,964.12" fill="#fff" stroke="#000" stroke-width="1.25" stroke-linejoin="miter"/>
<polygon points="925.79,956.74 929.89,964.12 921.69,964.12" fill="#fff" stroke="#000" stroke-width="1.25" stroke-linejoin="miter"/>
<polygon points="924.79,964.23 928.89,971.61 920.69,971.61" fill="#fff" stroke="#000" stroke-width="1.25" stroke-linejoin="miter"/>
<polygon points="942.52,949.82 946.62,942.44 938.42,942.44" fill="#fff" stroke="#000" stroke-width="1.25" stroke-linejoin="miter"/>
<polygon points="941.02,962.06 945.12,954.68 936.92,954.68" fill="#fff" stroke="#000" stroke-width="1.25" stroke-linejoin="miter"/>
<polygon points="944.02,962.06 948.12,954.68 939.92,954.68" fill="#fff" stroke="#000" stroke-width="1.25" stroke-linejoin="miter"/>
<polygon points="942.52,974.04 946.62,966.66 938.42,966.66" fill="#fff" stroke="#000" stroke-width="1.25" stroke-linejoin="miter"/>
<polygon points="944.02,981.53 948.12,974.15 939.92,974.15" fill="#fff" stroke="#000" stroke-width="1.25" stroke-linejoin="miter"/>
<circle cx="972.98" cy="924.32" r="3.7" fill="#fff" stroke="#000" stroke-width="1.25"/>
<circle cx="971.24" cy="955.28" r="3.7" fill="#fff" stroke="#000" stroke-width="1.25"/>
<circle cx="974.73" cy="958.28" r="3.7" fill="#fff" stroke="#000" stroke-width="1.25"/>
<rect x="988.21" y="924.81" width="7" height="7" fill="#fff" stroke="#000" stroke-width="1.25"/>
<rect x="986.71" y="963.77" width="7" height="7" fill="#fff" stroke="#000" stroke-width="1.25"/>
<rect x="989.71" y="968.26" width="7" height="7" fill="#fff" stroke="#000" stroke-width="1.25"/>
<polygon points="1010.19,887.58 1014.29,894.96 1006.09,894.96" fill="#fff" stroke="#000" stroke-width="1.25" stroke-linejoin="miter"/>
<polygon points="1008.69,897.57 1012.79,904.95 1004.59,904.95" fill="#fff" stroke="#000" stroke-width="1.25" stroke-linejoin="miter"/>
<polygon points="1011.69,900.06 1015.79,907.44 1007.59,907.44" fill="#fff" stroke="#000" stroke-width="1.25" stroke-linejoin="miter"/>
<polygon points="1010.19,933.52 1014.29,940.9 1006.09,940.9" fill="#fff" stroke="#000" stroke-width="1.25" stroke-linejoin="miter"/>
<polygon points="1028.66,872.17 1032.76,864.79 1024.56,864.79" fill="#fff" stroke="#000" stroke-width="1.25" stroke-linejoin="miter"/>
<polygon points="1026.67,894.89 1030.77,887.51 1022.57,887.51" fill="#fff" stroke="#000" stroke-width="1.25" stroke-linejoin="miter"/>
<polygon points="1030.66,894.89 1034.76,887.51 1026.56,887.51" fill="#fff" stroke="#000" stroke-width="1.25" stroke-linejoin="miter"/>
<polygon points="1028.66,906.13 1032.76,898.75 1024.56,898.75" fill="#fff" stroke="#000" stroke-width="1.25" stroke-linejoin="miter"/>
<polygon points="1028.66,914.12 1032.76,906.74 1024.56,906.74" fill="#fff" stroke="#000" stroke-width="1.25" stroke-linejoin="miter"/>
<circle cx="1059.63" cy="983.25" r="3.7" fill="#fff" stroke="#000" stroke-width="1.25"/>
<circle cx="1059.63" cy="995.23" r="3.7" fill="#fff" stroke="#000" stroke-width="1.25"/>
<circle cx="1061.12" cy="998.48" r="3.7" fill="#fff" stroke="#000" stroke-width="1.25"/>
<circle cx="1061.12" cy="1012.96" r="3.7" fill="#fff" stroke="#000" stroke-width="1.25"/>
<rect x="1074.6" y="994.23" width="7" height="7" fill="#fff" stroke="#000" stroke-width="1.25"/>
<rect x="1074.6" y="1007.46" width="7" height="7" fill="#fff" stroke="#000" stroke-width="1.25"/>
<polygon points="1096.83,940.51 1100.93,947.89 1092.73,947.89" fill="#fff" stroke="#000" stroke-width="1.25" stroke-linejoin="miter"/>
<polygon points="1095.33,979.22 1099.43,986.6 1091.23,986.6" fill="#fff" stroke="#000" stroke-width="1.25" stroke-linejoin="miter"/>
<polygon points="1098.33,981.71 1102.43,989.09 1094.23,989.09" fill="#fff" stroke="#000" stroke-width="1.25" stroke-linejoin="miter"/>
<polygon points="1096.83,989.2 1100.93,996.58 1092.73,996.58" fill="#fff" stroke="#000" stroke-width="1.25" stroke-linejoin="miter"/>
<polygon points="1115.06,961.06 1119.16,953.68 1110.96,953.68" fill="#fff" stroke="#000" stroke-width="1.25" stroke-linejoin="miter"/>
<polygon points="1115.06,980.04 1119.16,972.66 1110.96,972.66" fill="#fff" stroke="#000" stroke-width="1.25" stroke-linejoin="miter"/>
<polygon points="1113.56,987.03 1117.66,979.65 1109.46,979.65" fill="#fff" stroke="#000" stroke-width="1.25" stroke-linejoin="miter"/>
<polygon points="1116.55,994.52 1120.65,987.14 1112.45,987.14" fill="#fff" stroke="#000" stroke-width="1.25" stroke-linejoin="miter"/>
<polygon points="1115.06,1009.5 1119.16,1002.12 1110.96,1002.12" fill="#fff" stroke="#000" stroke-width="1.25" stroke-linejoin="miter"/>
<path d="M886.84 857.4V849.41H924.29V931.06" stroke="#000" stroke-width="1" fill="none"/>
<text x="905.57" y="853.41" font-size="17" text-anchor="middle" font-weight="normal" fill="#000" >****</text>
<path d="M902.32 833.68V829.19H944.27V931.06" stroke="#000" stroke-width="1" fill="none"/>
<text x="923.3" y="833.19" font-size="17" text-anchor="middle" font-weight="normal" fill="#000" >****</text>
<path d="M991.21 917.83V850.66H1028.66V857.4" stroke="#000" stroke-width="1" fill="none"/>
<text x="1009.94" y="854.66" font-size="17" text-anchor="middle" font-weight="normal" fill="#000" >*</text>
<text transform="translate(820.7,928.6) rotate(-90)" x="0" y="0" font-size="21" text-anchor="middle" dominant-baseline="central">% of CD8<tspan font-size="14" dy="-9">+</tspan><tspan dy="9"> cells</tspan></text>
<text x="914.31" y="1052.91" font-size="20.5" text-anchor="middle">T<tspan font-size="15" dy="6">N</tspan></text>
<text x="1000.45" y="1052.91" font-size="20.5" text-anchor="middle">T<tspan font-size="15" dy="6">CM</tspan></text>
<text x="1087.09" y="1052.91" font-size="20.5" text-anchor="middle">T<tspan font-size="15" dy="6">EM</tspan></text>
</g>
<g>
<rect x="1266.26" y="981.56" width="11.3" height="45.68" fill="#fff" stroke="#000" stroke-width="1.2"/>
<path d="M1271.9 981.56V975.78M1268.4 975.78H1275.4" stroke="#000" stroke-width="1.2" fill="none"/>
<rect x="1285.33" y="965.74" width="11.3" height="61.5" fill="#000" stroke="#000" stroke-width="1.2"/>
<path d="M1290.98 965.74V962.73M1287.48 962.73H1294.48" stroke="#000" stroke-width="1.2" fill="none"/>
<rect x="1304.41" y="995.11" width="11.3" height="32.13" fill="#fff" stroke="#000" stroke-width="1.2"/>
<path d="M1308.17 995.11V1027.24M1311.94 995.11V1027.24" stroke="#000" stroke-width="1"/>
<path d="M1310.06 995.11V989.59M1306.56 989.59H1313.56" stroke="#000" stroke-width="1.2" fill="none"/>
<rect x="1323.48" y="1008.41" width="11.3" height="18.83" fill="#000" stroke="#000" stroke-width="1.2"/>
<path d="M1324.78 1022.84H1333.48M1324.78 1017.22H1333.48M1324.78 1011.6H1333.48" stroke="#d8d8d8" stroke-width="1.5"/>
<path d="M1329.13 1008.41V997.37M1325.63 997.37H1332.63" stroke="#000" stroke-width="1.2" fill="none"/>
<rect x="1355.11" y="975.78" width="11.55" height="51.46" fill="#fff" stroke="#000" stroke-width="1.2"/>
<path d="M1360.88 975.78V970.26M1357.38 970.26H1364.38" stroke="#000" stroke-width="1.2" fill="none"/>
<rect x="1374.19" y="980.8" width="11.3" height="46.44" fill="#000" stroke="#000" stroke-width="1.2"/>
<path d="M1379.83 980.8V978.29M1376.33 978.29H1383.33" stroke="#000" stroke-width="1.2" fill="none"/>
<rect x="1393.26" y="1004.15" width="11.3" height="23.09" fill="#fff" stroke="#000" stroke-width="1.2"/>
<path d="M1397.03 1004.15V1027.24M1400.79 1004.15V1027.24" stroke="#000" stroke-width="1"/>
<path d="M1398.91 1004.15V998.37M1395.41 998.37H1402.41" stroke="#000" stroke-width="1.2" fill="none"/>
<rect x="1412.34" y="994.86" width="11.55" height="32.38" fill="#000" stroke="#000" stroke-width="1.2"/>
<path d="M1413.64 1022.84H1422.59M1413.64 1017.22H1422.59M1413.64 1011.6H1422.59M1413.64 1005.98H1422.59M1413.64 1000.36H1422.59" stroke="#d8d8d8" stroke-width="1.5"/>
<path d="M1418.11 994.86V988.33M1414.61 988.33H1421.61" stroke="#000" stroke-width="1.2" fill="none"/>
<rect x="1443.71" y="936.88" width="11.3" height="90.36" fill="#fff" stroke="#000" stroke-width="1.2"/>
<path d="M1449.36 936.88V928.59M1445.86 928.59H1452.86" stroke="#000" stroke-width="1.2" fill="none"/>
<rect x="1463.04" y="949.93" width="11.3" height="77.31" fill="#000" stroke="#000" stroke-width="1.2"/>
<path d="M1468.69 949.93V944.41M1465.19 944.41H1472.19" stroke="#000" stroke-width="1.2" fill="none"/>
<rect x="1481.87" y="898.72" width="11.55" height="128.51" fill="#fff" stroke="#000" stroke-width="1.2"/>
<path d="M1485.72 898.72V1027.24M1489.56 898.72V1027.24" stroke="#000" stroke-width="1"/>
<path d="M1487.64 898.72V890.44M1484.14 890.44H1491.14" stroke="#000" stroke-width="1.2" fill="none"/>
<rect x="1501.19" y="899.98" width="11.3" height="127.26" fill="#000" stroke="#000" stroke-width="1.2"/>
<path d="M1502.49 1022.84H1511.19M1502.49 1017.22H1511.19M1502.49 1011.6H1511.19M1502.49 1005.98H1511.19M1502.49 1000.36H1511.19M1502.49 994.74H1511.19M1502.49 989.12H1511.19M1502.49 983.5H1511.19M1502.49 977.88H1511.19M1502.49 972.26H1511.19M1502.49 966.64H1511.19M1502.49 961.02H1511.19M1502.49 955.4H1511.19M1502.49 949.78H1511.19M1502.49 944.16H1511.19M1502.49 938.54H1511.19M1502.49 932.92H1511.19M1502.49 927.3H1511.19M1502.49 921.68H1511.19M1502.49 916.06H1511.19M1502.49 910.44H1511.19M1502.49 904.82H1511.19" stroke="#d8d8d8" stroke-width="1.5"/>
<path d="M1506.84 899.98V892.95M1503.34 892.95H1510.34" stroke="#000" stroke-width="1.2" fill="none"/>
<path d="M1258.72 836.98V1027.24H1520.27" stroke="#000" stroke-width="1.3" fill="none"/>
<path d="M1253.72 1027.24H1258.72" stroke="#000" stroke-width="1.3"/>
<text x="1252.72" y="1034.54" font-size="20.5" text-anchor="end" font-weight="normal" fill="#000" >0</text>
<path d="M1253.72 989.19H1258.72" stroke="#000" stroke-width="1.3"/>
<text x="1252.72" y="996.49" font-size="20.5" text-anchor="end" font-weight="normal" fill="#000" >20</text>
<path d="M1253.72 951.13H1258.72" stroke="#000" stroke-width="1.3"/>
<text x="1252.72" y="958.43" font-size="20.5" text-anchor="end" font-weight="normal" fill="#000" >40</text>
<path d="M1253.72 913.08H1258.72" stroke="#000" stroke-width="1.3"/>
<text x="1252.72" y="920.38" font-size="20.5" text-anchor="end" font-weight="normal" fill="#000" >60</text>
<path d="M1253.72 875.03H1258.72" stroke="#000" stroke-width="1.3"/>
<text x="1252.72" y="882.33" font-size="20.5" text-anchor="end" font-weight="normal" fill="#000" >80</text>
<path d="M1253.72 836.98H1258.72" stroke="#000" stroke-width="1.3"/>
<text x="1252.72" y="844.28" font-size="20.5" text-anchor="end" font-weight="normal" fill="#000" >100</text>
<path d="M1300.14 1027.24V1032.24" stroke="#000" stroke-width="1.3"/>
<path d="M1389.25 1027.24V1032.24" stroke="#000" stroke-width="1.3"/>
<path d="M1477.85 1027.24V1032.24" stroke="#000" stroke-width="1.3"/>
<circle cx="1270.52" cy="970.01" r="3.7" fill="#fff" stroke="#000" stroke-width="1.25"/>
<circle cx="1272.28" cy="974.53" r="3.7" fill="#fff" stroke="#000" stroke-width="1.25"/>
<circle cx="1274.29" cy="980.8" r="3.7" fill="#fff" stroke="#000" stroke-width="1.25"/>
<circle cx="1272.28" cy="994.61" r="3.7" fill="#fff" stroke="#000" stroke-width="1.25"/>
<circle cx="1270.02" cy="978.29" r="3.7" fill="#fff" stroke="#000" stroke-width="1.25"/>
<rect x="1285.85" y="956.47" width="7" height="7" fill="#fff" stroke="#000" stroke-width="1.25"/>
<rect x="1287.35" y="964.75" width="7" height="7" fill="#fff" stroke="#000" stroke-width="1.25"/>
<rect x="1287.35" y="961.74" width="7" height="7" fill="#fff" stroke="#000" stroke-width="1.25"/>
<polygon points="1310.18,979.79 1314.28,987.17 1306.08,987.17" fill="#fff" stroke="#000" stroke-width="1.25" stroke-linejoin="miter"/>
<polygon points="1308.17,984.05 1312.27,991.43 1304.07,991.43" fill="#fff" stroke="#000" stroke-width="1.25" stroke-linejoin="miter"/>
<polygon points="1312.19,986.06 1316.29,993.44 1308.09,993.44" fill="#fff" stroke="#000" stroke-width="1.25" stroke-linejoin="miter"/>
<polygon points="1310.18,992.84 1314.28,1000.22 1306.08,1000.22" fill="#fff" stroke="#000" stroke-width="1.25" stroke-linejoin="miter"/>
<polygon points="1310.18,1004.13 1314.28,1011.51 1306.08,1011.51" fill="#fff" stroke="#000" stroke-width="1.25" stroke-linejoin="miter"/>
<polygon points="1308.17,1000.37 1312.27,1007.75 1304.07,1007.75" fill="#fff" stroke="#000" stroke-width="1.25" stroke-linejoin="miter"/>
<polygon points="1329.01,998.39 1333.11,991.01 1324.91,991.01" fill="#fff" stroke="#000" stroke-width="1.25" stroke-linejoin="miter"/>
<polygon points="1329.01,1005.16 1333.11,997.78 1324.91,997.78" fill="#fff" stroke="#000" stroke-width="1.25" stroke-linejoin="miter"/>
<polygon points="1327,1011.44 1331.1,1004.06 1322.9,1004.06" fill="#fff" stroke="#000" stroke-width="1.25" stroke-linejoin="miter"/>
<polygon points="1330.76,1013.95 1334.86,1006.57 1326.66,1006.57" fill="#fff" stroke="#000" stroke-width="1.25" stroke-linejoin="miter"/>
<polygon points="1329.01,1018.97 1333.11,1011.59 1324.91,1011.59" fill="#fff" stroke="#000" stroke-width="1.25" stroke-linejoin="miter"/>
<circle cx="1358.88" cy="963.99" r="3.7" fill="#fff" stroke="#000" stroke-width="1.25"/>
<circle cx="1362.64" cy="970.76" r="3.7" fill="#fff" stroke="#000" stroke-width="1.25"/>
<circle cx="1360.88" cy="979.55" r="3.7" fill="#fff" stroke="#000" stroke-width="1.25"/>
<circle cx="1362.64" cy="985.82" r="3.7" fill="#fff" stroke="#000" stroke-width="1.25"/>
<circle cx="1358.88" cy="980.8" r="3.7" fill="#fff" stroke="#000" stroke-width="1.25"/>
<rect x="1374.45" y="971.28" width="7" height="7" fill="#fff" stroke="#000" stroke-width="1.25"/>
<rect x="1376.21" y="977.3" width="7" height="7" fill="#fff" stroke="#000" stroke-width="1.25"/>
<rect x="1377.97" y="978.56" width="7" height="7" fill="#fff" stroke="#000" stroke-width="1.25"/>
<polygon points="1398.79,988.57 1402.89,995.95 1394.69,995.95" fill="#fff" stroke="#000" stroke-width="1.25" stroke-linejoin="miter"/>
<polygon points="1397.03,992.84 1401.13,1000.22 1392.93,1000.22" fill="#fff" stroke="#000" stroke-width="1.25" stroke-linejoin="miter"/>
<polygon points="1400.54,994.85 1404.64,1002.23 1396.44,1002.23" fill="#fff" stroke="#000" stroke-width="1.25" stroke-linejoin="miter"/>
<polygon points="1398.79,1005.39 1402.89,1012.77 1394.69,1012.77" fill="#fff" stroke="#000" stroke-width="1.25" stroke-linejoin="miter"/>
<polygon points="1398.79,1010.41 1402.89,1017.79 1394.69,1017.79" fill="#fff" stroke="#000" stroke-width="1.25" stroke-linejoin="miter"/>
<polygon points="1418.11,979.56 1422.21,972.18 1414.01,972.18" fill="#fff" stroke="#000" stroke-width="1.25" stroke-linejoin="miter"/>
<polygon points="1416.1,985.08 1420.2,977.7 1412,977.7" fill="#fff" stroke="#000" stroke-width="1.25" stroke-linejoin="miter"/>
<polygon points="1418.11,990.61 1422.21,983.23 1414.01,983.23" fill="#fff" stroke="#000" stroke-width="1.25" stroke-linejoin="miter"/>
<polygon points="1416.1,1000.14 1420.2,992.76 1412,992.76" fill="#fff" stroke="#000" stroke-width="1.25" stroke-linejoin="miter"/>
<polygon points="1418.11,1012.19 1422.21,1004.81 1414.01,1004.81" fill="#fff" stroke="#000" stroke-width="1.25" stroke-linejoin="miter"/>
<polygon points="1418.11,1018.97 1422.21,1011.59 1414.01,1011.59" fill="#fff" stroke="#000" stroke-width="1.25" stroke-linejoin="miter"/>
<circle cx="1449.24" cy="916.8" r="3.7" fill="#fff" stroke="#000" stroke-width="1.25"/>
<circle cx="1447.48" cy="935.62" r="3.7" fill="#fff" stroke="#000" stroke-width="1.25"/>
<circle cx="1451.24" cy="939.39" r="3.7" fill="#fff" stroke="#000" stroke-width="1.25"/>
<circle cx="1449.24" cy="951.44" r="3.7" fill="#fff" stroke="#000" stroke-width="1.25"/>
<rect x="1463.06" y="937.9" width="7" height="7" fill="#fff" stroke="#000" stroke-width="1.25"/>
<rect x="1466.82" y="942.16" width="7" height="7" fill="#fff" stroke="#000" stroke-width="1.25"/>
<rect x="1465.06" y="954.71" width="7" height="7" fill="#fff" stroke="#000" stroke-width="1.25"/>
<polygon points="1487.64,869.09 1491.74,876.47 1483.54,876.47" fill="#fff" stroke="#000" stroke-width="1.25" stroke-linejoin="miter"/>
<polygon points="1487.64,876.12 1491.74,883.5 1483.54,883.5" fill="#fff" stroke="#000" stroke-width="1.25" stroke-linejoin="miter"/>
<polygon points="1485.88,898.71 1489.98,906.09 1481.78,906.09" fill="#fff" stroke="#000" stroke-width="1.25" stroke-linejoin="miter"/>
<polygon points="1489.4,901.22 1493.5,908.6 1485.3,908.6" fill="#fff" stroke="#000" stroke-width="1.25" stroke-linejoin="miter"/>
<polygon points="1487.64,906.24 1491.74,913.62 1483.54,913.62" fill="#fff" stroke="#000" stroke-width="1.25" stroke-linejoin="miter"/>
<polygon points="1487.64,912.01 1491.74,919.39 1483.54,919.39" fill="#fff" stroke="#000" stroke-width="1.25" stroke-linejoin="miter"/>
<polygon points="1506.72,874.14 1510.82,866.76 1502.62,866.76" fill="#fff" stroke="#000" stroke-width="1.25" stroke-linejoin="miter"/>
<polygon points="1506.72,893.47 1510.82,886.09 1502.62,886.09" fill="#fff" stroke="#000" stroke-width="1.25" stroke-linejoin="miter"/>
<polygon points="1504.71,897.73 1508.81,890.35 1500.61,890.35" fill="#fff" stroke="#000" stroke-width="1.25" stroke-linejoin="miter"/>
<polygon points="1506.72,901.75 1510.82,894.37 1502.62,894.37" fill="#fff" stroke="#000" stroke-width="1.25" stroke-linejoin="miter"/>
<polygon points="1506.72,907.27 1510.82,899.89 1502.62,899.89" fill="#fff" stroke="#000" stroke-width="1.25" stroke-linejoin="miter"/>
<polygon points="1506.72,936.14 1510.82,928.76 1502.62,928.76" fill="#fff" stroke="#000" stroke-width="1.25" stroke-linejoin="miter"/>
<path d="M1290.6 950.68V939.39H1329.01V992.1" stroke="#000" stroke-width="1" fill="none"/>
<text x="1309.8" y="943.39" font-size="17" text-anchor="middle" font-weight="normal" fill="#000" >****</text>
<path d="M1359.88 953.19V943.15H1399.79V983.31" stroke="#000" stroke-width="1" fill="none"/>
<text x="1379.83" y="947.15" font-size="17" text-anchor="middle" font-weight="normal" fill="#000" >*</text>
<path d="M1449.74 911.78V854.55H1487.64V862.83" stroke="#000" stroke-width="1" fill="none"/>
<text x="1468.69" y="858.55" font-size="17" text-anchor="middle" font-weight="normal" fill="#000" >*</text>
<path d="M1472.08 833.97V827.69H1506.97V866.6" stroke="#000" stroke-width="1" fill="none"/>
<text x="1489.52" y="831.69" font-size="17" text-anchor="middle" font-weight="normal" fill="#000" >**</text>
<text transform="translate(1196.5,928.1) rotate(-90)" x="0" y="0" font-size="21" text-anchor="middle" dominant-baseline="central">% of CD4+ cells</text>
<text x="1300.14" y="1052.34" font-size="20.5" text-anchor="middle">T<tspan font-size="15" dy="6">N</tspan></text>
<text x="1389.25" y="1052.34" font-size="20.5" text-anchor="middle">T<tspan font-size="15" dy="6">CM</tspan></text>
<text x="1477.85" y="1052.34" font-size="20.5" text-anchor="middle">T<tspan font-size="15" dy="6">EM</tspan></text>
</g>
<g>
<rect x="131.93" y="1171.46" width="36.01" height="134.56" fill="#fff" stroke="#000" stroke-width="1.2"/>
<path d="M149.93 1171.46V1163.84M140.93 1163.84H158.93" stroke="#000" stroke-width="1.2" fill="none"/>
<rect x="188.44" y="1185.12" width="35.74" height="120.89" fill="#000" stroke="#000" stroke-width="1.2"/>
<path d="M206.31 1185.12V1178.55M197.37 1178.55H215.24" stroke="#000" stroke-width="1.2" fill="none"/>
<rect x="244.42" y="1223.23" width="36.01" height="82.79" fill="#fff" stroke="#000" stroke-width="1.2"/>
<path d="M250.42 1223.23V1306.02M256.42 1223.23V1306.02M262.42 1223.23V1306.02M268.42 1223.23V1306.02M274.42 1223.23V1306.02" stroke="#000" stroke-width="1"/>
<path d="M262.42 1223.23V1213.51M253.42 1213.51H271.42" stroke="#000" stroke-width="1.2" fill="none"/>
<rect x="300.66" y="1195.64" width="35.74" height="110.38" fill="#000" stroke="#000" stroke-width="1.2"/>
<path d="M301.96 1301.62H335.1M301.96 1296H335.1M301.96 1290.38H335.1M301.96 1284.76H335.1M301.96 1279.14H335.1M301.96 1273.52H335.1M301.96 1267.9H335.1M301.96 1262.28H335.1M301.96 1256.66H335.1M301.96 1251.04H335.1M301.96 1245.42H335.1M301.96 1239.8H335.1M301.96 1234.18H335.1M301.96 1228.56H335.1M301.96 1222.94H335.1M301.96 1217.32H335.1M301.96 1211.7H335.1M301.96 1206.08H335.1M301.96 1200.46H335.1" stroke="#d8d8d8" stroke-width="1.5"/>
<path d="M318.53 1195.64V1181.45M309.59 1181.45H327.46" stroke="#000" stroke-width="1.2" fill="none"/>
<path d="M103.29 1117.58V1306.02H365.83" stroke="#000" stroke-width="1.3" fill="none"/>
<path d="M98.29 1306.02H103.29" stroke="#000" stroke-width="1.3"/>
<text x="97.29" y="1313.32" font-size="20.5" text-anchor="end" font-weight="normal" fill="#000" >0</text>
<path d="M98.29 1243.21H103.29" stroke="#000" stroke-width="1.3"/>
<text x="97.29" y="1250.51" font-size="20.5" text-anchor="end" font-weight="normal" fill="#000" >10</text>
<path d="M98.29 1180.39H103.29" stroke="#000" stroke-width="1.3"/>
<text x="97.29" y="1187.69" font-size="20.5" text-anchor="end" font-weight="normal" fill="#000" >20</text>
<path d="M98.29 1117.58H103.29" stroke="#000" stroke-width="1.3"/>
<text x="97.29" y="1124.88" font-size="20.5" text-anchor="end" font-weight="normal" fill="#000" >30</text>
<path d="M233.9 1306.02V1311.02" stroke="#000" stroke-width="1.3"/>
<circle cx="145.34" cy="1147.54" r="3.7" fill="#fff" stroke="#000" stroke-width="1.25"/>
<circle cx="154.53" cy="1144.91" r="3.7" fill="#fff" stroke="#000" stroke-width="1.25"/>
<circle cx="149.8" cy="1168.04" r="3.7" fill="#fff" stroke="#000" stroke-width="1.25"/>
<circle cx="135.87" cy="1177.77" r="3.7" fill="#fff" stroke="#000" stroke-width="1.25"/>
<circle cx="145.34" cy="1180.66" r="3.7" fill="#fff" stroke="#000" stroke-width="1.25"/>
<circle cx="154.53" cy="1188.28" r="3.7" fill="#fff" stroke="#000" stroke-width="1.25"/>
<circle cx="163.73" cy="1189.07" r="3.7" fill="#fff" stroke="#000" stroke-width="1.25"/>
<rect x="202.81" y="1153.5" width="7" height="7" fill="#fff" stroke="#000" stroke-width="1.25"/>
<rect x="188.62" y="1179.52" width="7" height="7" fill="#fff" stroke="#000" stroke-width="1.25"/>
<rect x="197.81" y="1182.15" width="7" height="7" fill="#fff" stroke="#000" stroke-width="1.25"/>
<rect x="207.28" y="1182.68" width="7" height="7" fill="#fff" stroke="#000" stroke-width="1.25"/>
<rect x="216.74" y="1188.46" width="7" height="7" fill="#fff" stroke="#000" stroke-width="1.25"/>
<rect x="202.81" y="1200.81" width="7" height="7" fill="#fff" stroke="#000" stroke-width="1.25"/>
<polygon points="262.29,1192.67 266.39,1200.05 258.19,1200.05" fill="#fff" stroke="#000" stroke-width="1.25" stroke-linejoin="miter"/>
<polygon points="249.93,1206.6 254.03,1213.98 245.83,1213.98" fill="#fff" stroke="#000" stroke-width="1.25" stroke-linejoin="miter"/>
<polygon points="262.29,1207.91 266.39,1215.29 258.19,1215.29" fill="#fff" stroke="#000" stroke-width="1.25" stroke-linejoin="miter"/>
<polygon points="274.64,1215.01 278.74,1222.39 270.54,1222.39" fill="#fff" stroke="#000" stroke-width="1.25" stroke-linejoin="miter"/>
<polygon points="262.29,1233.41 266.39,1240.79 258.19,1240.79" fill="#fff" stroke="#000" stroke-width="1.25" stroke-linejoin="miter"/>
<polygon points="262.29,1258.37 266.39,1265.75 258.19,1265.75" fill="#fff" stroke="#000" stroke-width="1.25" stroke-linejoin="miter"/>
<polygon points="318.53,1136.84 322.63,1129.46 314.43,1129.46" fill="#fff" stroke="#000" stroke-width="1.25" stroke-linejoin="miter"/>
<polygon points="304.34,1190.72 308.44,1183.34 300.24,1183.34" fill="#fff" stroke="#000" stroke-width="1.25" stroke-linejoin="miter"/>
<polygon points="332.46,1189.93 336.56,1182.55 328.36,1182.55" fill="#fff" stroke="#000" stroke-width="1.25" stroke-linejoin="miter"/>
<polygon points="314.06,1196.76 318.16,1189.38 309.96,1189.38" fill="#fff" stroke="#000" stroke-width="1.25" stroke-linejoin="miter"/>
<polygon points="322.73,1197.29 326.83,1189.91 318.63,1189.91" fill="#fff" stroke="#000" stroke-width="1.25" stroke-linejoin="miter"/>
<polygon points="314.06,1240.13 318.16,1232.75 309.96,1232.75" fill="#fff" stroke="#000" stroke-width="1.25" stroke-linejoin="miter"/>
<polygon points="322.73,1241.97 326.83,1234.59 318.63,1234.59" fill="#fff" stroke="#000" stroke-width="1.25" stroke-linejoin="miter"/>
<path d="M149.28 1132.56V1122.05H262.29V1178.55" stroke="#000" stroke-width="1" fill="none"/>
<text x="205.78" y="1126.05" font-size="17" text-anchor="middle" font-weight="normal" fill="#000" >**</text>
<text transform="translate(52.6,1206.7) rotate(-90)" x="0" y="0" font-size="21" text-anchor="middle" dominant-baseline="central">No cells (*10<tspan font-size="14" dy="-9">6</tspan><tspan dy="9">)</tspan></text>
<text x="233.9" y="1331.77" font-size="20.5" text-anchor="middle" font-weight="normal" fill="#000" >T cells</text>
</g>
<g>
<rect x="498.27" y="1190.11" width="17.08" height="115.9" fill="#fff" stroke="#000" stroke-width="1.2"/>
<path d="M506.81 1190.11V1183.01M502.54 1183.01H511.08" stroke="#000" stroke-width="1.2" fill="none"/>
<rect x="526.39" y="1199.3" width="17.08" height="106.7" fill="#000" stroke="#000" stroke-width="1.2"/>
<path d="M534.93 1199.3V1193.52M530.66 1193.52H539.2" stroke="#000" stroke-width="1.2" fill="none"/>
<rect x="554.24" y="1228.21" width="17.35" height="77.79" fill="#fff" stroke="#000" stroke-width="1.2"/>
<path d="M560.03 1228.21V1306.01M565.81 1228.21V1306.01" stroke="#000" stroke-width="1"/>
<path d="M562.92 1228.21V1218.49M558.58 1218.49H567.25" stroke="#000" stroke-width="1.2" fill="none"/>
<rect x="582.63" y="1197.2" width="17.08" height="108.8" fill="#000" stroke="#000" stroke-width="1.2"/>
<path d="M583.93 1301.61H598.41M583.93 1295.99H598.41M583.93 1290.37H598.41M583.93 1284.75H598.41M583.93 1279.13H598.41M583.93 1273.51H598.41M583.93 1267.89H598.41M583.93 1262.27H598.41M583.93 1256.65H598.41M583.93 1251.03H598.41M583.93 1245.41H598.41M583.93 1239.79H598.41M583.93 1234.17H598.41M583.93 1228.55H598.41M583.93 1222.93H598.41M583.93 1217.31H598.41M583.93 1211.69H598.41M583.93 1206.07H598.41M583.93 1200.45H598.41" stroke="#d8d8d8" stroke-width="1.5"/>
<path d="M591.17 1197.2V1184.32M586.9 1184.32H595.44" stroke="#000" stroke-width="1.2" fill="none"/>
<rect x="629.67" y="1173.29" width="17.08" height="132.72" fill="#fff" stroke="#000" stroke-width="1.2"/>
<path d="M638.21 1173.29V1164.61M633.94 1164.61H642.48" stroke="#000" stroke-width="1.2" fill="none"/>
<rect x="657.79" y="1190.89" width="17.08" height="115.11" fill="#000" stroke="#000" stroke-width="1.2"/>
<path d="M666.33 1190.89V1185.64M662.06 1185.64H670.6" stroke="#000" stroke-width="1.2" fill="none"/>
<rect x="685.65" y="1229.53" width="17.08" height="76.48" fill="#fff" stroke="#000" stroke-width="1.2"/>
<path d="M691.34 1229.53V1306.01M697.04 1229.53V1306.01" stroke="#000" stroke-width="1"/>
<path d="M694.19 1229.53V1221.12M689.92 1221.12H698.46" stroke="#000" stroke-width="1.2" fill="none"/>
<rect x="714.03" y="1208.76" width="17.08" height="97.24" fill="#000" stroke="#000" stroke-width="1.2"/>
<path d="M715.33 1301.61H729.82M715.33 1295.99H729.82M715.33 1290.37H729.82M715.33 1284.75H729.82M715.33 1279.13H729.82M715.33 1273.51H729.82M715.33 1267.89H729.82M715.33 1262.27H729.82M715.33 1256.65H729.82M715.33 1251.03H729.82M715.33 1245.41H729.82M715.33 1239.79H729.82M715.33 1234.17H729.82M715.33 1228.55H729.82M715.33 1222.93H729.82M715.33 1217.31H729.82M715.33 1211.69H729.82" stroke="#d8d8d8" stroke-width="1.5"/>
<path d="M722.58 1208.76V1194.05M718.3 1194.05H726.85" stroke="#000" stroke-width="1.2" fill="none"/>
<path d="M483.81 1117.31V1306.01H746.62" stroke="#000" stroke-width="1.3" fill="none"/>
<path d="M478.81 1306.01H483.81" stroke="#000" stroke-width="1.3"/>
<text x="477.81" y="1313.31" font-size="20.5" text-anchor="end" font-weight="normal" fill="#000" >0</text>
<path d="M478.81 1243.11H483.81" stroke="#000" stroke-width="1.3"/>
<text x="477.81" y="1250.41" font-size="20.5" text-anchor="end" font-weight="normal" fill="#000" >5</text>
<path d="M478.81 1180.21H483.81" stroke="#000" stroke-width="1.3"/>
<text x="477.81" y="1187.51" font-size="20.5" text-anchor="end" font-weight="normal" fill="#000" >10</text>
<path d="M478.81 1117.31H483.81" stroke="#000" stroke-width="1.3"/>
<text x="477.81" y="1124.61" font-size="20.5" text-anchor="end" font-weight="normal" fill="#000" >15</text>
<path d="M548.46 1306.01V1311.01" stroke="#000" stroke-width="1.3"/>
<path d="M680.39 1306.01V1311.01" stroke="#000" stroke-width="1.3"/>
<circle cx="504.05" cy="1169.34" r="3.7" fill="#fff" stroke="#000" stroke-width="1.25"/>
<circle cx="508.78" cy="1168.82" r="3.7" fill="#fff" stroke="#000" stroke-width="1.25"/>
<circle cx="501.94" cy="1188.27" r="3.7" fill="#fff" stroke="#000" stroke-width="1.25"/>
<circle cx="506.68" cy="1188.27" r="3.7" fill="#fff" stroke="#000" stroke-width="1.25"/>
<circle cx="511.41" cy="1193" r="3.7" fill="#fff" stroke="#000" stroke-width="1.25"/>
<circle cx="504.31" cy="1205.87" r="3.7" fill="#fff" stroke="#000" stroke-width="1.25"/>
<circle cx="508.78" cy="1212.18" r="3.7" fill="#fff" stroke="#000" stroke-width="1.25"/>
<rect x="531.56" y="1160.32" width="7" height="7" fill="#fff" stroke="#000" stroke-width="1.25"/>
<rect x="531.56" y="1187.39" width="7" height="7" fill="#fff" stroke="#000" stroke-width="1.25"/>
<rect x="526.83" y="1195.8" width="7" height="7" fill="#fff" stroke="#000" stroke-width="1.25"/>
<rect x="531.56" y="1200.53" width="7" height="7" fill="#fff" stroke="#000" stroke-width="1.25"/>
<rect x="535.76" y="1202.11" width="7" height="7" fill="#fff" stroke="#000" stroke-width="1.25"/>
<rect x="531.56" y="1224.19" width="7" height="7" fill="#fff" stroke="#000" stroke-width="1.25"/>
<polygon points="558.71,1204.22 562.81,1211.6 554.61,1211.6" fill="#fff" stroke="#000" stroke-width="1.25" stroke-linejoin="miter"/>
<polygon points="563.44,1199.75 567.54,1207.13 559.34,1207.13" fill="#fff" stroke="#000" stroke-width="1.25" stroke-linejoin="miter"/>
<polygon points="567.65,1215.52 571.75,1222.9 563.55,1222.9" fill="#fff" stroke="#000" stroke-width="1.25" stroke-linejoin="miter"/>
<polygon points="558.71,1228.66 562.81,1236.04 554.61,1236.04" fill="#fff" stroke="#000" stroke-width="1.25" stroke-linejoin="miter"/>
<polygon points="567.65,1233.13 571.75,1240.51 563.55,1240.51" fill="#fff" stroke="#000" stroke-width="1.25" stroke-linejoin="miter"/>
<polygon points="563.44,1260.2 567.54,1267.58 559.34,1267.58" fill="#fff" stroke="#000" stroke-width="1.25" stroke-linejoin="miter"/>
<polygon points="591.04,1149.71 595.14,1142.33 586.94,1142.33" fill="#fff" stroke="#000" stroke-width="1.25" stroke-linejoin="miter"/>
<polygon points="595.51,1180.72 599.61,1173.34 591.41,1173.34" fill="#fff" stroke="#000" stroke-width="1.25" stroke-linejoin="miter"/>
<polygon points="586.83,1187.82 590.93,1180.44 582.73,1180.44" fill="#fff" stroke="#000" stroke-width="1.25" stroke-linejoin="miter"/>
<polygon points="586.83,1195.17 590.93,1187.79 582.73,1187.79" fill="#fff" stroke="#000" stroke-width="1.25" stroke-linejoin="miter"/>
<polygon points="595.51,1205.69 599.61,1198.31 591.41,1198.31" fill="#fff" stroke="#000" stroke-width="1.25" stroke-linejoin="miter"/>
<polygon points="586.83,1240.38 590.93,1233 582.73,1233" fill="#fff" stroke="#000" stroke-width="1.25" stroke-linejoin="miter"/>
<polygon points="595.51,1240.38 599.61,1233 591.41,1233" fill="#fff" stroke="#000" stroke-width="1.25" stroke-linejoin="miter"/>
<circle cx="633.61" cy="1148.84" r="3.7" fill="#fff" stroke="#000" stroke-width="1.25"/>
<circle cx="642.81" cy="1145.95" r="3.7" fill="#fff" stroke="#000" stroke-width="1.25"/>
<circle cx="633.61" cy="1168.29" r="3.7" fill="#fff" stroke="#000" stroke-width="1.25"/>
<circle cx="642.81" cy="1169.87" r="3.7" fill="#fff" stroke="#000" stroke-width="1.25"/>
<circle cx="638.34" cy="1184.06" r="3.7" fill="#fff" stroke="#000" stroke-width="1.25"/>
<circle cx="633.61" cy="1189.58" r="3.7" fill="#fff" stroke="#000" stroke-width="1.25"/>
<circle cx="642.81" cy="1199.83" r="3.7" fill="#fff" stroke="#000" stroke-width="1.25"/>
<rect x="662.97" y="1169.52" width="7" height="7" fill="#fff" stroke="#000" stroke-width="1.25"/>
<rect x="660.34" y="1174.78" width="7" height="7" fill="#fff" stroke="#000" stroke-width="1.25"/>
<rect x="664.8" y="1184.77" width="7" height="7" fill="#fff" stroke="#000" stroke-width="1.25"/>
<rect x="658.23" y="1195.8" width="7" height="7" fill="#fff" stroke="#000" stroke-width="1.25"/>
<rect x="666.91" y="1195.8" width="7" height="7" fill="#fff" stroke="#000" stroke-width="1.25"/>
<polygon points="694.32,1196.34 698.42,1203.72 690.22,1203.72" fill="#fff" stroke="#000" stroke-width="1.25" stroke-linejoin="miter"/>
<polygon points="689.59,1212.11 693.69,1219.49 685.49,1219.49" fill="#fff" stroke="#000" stroke-width="1.25" stroke-linejoin="miter"/>
<polygon points="694.32,1212.89 698.42,1220.27 690.22,1220.27" fill="#fff" stroke="#000" stroke-width="1.25" stroke-linejoin="miter"/>
<polygon points="699.05,1222.09 703.15,1229.47 694.95,1229.47" fill="#fff" stroke="#000" stroke-width="1.25" stroke-linejoin="miter"/>
<polygon points="694.32,1244.43 698.42,1251.81 690.22,1251.81" fill="#fff" stroke="#000" stroke-width="1.25" stroke-linejoin="miter"/>
<polygon points="694.32,1262.3 698.42,1269.68 690.22,1269.68" fill="#fff" stroke="#000" stroke-width="1.25" stroke-linejoin="miter"/>
<polygon points="722.71,1142.09 726.81,1134.71 718.61,1134.71" fill="#fff" stroke="#000" stroke-width="1.25" stroke-linejoin="miter"/>
<polygon points="718.5,1204.9 722.6,1197.52 714.4,1197.52" fill="#fff" stroke="#000" stroke-width="1.25" stroke-linejoin="miter"/>
<polygon points="726.91,1200.96 731.01,1193.58 722.81,1193.58" fill="#fff" stroke="#000" stroke-width="1.25" stroke-linejoin="miter"/>
<polygon points="718.5,1214.88 722.6,1207.5 714.4,1207.5" fill="#fff" stroke="#000" stroke-width="1.25" stroke-linejoin="miter"/>
<polygon points="726.91,1216.2 731.01,1208.82 722.81,1208.82" fill="#fff" stroke="#000" stroke-width="1.25" stroke-linejoin="miter"/>
<polygon points="718.5,1251.68 722.6,1244.3 714.4,1244.3" fill="#fff" stroke="#000" stroke-width="1.25" stroke-linejoin="miter"/>
<polygon points="726.91,1251.68 731.01,1244.3 722.81,1244.3" fill="#fff" stroke="#000" stroke-width="1.25" stroke-linejoin="miter"/>
<path d="M506.68 1154.63V1145.43H563.18V1196.15" stroke="#000" stroke-width="1" fill="none"/>
<text x="534.93" y="1149.43" font-size="17" text-anchor="middle" font-weight="normal" fill="#000" >*</text>
<path d="M637.56 1133.07V1123.35H694.32V1189.58" stroke="#000" stroke-width="1" fill="none"/>
<text x="665.94" y="1127.35" font-size="17" text-anchor="middle" font-weight="normal" fill="#000" >**</text>
<text transform="translate(436,1206.7) rotate(-90)" x="0" y="0" font-size="21" text-anchor="middle" dominant-baseline="central">No cells (*10<tspan font-size="14" dy="-9">6</tspan><tspan dy="9">)</tspan></text>
<text x="548.46" y="1331.5" font-size="20.5" text-anchor="middle">CD8<tspan font-size="14" dy="-9">+</tspan></text>
<text x="680.39" y="1331.5" font-size="20.5" text-anchor="middle">CD4<tspan font-size="14" dy="-9">+</tspan></text>
</g>
<g>
<rect x="871.86" y="1197.34" width="11.49" height="105.37" fill="#fff" stroke="#000" stroke-width="1.2"/>
<path d="M877.6 1197.34V1182.36M874.1 1182.36H881.1" stroke="#000" stroke-width="1.2" fill="none"/>
<rect x="891.09" y="1186.85" width="11.24" height="115.86" fill="#000" stroke="#000" stroke-width="1.2"/>
<path d="M896.7 1186.85V1179.86M893.2 1179.86H900.2" stroke="#000" stroke-width="1.2" fill="none"/>
<rect x="910.31" y="1263.01" width="11.24" height="39.7" fill="#fff" stroke="#000" stroke-width="1.2"/>
<path d="M914.06 1263.01V1302.71M917.8 1263.01V1302.71" stroke="#000" stroke-width="1"/>
<path d="M915.93 1263.01V1256.02M912.43 1256.02H919.43" stroke="#000" stroke-width="1.2" fill="none"/>
<rect x="929.79" y="1211.07" width="11.24" height="91.64" fill="#000" stroke="#000" stroke-width="1.2"/>
<path d="M931.09 1298.31H939.72M931.09 1292.69H939.72M931.09 1287.07H939.72M931.09 1281.45H939.72M931.09 1275.83H939.72M931.09 1270.21H939.72M931.09 1264.59H939.72M931.09 1258.97H939.72M931.09 1253.35H939.72M931.09 1247.73H939.72M931.09 1242.11H939.72M931.09 1236.49H939.72M931.09 1230.87H939.72M931.09 1225.25H939.72M931.09 1219.63H939.72M931.09 1214.01H939.72" stroke="#d8d8d8" stroke-width="1.5"/>
<path d="M935.41 1211.07V1189.85M931.91 1189.85H938.91" stroke="#000" stroke-width="1.2" fill="none"/>
<rect x="961.75" y="1239.04" width="11.24" height="63.67" fill="#fff" stroke="#000" stroke-width="1.2"/>
<path d="M967.37 1239.04V1231.8M963.87 1231.8H970.87" stroke="#000" stroke-width="1.2" fill="none"/>
<rect x="980.72" y="1243.03" width="11.24" height="59.68" fill="#000" stroke="#000" stroke-width="1.2"/>
<path d="M986.34 1243.03V1228.55M982.84 1228.55H989.84" stroke="#000" stroke-width="1.2" fill="none"/>
<rect x="1000.2" y="1229.3" width="11.24" height="73.41" fill="#fff" stroke="#000" stroke-width="1.2"/>
<path d="M1003.95 1229.3V1302.71M1007.69 1229.3V1302.71" stroke="#000" stroke-width="1"/>
<path d="M1005.82 1229.3V1218.56M1002.32 1218.56H1009.32" stroke="#000" stroke-width="1.2" fill="none"/>
<rect x="1019.43" y="1244.03" width="11.24" height="58.68" fill="#000" stroke="#000" stroke-width="1.2"/>
<path d="M1020.73 1298.31H1029.36M1020.73 1292.69H1029.36M1020.73 1287.07H1029.36M1020.73 1281.45H1029.36M1020.73 1275.83H1029.36M1020.73 1270.21H1029.36M1020.73 1264.59H1029.36M1020.73 1258.97H1029.36M1020.73 1253.35H1029.36M1020.73 1247.73H1029.36" stroke="#d8d8d8" stroke-width="1.5"/>
<path d="M1025.04 1244.03V1228.05M1021.54 1228.05H1028.54" stroke="#000" stroke-width="1.2" fill="none"/>
<rect x="1051.14" y="1280.49" width="11.49" height="22.22" fill="#fff" stroke="#000" stroke-width="1.2"/>
<path d="M1056.88 1280.49V1273.5M1053.38 1273.5H1060.38" stroke="#000" stroke-width="1.2" fill="none"/>
<rect x="1070.36" y="1285.98" width="11.24" height="16.73" fill="#000" stroke="#000" stroke-width="1.2"/>
<path d="M1075.98 1285.98V1282.23M1072.48 1282.23H1079.48" stroke="#000" stroke-width="1.2" fill="none"/>
<rect x="1089.59" y="1275.49" width="11.49" height="27.22" fill="#fff" stroke="#000" stroke-width="1.2"/>
<path d="M1093.42 1275.49V1302.71M1097.25 1275.49V1302.71" stroke="#000" stroke-width="1"/>
<path d="M1095.33 1275.49V1267.25M1091.83 1267.25H1098.83" stroke="#000" stroke-width="1.2" fill="none"/>
<rect x="1108.81" y="1287.23" width="11.49" height="15.48" fill="#000" stroke="#000" stroke-width="1.2"/>
<path d="M1110.11 1298.31H1119M1110.11 1292.69H1119" stroke="#d8d8d8" stroke-width="1.5"/>
<path d="M1114.56 1287.23V1279.24M1111.06 1279.24H1118.06" stroke="#000" stroke-width="1.2" fill="none"/>
<path d="M861.87 1116.94V1302.71H1132.03" stroke="#000" stroke-width="1.3" fill="none"/>
<path d="M856.87 1302.71H861.87" stroke="#000" stroke-width="1.3"/>
<text x="855.87" y="1310.01" font-size="20.5" text-anchor="end" font-weight="normal" fill="#000" >0</text>
<path d="M856.87 1256.27H861.87" stroke="#000" stroke-width="1.3"/>
<text x="855.87" y="1263.57" font-size="20.5" text-anchor="end" font-weight="normal" fill="#000" >2</text>
<path d="M856.87 1209.83H861.87" stroke="#000" stroke-width="1.3"/>
<text x="855.87" y="1217.13" font-size="20.5" text-anchor="end" font-weight="normal" fill="#000" >4</text>
<path d="M856.87 1163.38H861.87" stroke="#000" stroke-width="1.3"/>
<text x="855.87" y="1170.68" font-size="20.5" text-anchor="end" font-weight="normal" fill="#000" >6</text>
<path d="M856.87 1116.94H861.87" stroke="#000" stroke-width="1.3"/>
<text x="855.87" y="1124.24" font-size="20.5" text-anchor="end" font-weight="normal" fill="#000" >8</text>
<path d="M906.07 1302.71V1307.71" stroke="#000" stroke-width="1.3"/>
<path d="M995.21 1302.71V1307.71" stroke="#000" stroke-width="1.3"/>
<path d="M1085.09 1302.71V1307.71" stroke="#000" stroke-width="1.3"/>
<circle cx="877.6" cy="1167.38" r="3.7" fill="#fff" stroke="#000" stroke-width="1.25"/>
<circle cx="877.6" cy="1181.11" r="3.7" fill="#fff" stroke="#000" stroke-width="1.25"/>
<circle cx="877.6" cy="1201.84" r="3.7" fill="#fff" stroke="#000" stroke-width="1.25"/>
<circle cx="877.6" cy="1234.79" r="3.7" fill="#fff" stroke="#000" stroke-width="1.25"/>
<rect x="891.33" y="1178.11" width="7" height="7" fill="#fff" stroke="#000" stroke-width="1.25"/>
<rect x="895.33" y="1178.86" width="7" height="7" fill="#fff" stroke="#000" stroke-width="1.25"/>
<rect x="893.33" y="1193.09" width="7" height="7" fill="#fff" stroke="#000" stroke-width="1.25"/>
<polygon points="916.05,1246.24 920.15,1253.62 911.95,1253.62" fill="#fff" stroke="#000" stroke-width="1.25" stroke-linejoin="miter"/>
<polygon points="914.06,1249.74 918.16,1257.12 909.96,1257.12" fill="#fff" stroke="#000" stroke-width="1.25" stroke-linejoin="miter"/>
<polygon points="918.05,1247.99 922.15,1255.37 913.95,1255.37" fill="#fff" stroke="#000" stroke-width="1.25" stroke-linejoin="miter"/>
<polygon points="916.05,1260.48 920.15,1267.86 911.95,1267.86" fill="#fff" stroke="#000" stroke-width="1.25" stroke-linejoin="miter"/>
<polygon points="914.06,1267.47 918.16,1274.85 909.96,1274.85" fill="#fff" stroke="#000" stroke-width="1.25" stroke-linejoin="miter"/>
<polygon points="918.05,1267.47 922.15,1274.85 913.95,1274.85" fill="#fff" stroke="#000" stroke-width="1.25" stroke-linejoin="miter"/>
<polygon points="916.05,1277.45 920.15,1284.83 911.95,1284.83" fill="#fff" stroke="#000" stroke-width="1.25" stroke-linejoin="miter"/>
<polygon points="935.53,1140.7 939.63,1133.32 931.43,1133.32" fill="#fff" stroke="#000" stroke-width="1.25" stroke-linejoin="miter"/>
<polygon points="935.53,1154.93 939.63,1147.55 931.43,1147.55" fill="#fff" stroke="#000" stroke-width="1.25" stroke-linejoin="miter"/>
<polygon points="935.53,1182.15 939.63,1174.77 931.43,1174.77" fill="#fff" stroke="#000" stroke-width="1.25" stroke-linejoin="miter"/>
<polygon points="935.53,1236.58 939.63,1229.2 931.43,1229.2" fill="#fff" stroke="#000" stroke-width="1.25" stroke-linejoin="miter"/>
<polygon points="935.53,1267.04 939.63,1259.66 931.43,1259.66" fill="#fff" stroke="#000" stroke-width="1.25" stroke-linejoin="miter"/>
<polygon points="935.53,1279.52 939.63,1272.14 931.43,1272.14" fill="#fff" stroke="#000" stroke-width="1.25" stroke-linejoin="miter"/>
<circle cx="967.24" cy="1222.81" r="3.7" fill="#fff" stroke="#000" stroke-width="1.25"/>
<circle cx="965.24" cy="1236.04" r="3.7" fill="#fff" stroke="#000" stroke-width="1.25"/>
<circle cx="969.24" cy="1239.79" r="3.7" fill="#fff" stroke="#000" stroke-width="1.25"/>
<circle cx="967.24" cy="1251.52" r="3.7" fill="#fff" stroke="#000" stroke-width="1.25"/>
<rect x="982.97" y="1210.82" width="7" height="7" fill="#fff" stroke="#000" stroke-width="1.25"/>
<rect x="982.97" y="1253.27" width="7" height="7" fill="#fff" stroke="#000" stroke-width="1.25"/>
<polygon points="1005.94,1198.55 1010.04,1205.93 1001.84,1205.93" fill="#fff" stroke="#000" stroke-width="1.25" stroke-linejoin="miter"/>
<polygon points="1003.95,1205.54 1008.05,1212.92 999.85,1212.92" fill="#fff" stroke="#000" stroke-width="1.25" stroke-linejoin="miter"/>
<polygon points="1003.95,1214.28 1008.05,1221.66 999.85,1221.66" fill="#fff" stroke="#000" stroke-width="1.25" stroke-linejoin="miter"/>
<polygon points="1007.94,1221.77 1012.04,1229.15 1003.84,1229.15" fill="#fff" stroke="#000" stroke-width="1.25" stroke-linejoin="miter"/>
<polygon points="1003.95,1251.74 1008.05,1259.12 999.85,1259.12" fill="#fff" stroke="#000" stroke-width="1.25" stroke-linejoin="miter"/>
<polygon points="1007.94,1258.73 1012.04,1266.11 1003.84,1266.11" fill="#fff" stroke="#000" stroke-width="1.25" stroke-linejoin="miter"/>
<polygon points="1025.17,1188.39 1029.27,1181.01 1021.07,1181.01" fill="#fff" stroke="#000" stroke-width="1.25" stroke-linejoin="miter"/>
<polygon points="1022.67,1197.38 1026.77,1190 1018.57,1190" fill="#fff" stroke="#000" stroke-width="1.25" stroke-linejoin="miter"/>
<polygon points="1025.17,1244.82 1029.27,1237.44 1021.07,1237.44" fill="#fff" stroke="#000" stroke-width="1.25" stroke-linejoin="miter"/>
<polygon points="1025.17,1261.55 1029.27,1254.17 1021.07,1254.17" fill="#fff" stroke="#000" stroke-width="1.25" stroke-linejoin="miter"/>
<polygon points="1025.17,1287.76 1029.27,1280.38 1021.07,1280.38" fill="#fff" stroke="#000" stroke-width="1.25" stroke-linejoin="miter"/>
<circle cx="1055.13" cy="1269" r="3.7" fill="#fff" stroke="#000" stroke-width="1.25"/>
<circle cx="1058.63" cy="1275.99" r="3.7" fill="#fff" stroke="#000" stroke-width="1.25"/>
<circle cx="1056.88" cy="1283.48" r="3.7" fill="#fff" stroke="#000" stroke-width="1.25"/>
<circle cx="1058.63" cy="1289.73" r="3.7" fill="#fff" stroke="#000" stroke-width="1.25"/>
<rect x="1072.6" y="1274.49" width="7" height="7" fill="#fff" stroke="#000" stroke-width="1.25"/>
<rect x="1074.1" y="1286.97" width="7" height="7" fill="#fff" stroke="#000" stroke-width="1.25"/>
<polygon points="1095.33,1254.23 1099.43,1261.61 1091.23,1261.61" fill="#fff" stroke="#000" stroke-width="1.25" stroke-linejoin="miter"/>
<polygon points="1093.83,1266.72 1097.93,1274.1 1089.73,1274.1" fill="#fff" stroke="#000" stroke-width="1.25" stroke-linejoin="miter"/>
<polygon points="1097.08,1267.97 1101.18,1275.35 1092.98,1275.35" fill="#fff" stroke="#000" stroke-width="1.25" stroke-linejoin="miter"/>
<polygon points="1095.33,1277.95 1099.43,1285.33 1091.23,1285.33" fill="#fff" stroke="#000" stroke-width="1.25" stroke-linejoin="miter"/>
<polygon points="1097.08,1285.44 1101.18,1292.82 1092.98,1292.82" fill="#fff" stroke="#000" stroke-width="1.25" stroke-linejoin="miter"/>
<polygon points="1114.56,1266.04 1118.66,1258.66 1110.46,1258.66" fill="#fff" stroke="#000" stroke-width="1.25" stroke-linejoin="miter"/>
<polygon points="1113.06,1269.79 1117.16,1262.41 1108.96,1262.41" fill="#fff" stroke="#000" stroke-width="1.25" stroke-linejoin="miter"/>
<polygon points="1114.56,1286.02 1118.66,1278.64 1110.46,1278.64" fill="#fff" stroke="#000" stroke-width="1.25" stroke-linejoin="miter"/>
<polygon points="1114.56,1297.25 1118.66,1289.87 1110.46,1289.87" fill="#fff" stroke="#000" stroke-width="1.25" stroke-linejoin="miter"/>
<polygon points="1114.56,1302.74 1118.66,1295.36 1110.46,1295.36" fill="#fff" stroke="#000" stroke-width="1.25" stroke-linejoin="miter"/>
<text transform="translate(822.4,1206.1) rotate(-90)" x="0" y="0" font-size="21" text-anchor="middle" dominant-baseline="central">No CD8<tspan font-size="14" dy="-9">+</tspan><tspan dy="9">cells (*10</tspan><tspan font-size="14" dy="-9">6</tspan><tspan dy="9">)</tspan></text>
<text x="906.07" y="1333.42" font-size="20.5" text-anchor="middle">T<tspan font-size="15" dy="6">N</tspan></text>
<text x="995.21" y="1333.42" font-size="20.5" text-anchor="middle">T<tspan font-size="15" dy="6">CM</tspan></text>
<text x="1085.09" y="1333.42" font-size="20.5" text-anchor="middle">T<tspan font-size="15" dy="6">EM</tspan></text>
</g>
<g>
<rect x="1257.22" y="1257" width="11.55" height="45.68" fill="#fff" stroke="#000" stroke-width="1.2"/>
<path d="M1262.99 1257V1249.47M1259.49 1249.47H1266.49" stroke="#000" stroke-width="1.2" fill="none"/>
<rect x="1277.05" y="1249.47" width="11.04" height="53.21" fill="#000" stroke="#000" stroke-width="1.2"/>
<path d="M1282.57 1249.47V1245.7M1279.07 1245.7H1286.07" stroke="#000" stroke-width="1.2" fill="none"/>
<rect x="1296.38" y="1283.35" width="11.55" height="19.33" fill="#fff" stroke="#000" stroke-width="1.2"/>
<path d="M1300.22 1283.35V1302.68M1304.07 1283.35V1302.68" stroke="#000" stroke-width="1"/>
<path d="M1302.15 1283.35V1277.83M1298.65 1277.83H1305.65" stroke="#000" stroke-width="1.2" fill="none"/>
<rect x="1315.7" y="1288.37" width="11.55" height="14.31" fill="#000" stroke="#000" stroke-width="1.2"/>
<path d="M1317 1298.28H1325.95M1317 1292.66H1325.95" stroke="#d8d8d8" stroke-width="1.5"/>
<path d="M1321.48 1288.37V1285.36M1317.98 1285.36H1324.98" stroke="#000" stroke-width="1.2" fill="none"/>
<rect x="1348.33" y="1251.22" width="11.55" height="51.46" fill="#fff" stroke="#000" stroke-width="1.2"/>
<path d="M1354.11 1251.22V1245.7M1350.61 1245.7H1357.61" stroke="#000" stroke-width="1.2" fill="none"/>
<rect x="1367.66" y="1262.02" width="11.3" height="40.66" fill="#000" stroke="#000" stroke-width="1.2"/>
<path d="M1373.31 1262.02V1259.51M1369.81 1259.51H1376.81" stroke="#000" stroke-width="1.2" fill="none"/>
<rect x="1387.24" y="1287.87" width="11.55" height="14.81" fill="#fff" stroke="#000" stroke-width="1.2"/>
<path d="M1391.09 1287.87V1302.68M1394.94 1287.87V1302.68" stroke="#000" stroke-width="1"/>
<path d="M1393.01 1287.87V1283.86M1389.51 1283.86H1396.51" stroke="#000" stroke-width="1.2" fill="none"/>
<rect x="1406.57" y="1277.08" width="11.55" height="25.6" fill="#000" stroke="#000" stroke-width="1.2"/>
<path d="M1407.87 1298.28H1416.81M1407.87 1292.66H1416.81M1407.87 1287.04H1416.81M1407.87 1281.42H1416.81" stroke="#d8d8d8" stroke-width="1.5"/>
<path d="M1412.34 1277.08V1269.55M1408.84 1269.55H1415.84" stroke="#000" stroke-width="1.2" fill="none"/>
<rect x="1438.69" y="1213.57" width="11.8" height="89.11" fill="#fff" stroke="#000" stroke-width="1.2"/>
<path d="M1444.59 1213.57V1210.06M1441.09 1210.06H1448.09" stroke="#000" stroke-width="1.2" fill="none"/>
<rect x="1458.27" y="1234.41" width="11.3" height="68.27" fill="#000" stroke="#000" stroke-width="1.2"/>
<path d="M1463.92 1234.41V1227.63M1460.42 1227.63H1467.42" stroke="#000" stroke-width="1.2" fill="none"/>
<rect x="1477.85" y="1227.13" width="11.55" height="75.55" fill="#fff" stroke="#000" stroke-width="1.2"/>
<path d="M1481.7 1227.13V1302.68M1485.55 1227.13V1302.68" stroke="#000" stroke-width="1"/>
<path d="M1483.62 1227.13V1216.59M1480.12 1216.59H1487.12" stroke="#000" stroke-width="1.2" fill="none"/>
<rect x="1497.43" y="1204.29" width="11.3" height="98.39" fill="#000" stroke="#000" stroke-width="1.2"/>
<path d="M1498.73 1298.28H1507.42M1498.73 1292.66H1507.42M1498.73 1287.04H1507.42M1498.73 1281.42H1507.42M1498.73 1275.8H1507.42M1498.73 1270.18H1507.42M1498.73 1264.56H1507.42M1498.73 1258.94H1507.42M1498.73 1253.32H1507.42M1498.73 1247.7H1507.42M1498.73 1242.08H1507.42M1498.73 1236.46H1507.42M1498.73 1230.84H1507.42M1498.73 1225.22H1507.42M1498.73 1219.6H1507.42M1498.73 1213.98H1507.42M1498.73 1208.36H1507.42" stroke="#d8d8d8" stroke-width="1.5"/>
<path d="M1503.08 1204.29V1191.74M1499.58 1191.74H1506.58" stroke="#000" stroke-width="1.2" fill="none"/>
<path d="M1246.68 1116.94V1302.68H1520.27" stroke="#000" stroke-width="1.3" fill="none"/>
<path d="M1241.68 1302.68H1246.68" stroke="#000" stroke-width="1.3"/>
<text x="1240.68" y="1309.98" font-size="20.5" text-anchor="end" font-weight="normal" fill="#000" >0</text>
<path d="M1241.68 1265.53H1246.68" stroke="#000" stroke-width="1.3"/>
<text x="1240.68" y="1272.83" font-size="20.5" text-anchor="end" font-weight="normal" fill="#000" >2</text>
<path d="M1241.68 1228.38H1246.68" stroke="#000" stroke-width="1.3"/>
<text x="1240.68" y="1235.68" font-size="20.5" text-anchor="end" font-weight="normal" fill="#000" >4</text>
<path d="M1241.68 1191.23H1246.68" stroke="#000" stroke-width="1.3"/>
<text x="1240.68" y="1198.53" font-size="20.5" text-anchor="end" font-weight="normal" fill="#000" >6</text>
<path d="M1241.68 1154.09H1246.68" stroke="#000" stroke-width="1.3"/>
<text x="1240.68" y="1161.39" font-size="20.5" text-anchor="end" font-weight="normal" fill="#000" >8</text>
<path d="M1241.68 1116.94H1246.68" stroke="#000" stroke-width="1.3"/>
<text x="1240.68" y="1124.24" font-size="20.5" text-anchor="end" font-weight="normal" fill="#000" >10</text>
<path d="M1291.86 1302.68V1307.68" stroke="#000" stroke-width="1.3"/>
<path d="M1382.72 1302.68V1307.68" stroke="#000" stroke-width="1.3"/>
<path d="M1473.33 1302.68V1307.68" stroke="#000" stroke-width="1.3"/>
<circle cx="1261.23" cy="1243.19" r="3.7" fill="#fff" stroke="#000" stroke-width="1.25"/>
<circle cx="1264.75" cy="1248.21" r="3.7" fill="#fff" stroke="#000" stroke-width="1.25"/>
<circle cx="1262.99" cy="1259.51" r="3.7" fill="#fff" stroke="#000" stroke-width="1.25"/>
<circle cx="1262.99" cy="1273.31" r="3.7" fill="#fff" stroke="#000" stroke-width="1.25"/>
<rect x="1277.06" y="1240.45" width="7" height="7" fill="#fff" stroke="#000" stroke-width="1.25"/>
<rect x="1279.07" y="1243.46" width="7" height="7" fill="#fff" stroke="#000" stroke-width="1.25"/>
<rect x="1279.07" y="1250.99" width="7" height="7" fill="#fff" stroke="#000" stroke-width="1.25"/>
<polygon points="1300.64,1270.29 1304.74,1277.67 1296.54,1277.67" fill="#fff" stroke="#000" stroke-width="1.25" stroke-linejoin="miter"/>
<polygon points="1303.65,1271.54 1307.75,1278.92 1299.55,1278.92" fill="#fff" stroke="#000" stroke-width="1.25" stroke-linejoin="miter"/>
<polygon points="1302.15,1277.82 1306.25,1285.2 1298.05,1285.2" fill="#fff" stroke="#000" stroke-width="1.25" stroke-linejoin="miter"/>
<polygon points="1302.15,1286.6 1306.25,1293.98 1298.05,1293.98" fill="#fff" stroke="#000" stroke-width="1.25" stroke-linejoin="miter"/>
<polygon points="1302.15,1292.88 1306.25,1300.26 1298.05,1300.26" fill="#fff" stroke="#000" stroke-width="1.25" stroke-linejoin="miter"/>
<polygon points="1321.48,1285.12 1325.58,1277.74 1317.38,1277.74" fill="#fff" stroke="#000" stroke-width="1.25" stroke-linejoin="miter"/>
<polygon points="1321.48,1291.4 1325.58,1284.02 1317.38,1284.02" fill="#fff" stroke="#000" stroke-width="1.25" stroke-linejoin="miter"/>
<polygon points="1319.47,1295.16 1323.57,1287.78 1315.37,1287.78" fill="#fff" stroke="#000" stroke-width="1.25" stroke-linejoin="miter"/>
<polygon points="1323.48,1300.18 1327.58,1292.8 1319.38,1292.8" fill="#fff" stroke="#000" stroke-width="1.25" stroke-linejoin="miter"/>
<polygon points="1321.48,1303.2 1325.58,1295.82 1317.38,1295.82" fill="#fff" stroke="#000" stroke-width="1.25" stroke-linejoin="miter"/>
<circle cx="1354.11" cy="1235.16" r="3.7" fill="#fff" stroke="#000" stroke-width="1.25"/>
<circle cx="1354.11" cy="1248.21" r="3.7" fill="#fff" stroke="#000" stroke-width="1.25"/>
<circle cx="1354.11" cy="1260.01" r="3.7" fill="#fff" stroke="#000" stroke-width="1.25"/>
<rect x="1368.18" y="1253.5" width="7" height="7" fill="#fff" stroke="#000" stroke-width="1.25"/>
<rect x="1369.93" y="1257.26" width="7" height="7" fill="#fff" stroke="#000" stroke-width="1.25"/>
<rect x="1369.93" y="1263.04" width="7" height="7" fill="#fff" stroke="#000" stroke-width="1.25"/>
<polygon points="1393.01,1276.06 1397.11,1283.44 1388.91,1283.44" fill="#fff" stroke="#000" stroke-width="1.25" stroke-linejoin="miter"/>
<polygon points="1391.51,1278.57 1395.61,1285.95 1387.41,1285.95" fill="#fff" stroke="#000" stroke-width="1.25" stroke-linejoin="miter"/>
<polygon points="1394.52,1281.58 1398.62,1288.96 1390.42,1288.96" fill="#fff" stroke="#000" stroke-width="1.25" stroke-linejoin="miter"/>
<polygon points="1393.01,1291.62 1397.11,1299 1388.91,1299" fill="#fff" stroke="#000" stroke-width="1.25" stroke-linejoin="miter"/>
<polygon points="1393.01,1295.39 1397.11,1302.77 1388.91,1302.77" fill="#fff" stroke="#000" stroke-width="1.25" stroke-linejoin="miter"/>
<polygon points="1412.34,1242.45 1416.44,1235.07 1408.24,1235.07" fill="#fff" stroke="#000" stroke-width="1.25" stroke-linejoin="miter"/>
<polygon points="1412.34,1269.56 1416.44,1262.18 1408.24,1262.18" fill="#fff" stroke="#000" stroke-width="1.25" stroke-linejoin="miter"/>
<polygon points="1410.33,1276.34 1414.43,1268.96 1406.23,1268.96" fill="#fff" stroke="#000" stroke-width="1.25" stroke-linejoin="miter"/>
<polygon points="1412.34,1287.13 1416.44,1279.75 1408.24,1279.75" fill="#fff" stroke="#000" stroke-width="1.25" stroke-linejoin="miter"/>
<polygon points="1412.34,1295.16 1416.44,1287.78 1408.24,1287.78" fill="#fff" stroke="#000" stroke-width="1.25" stroke-linejoin="miter"/>
<polygon points="1412.34,1302.69 1416.44,1295.31 1408.24,1295.31" fill="#fff" stroke="#000" stroke-width="1.25" stroke-linejoin="miter"/>
<circle cx="1442.71" cy="1202.28" r="3.7" fill="#fff" stroke="#000" stroke-width="1.25"/>
<circle cx="1446.22" cy="1208.05" r="3.7" fill="#fff" stroke="#000" stroke-width="1.25"/>
<circle cx="1444.47" cy="1216.34" r="3.7" fill="#fff" stroke="#000" stroke-width="1.25"/>
<circle cx="1444.47" cy="1221.36" r="3.7" fill="#fff" stroke="#000" stroke-width="1.25"/>
<rect x="1460.3" y="1218.36" width="7" height="7" fill="#fff" stroke="#000" stroke-width="1.25"/>
<rect x="1462.3" y="1228.4" width="7" height="7" fill="#fff" stroke="#000" stroke-width="1.25"/>
<rect x="1460.3" y="1242.2" width="7" height="7" fill="#fff" stroke="#000" stroke-width="1.25"/>
<polygon points="1481.87,1196.74 1485.97,1204.12 1477.77,1204.12" fill="#fff" stroke="#000" stroke-width="1.25" stroke-linejoin="miter"/>
<polygon points="1485.88,1195.49 1489.98,1202.87 1481.78,1202.87" fill="#fff" stroke="#000" stroke-width="1.25" stroke-linejoin="miter"/>
<polygon points="1483.62,1218.83 1487.72,1226.21 1479.52,1226.21" fill="#fff" stroke="#000" stroke-width="1.25" stroke-linejoin="miter"/>
<polygon points="1483.62,1228.87 1487.72,1236.25 1479.52,1236.25" fill="#fff" stroke="#000" stroke-width="1.25" stroke-linejoin="miter"/>
<polygon points="1481.87,1243.43 1485.97,1250.81 1477.77,1250.81" fill="#fff" stroke="#000" stroke-width="1.25" stroke-linejoin="miter"/>
<polygon points="1485.38,1251.46 1489.48,1258.84 1481.28,1258.84" fill="#fff" stroke="#000" stroke-width="1.25" stroke-linejoin="miter"/>
<polygon points="1502.95,1143.81 1507.05,1136.43 1498.85,1136.43" fill="#fff" stroke="#000" stroke-width="1.25" stroke-linejoin="miter"/>
<polygon points="1502.95,1173.93 1507.05,1166.55 1498.85,1166.55" fill="#fff" stroke="#000" stroke-width="1.25" stroke-linejoin="miter"/>
<polygon points="1502.95,1194.76 1507.05,1187.38 1498.85,1187.38" fill="#fff" stroke="#000" stroke-width="1.25" stroke-linejoin="miter"/>
<polygon points="1500.94,1209.32 1505.04,1201.94 1496.84,1201.94" fill="#fff" stroke="#000" stroke-width="1.25" stroke-linejoin="miter"/>
<polygon points="1504.96,1218.61 1509.06,1211.23 1500.86,1211.23" fill="#fff" stroke="#000" stroke-width="1.25" stroke-linejoin="miter"/>
<polygon points="1502.95,1246.22 1507.05,1238.84 1498.85,1238.84" fill="#fff" stroke="#000" stroke-width="1.25" stroke-linejoin="miter"/>
<polygon points="1502.95,1262.53 1507.05,1255.15 1498.85,1255.15" fill="#fff" stroke="#000" stroke-width="1.25" stroke-linejoin="miter"/>
<path d="M1262.49 1229.39V1218.59H1301.9V1273.31" stroke="#000" stroke-width="1" fill="none"/>
<text x="1282.19" y="1222.59" font-size="17" text-anchor="middle" font-weight="normal" fill="#000" >***</text>
<path d="M1282.57 1204.29V1195H1322.48V1277.08" stroke="#000" stroke-width="1" fill="none"/>
<text x="1302.53" y="1199" font-size="17" text-anchor="middle" font-weight="normal" fill="#000" >****</text>
<path d="M1353.86 1226.88V1216.08H1391.76V1268.29" stroke="#000" stroke-width="1" fill="none"/>
<text x="1372.81" y="1220.08" font-size="17" text-anchor="middle" font-weight="normal" fill="#000" >**</text>
<text transform="translate(1196.5,1204.8) rotate(-90)" x="0" y="0" font-size="21" text-anchor="middle" dominant-baseline="central">No CD4+ cells (*10<tspan font-size="15" dy="-5">6</tspan><tspan dy="5">)</tspan></text>
<text x="1291.86" y="1333.55" font-size="20.5" text-anchor="middle">T<tspan font-size="15" dy="6">N</tspan></text>
<text x="1382.72" y="1333.55" font-size="20.5" text-anchor="middle">T<tspan font-size="15" dy="6">CM</tspan></text>
<text x="1473.33" y="1333.55" font-size="20.5" text-anchor="middle">T<tspan font-size="15" dy="6">EM</tspan></text>
</g>
<g>
<rect x="114.85" y="1552.64" width="10.78" height="38.11" fill="#fff" stroke="#000" stroke-width="1.2"/>
<path d="M120.24 1552.64V1548.7M116.74 1548.7H123.74" stroke="#000" stroke-width="1.2" fill="none"/>
<rect x="133.51" y="1553.17" width="10.78" height="37.58" fill="#000" stroke="#000" stroke-width="1.2"/>
<path d="M138.9 1553.17V1549.75M135.4 1549.75H142.4" stroke="#000" stroke-width="1.2" fill="none"/>
<rect x="152.17" y="1548.44" width="10.78" height="42.31" fill="#fff" stroke="#000" stroke-width="1.2"/>
<path d="M155.76 1548.44V1590.75M159.35 1548.44V1590.75" stroke="#000" stroke-width="1"/>
<path d="M157.56 1548.44V1542.65M154.06 1542.65H161.06" stroke="#000" stroke-width="1.2" fill="none"/>
<rect x="170.83" y="1535.56" width="10.78" height="55.19" fill="#000" stroke="#000" stroke-width="1.2"/>
<path d="M172.13 1586.35H180.3M172.13 1580.73H180.3M172.13 1575.11H180.3M172.13 1569.49H180.3M172.13 1563.87H180.3M172.13 1558.25H180.3M172.13 1552.63H180.3M172.13 1547.01H180.3M172.13 1541.39H180.3" stroke="#d8d8d8" stroke-width="1.5"/>
<path d="M176.22 1535.56V1530.83M172.72 1530.83H179.72" stroke="#000" stroke-width="1.2" fill="none"/>
<rect x="201.31" y="1524.52" width="11.04" height="66.23" fill="#fff" stroke="#000" stroke-width="1.2"/>
<path d="M206.83 1524.52V1511.91M203.33 1511.91H210.33" stroke="#000" stroke-width="1.2" fill="none"/>
<rect x="219.97" y="1532.14" width="11.04" height="58.61" fill="#000" stroke="#000" stroke-width="1.2"/>
<path d="M225.49 1532.14V1519M221.99 1519H228.99" stroke="#000" stroke-width="1.2" fill="none"/>
<rect x="238.63" y="1467.23" width="11.04" height="123.52" fill="#fff" stroke="#000" stroke-width="1.2"/>
<path d="M242.31 1467.23V1590.75M245.99 1467.23V1590.75" stroke="#000" stroke-width="1"/>
<path d="M244.15 1467.23V1460.66M240.65 1460.66H247.65" stroke="#000" stroke-width="1.2" fill="none"/>
<rect x="257.29" y="1472.48" width="11.04" height="118.27" fill="#000" stroke="#000" stroke-width="1.2"/>
<path d="M258.59 1586.35H267.03M258.59 1580.73H267.03M258.59 1575.11H267.03M258.59 1569.49H267.03M258.59 1563.87H267.03M258.59 1558.25H267.03M258.59 1552.63H267.03M258.59 1547.01H267.03M258.59 1541.39H267.03M258.59 1535.77H267.03M258.59 1530.15H267.03M258.59 1524.53H267.03M258.59 1518.91H267.03M258.59 1513.29H267.03M258.59 1507.67H267.03M258.59 1502.05H267.03M258.59 1496.43H267.03M258.59 1490.81H267.03M258.59 1485.19H267.03M258.59 1479.57H267.03" stroke="#d8d8d8" stroke-width="1.5"/>
<path d="M262.81 1472.48V1462.5M259.31 1462.5H266.31" stroke="#000" stroke-width="1.2" fill="none"/>
<rect x="288.04" y="1569.46" width="10.78" height="21.29" fill="#fff" stroke="#000" stroke-width="1.2"/>
<path d="M293.43 1569.46V1564.99M289.93 1564.99H296.93" stroke="#000" stroke-width="1.2" fill="none"/>
<rect x="306.44" y="1572.88" width="11.04" height="17.87" fill="#000" stroke="#000" stroke-width="1.2"/>
<path d="M311.96 1572.88V1568.94M308.46 1568.94H315.46" stroke="#000" stroke-width="1.2" fill="none"/>
<rect x="325.1" y="1553.17" width="11.04" height="37.58" fill="#fff" stroke="#000" stroke-width="1.2"/>
<path d="M328.78 1553.17V1590.75M332.46 1553.17V1590.75" stroke="#000" stroke-width="1"/>
<path d="M330.62 1553.17V1547.12M327.12 1547.12H334.12" stroke="#000" stroke-width="1.2" fill="none"/>
<rect x="343.76" y="1545.28" width="11.04" height="45.47" fill="#000" stroke="#000" stroke-width="1.2"/>
<path d="M345.06 1586.35H353.5M345.06 1580.73H353.5M345.06 1575.11H353.5M345.06 1569.49H353.5M345.06 1563.87H353.5M345.06 1558.25H353.5M345.06 1552.63H353.5" stroke="#d8d8d8" stroke-width="1.5"/>
<path d="M349.28 1545.28V1541.34M345.78 1541.34H352.78" stroke="#000" stroke-width="1.2" fill="none"/>
<path d="M105.12 1407.31V1590.75H365.31" stroke="#000" stroke-width="1.3" fill="none"/>
<path d="M100.12 1590.75H105.12" stroke="#000" stroke-width="1.3"/>
<text x="99.12" y="1598.05" font-size="20.5" text-anchor="end" font-weight="normal" fill="#000" >0</text>
<path d="M100.12 1544.89H105.12" stroke="#000" stroke-width="1.3"/>
<text x="99.12" y="1552.19" font-size="20.5" text-anchor="end" font-weight="normal" fill="#000" >20</text>
<path d="M100.12 1499.03H105.12" stroke="#000" stroke-width="1.3"/>
<text x="99.12" y="1506.33" font-size="20.5" text-anchor="end" font-weight="normal" fill="#000" >40</text>
<path d="M100.12 1453.17H105.12" stroke="#000" stroke-width="1.3"/>
<text x="99.12" y="1460.47" font-size="20.5" text-anchor="end" font-weight="normal" fill="#000" >60</text>
<path d="M100.12 1407.31H105.12" stroke="#000" stroke-width="1.3"/>
<text x="99.12" y="1414.61" font-size="20.5" text-anchor="end" font-weight="normal" fill="#000" >80</text>
<path d="M147.96 1590.75V1595.75" stroke="#000" stroke-width="1.3"/>
<path d="M234.69 1590.75V1595.75" stroke="#000" stroke-width="1.3"/>
<path d="M320.89 1590.75V1595.75" stroke="#000" stroke-width="1.3"/>
<circle cx="120.37" cy="1543.18" r="3.7" fill="#fff" stroke="#000" stroke-width="1.25"/>
<circle cx="118.27" cy="1551.85" r="3.7" fill="#fff" stroke="#000" stroke-width="1.25"/>
<circle cx="122.21" cy="1558.42" r="3.7" fill="#fff" stroke="#000" stroke-width="1.25"/>
<rect x="133.16" y="1545.72" width="7" height="7" fill="#fff" stroke="#000" stroke-width="1.25"/>
<rect x="137.1" y="1550.98" width="7" height="7" fill="#fff" stroke="#000" stroke-width="1.25"/>
<polygon points="157.69,1525.23 161.79,1532.61 153.59,1532.61" fill="#fff" stroke="#000" stroke-width="1.25" stroke-linejoin="miter"/>
<polygon points="157.69,1532.59 161.79,1539.97 153.59,1539.97" fill="#fff" stroke="#000" stroke-width="1.25" stroke-linejoin="miter"/>
<polygon points="156.37,1544.94 160.47,1552.32 152.27,1552.32" fill="#fff" stroke="#000" stroke-width="1.25" stroke-linejoin="miter"/>
<polygon points="157.69,1552.3 161.79,1559.68 153.59,1559.68" fill="#fff" stroke="#000" stroke-width="1.25" stroke-linejoin="miter"/>
<polygon points="159,1554.67 163.1,1562.05 154.9,1562.05" fill="#fff" stroke="#000" stroke-width="1.25" stroke-linejoin="miter"/>
<polygon points="173.46,1532.48 177.56,1525.1 169.36,1525.1" fill="#fff" stroke="#000" stroke-width="1.25" stroke-linejoin="miter"/>
<polygon points="178.19,1532.48 182.29,1525.1 174.09,1525.1" fill="#fff" stroke="#000" stroke-width="1.25" stroke-linejoin="miter"/>
<polygon points="176.08,1535.11 180.18,1527.73 171.98,1527.73" fill="#fff" stroke="#000" stroke-width="1.25" stroke-linejoin="miter"/>
<polygon points="176.08,1548.25 180.18,1540.87 171.98,1540.87" fill="#fff" stroke="#000" stroke-width="1.25" stroke-linejoin="miter"/>
<circle cx="206.83" cy="1490.88" r="3.7" fill="#fff" stroke="#000" stroke-width="1.25"/>
<circle cx="206.83" cy="1525.05" r="3.7" fill="#fff" stroke="#000" stroke-width="1.25"/>
<circle cx="206.83" cy="1534.77" r="3.7" fill="#fff" stroke="#000" stroke-width="1.25"/>
<circle cx="208.41" cy="1543.97" r="3.7" fill="#fff" stroke="#000" stroke-width="1.25"/>
<rect x="221.99" y="1504.2" width="7" height="7" fill="#fff" stroke="#000" stroke-width="1.25"/>
<rect x="220.68" y="1535.74" width="7" height="7" fill="#fff" stroke="#000" stroke-width="1.25"/>
<rect x="223.04" y="1542.31" width="7" height="7" fill="#fff" stroke="#000" stroke-width="1.25"/>
<polygon points="244.15,1439.03 248.25,1446.41 240.05,1446.41" fill="#fff" stroke="#000" stroke-width="1.25" stroke-linejoin="miter"/>
<polygon points="242.31,1450.86 246.41,1458.24 238.21,1458.24" fill="#fff" stroke="#000" stroke-width="1.25" stroke-linejoin="miter"/>
<polygon points="245.99,1456.9 250.09,1464.28 241.89,1464.28" fill="#fff" stroke="#000" stroke-width="1.25" stroke-linejoin="miter"/>
<polygon points="244.15,1465.58 248.25,1472.96 240.05,1472.96" fill="#fff" stroke="#000" stroke-width="1.25" stroke-linejoin="miter"/>
<polygon points="244.15,1471.36 248.25,1478.74 240.05,1478.74" fill="#fff" stroke="#000" stroke-width="1.25" stroke-linejoin="miter"/>
<polygon points="244.15,1497.11 248.25,1504.49 240.05,1504.49" fill="#fff" stroke="#000" stroke-width="1.25" stroke-linejoin="miter"/>
<polygon points="260.71,1450.22 264.81,1442.84 256.61,1442.84" fill="#fff" stroke="#000" stroke-width="1.25" stroke-linejoin="miter"/>
<polygon points="262.81,1451.01 266.91,1443.63 258.71,1443.63" fill="#fff" stroke="#000" stroke-width="1.25" stroke-linejoin="miter"/>
<polygon points="262.81,1462.83 266.91,1455.45 258.71,1455.45" fill="#fff" stroke="#000" stroke-width="1.25" stroke-linejoin="miter"/>
<polygon points="260.71,1464.67 264.81,1457.29 256.61,1457.29" fill="#fff" stroke="#000" stroke-width="1.25" stroke-linejoin="miter"/>
<polygon points="262.81,1478.08 266.91,1470.7 258.71,1470.7" fill="#fff" stroke="#000" stroke-width="1.25" stroke-linejoin="miter"/>
<polygon points="262.81,1491.74 266.91,1484.36 258.71,1484.36" fill="#fff" stroke="#000" stroke-width="1.25" stroke-linejoin="miter"/>
<polygon points="262.81,1529.85 266.91,1522.47 258.71,1522.47" fill="#fff" stroke="#000" stroke-width="1.25" stroke-linejoin="miter"/>
<circle cx="294.35" cy="1557.9" r="3.7" fill="#fff" stroke="#000" stroke-width="1.25"/>
<circle cx="292.25" cy="1569.46" r="3.7" fill="#fff" stroke="#000" stroke-width="1.25"/>
<circle cx="294.88" cy="1576.82" r="3.7" fill="#fff" stroke="#000" stroke-width="1.25"/>
<rect x="306.62" y="1564.65" width="7" height="7" fill="#fff" stroke="#000" stroke-width="1.25"/>
<rect x="308.46" y="1570.69" width="7" height="7" fill="#fff" stroke="#000" stroke-width="1.25"/>
<rect x="309.25" y="1572.53" width="7" height="7" fill="#fff" stroke="#000" stroke-width="1.25"/>
<polygon points="330.62,1537.06 334.72,1544.44 326.52,1544.44" fill="#fff" stroke="#000" stroke-width="1.25" stroke-linejoin="miter"/>
<polygon points="329.04,1550.2 333.14,1557.58 324.94,1557.58" fill="#fff" stroke="#000" stroke-width="1.25" stroke-linejoin="miter"/>
<polygon points="331.14,1556.77 335.24,1564.15 327.04,1564.15" fill="#fff" stroke="#000" stroke-width="1.25" stroke-linejoin="miter"/>
<polygon points="332.46,1559.4 336.56,1566.78 328.36,1566.78" fill="#fff" stroke="#000" stroke-width="1.25" stroke-linejoin="miter"/>
<polygon points="349.28,1541.15 353.38,1533.77 345.18,1533.77" fill="#fff" stroke="#000" stroke-width="1.25" stroke-linejoin="miter"/>
<polygon points="347.44,1548.25 351.54,1540.87 343.34,1540.87" fill="#fff" stroke="#000" stroke-width="1.25" stroke-linejoin="miter"/>
<polygon points="351.12,1552.72 355.22,1545.34 347.02,1545.34" fill="#fff" stroke="#000" stroke-width="1.25" stroke-linejoin="miter"/>
<path d="M206.83 1475.64V1425.18H245.73V1431.48" stroke="#000" stroke-width="1" fill="none"/>
<text x="226.28" y="1429.18" font-size="17" text-anchor="middle" font-weight="normal" fill="#000" >**</text>
<path d="M224.18 1409.93V1396.01H261.5V1429.65" stroke="#000" stroke-width="1" fill="none"/>
<text x="242.84" y="1400.01" font-size="17" text-anchor="middle" font-weight="normal" fill="#000" >**</text>
<path d="M293.04 1549.22V1520.32H330.88V1530.83" stroke="#000" stroke-width="1" fill="none"/>
<text x="311.96" y="1524.32" font-size="17" text-anchor="middle" font-weight="normal" fill="#000" >*</text>
<path d="M310.38 1498.76V1489.3H349.8V1530.83" stroke="#000" stroke-width="1" fill="none"/>
<text x="330.09" y="1493.3" font-size="17" text-anchor="middle" font-weight="normal" fill="#000" >**</text>
<text transform="translate(52.6,1494.6) rotate(-90)" x="0" y="0" font-size="21" text-anchor="middle" dominant-baseline="central">% of CD8<tspan font-size="14" dy="-9">+</tspan><tspan dy="9"> cells</tspan></text>
<text transform="translate(152.96,1613.47) rotate(-45)" font-size="20.5" text-anchor="end">TNF-<tspan font-family="Liberation Serif, serif" font-style="italic" font-size="22">α</tspan><tspan font-size="14" dy="-12">+</tspan></text>
<text transform="translate(239.69,1613.47) rotate(-45)" font-size="20.5" text-anchor="end">IFN-<tspan font-family="Liberation Serif, serif" font-style="italic" font-size="22">γ</tspan><tspan font-size="14" dy="-12">+</tspan></text>
<text transform="translate(325.89,1613.47) rotate(-45)" font-size="20.5" text-anchor="end">TNF-<tspan font-family="Liberation Serif, serif" font-style="italic" font-size="22">α</tspan><tspan font-size="14" dy="-12">+</tspan><tspan dy="12"> IFN-<tspan font-family="Liberation Serif, serif" font-style="italic" font-size="22">γ</tspan></tspan><tspan font-size="14" dy="-12">+</tspan></text>
</g>
<g>
<rect x="499.58" y="1495.35" width="17.08" height="93.3" fill="#fff" stroke="#000" stroke-width="1.2"/>
<path d="M508.12 1495.35V1489.57M503.85 1489.57H512.39" stroke="#000" stroke-width="1.2" fill="none"/>
<rect x="527.44" y="1497.45" width="17.35" height="91.2" fill="#000" stroke="#000" stroke-width="1.2"/>
<path d="M536.11 1497.45V1494.56M531.77 1494.56H540.45" stroke="#000" stroke-width="1.2" fill="none"/>
<rect x="555.3" y="1480.89" width="17.35" height="107.75" fill="#fff" stroke="#000" stroke-width="1.2"/>
<path d="M561.08 1480.89V1588.65M566.86 1480.89V1588.65" stroke="#000" stroke-width="1"/>
<path d="M563.97 1480.89V1472.48M559.63 1472.48H568.3" stroke="#000" stroke-width="1.2" fill="none"/>
<rect x="583.42" y="1464.07" width="17.35" height="124.57" fill="#000" stroke="#000" stroke-width="1.2"/>
<path d="M584.72 1584.25H599.46M584.72 1578.63H599.46M584.72 1573.01H599.46M584.72 1567.39H599.46M584.72 1561.77H599.46M584.72 1556.15H599.46M584.72 1550.53H599.46M584.72 1544.91H599.46M584.72 1539.29H599.46M584.72 1533.67H599.46M584.72 1528.05H599.46M584.72 1522.43H599.46M584.72 1516.81H599.46M584.72 1511.19H599.46M584.72 1505.57H599.46M584.72 1499.95H599.46M584.72 1494.33H599.46M584.72 1488.71H599.46M584.72 1483.09H599.46M584.72 1477.47H599.46M584.72 1471.85H599.46" stroke="#d8d8d8" stroke-width="1.5"/>
<path d="M592.09 1464.07V1453.3M587.75 1453.3H596.43" stroke="#000" stroke-width="1.2" fill="none"/>
<rect x="629.67" y="1495.35" width="17.61" height="93.3" fill="#fff" stroke="#000" stroke-width="1.2"/>
<path d="M638.48 1495.35V1473.53M634.07 1473.53H642.88" stroke="#000" stroke-width="1.2" fill="none"/>
<rect x="657.79" y="1509.8" width="17.35" height="78.84" fill="#000" stroke="#000" stroke-width="1.2"/>
<path d="M666.47 1509.8V1497.19M662.13 1497.19H670.8" stroke="#000" stroke-width="1.2" fill="none"/>
<rect x="685.65" y="1509.8" width="17.61" height="78.84" fill="#fff" stroke="#000" stroke-width="1.2"/>
<path d="M691.52 1509.8V1588.65M697.39 1509.8V1588.65" stroke="#000" stroke-width="1"/>
<path d="M694.45 1509.8V1497.19M690.05 1497.19H698.86" stroke="#000" stroke-width="1.2" fill="none"/>
<rect x="714.03" y="1478.79" width="17.35" height="109.86" fill="#000" stroke="#000" stroke-width="1.2"/>
<path d="M715.33 1584.25H730.08M715.33 1578.63H730.08M715.33 1573.01H730.08M715.33 1567.39H730.08M715.33 1561.77H730.08M715.33 1556.15H730.08M715.33 1550.53H730.08M715.33 1544.91H730.08M715.33 1539.29H730.08M715.33 1533.67H730.08M715.33 1528.05H730.08M715.33 1522.43H730.08M715.33 1516.81H730.08M715.33 1511.19H730.08M715.33 1505.57H730.08M715.33 1499.95H730.08M715.33 1494.33H730.08M715.33 1488.71H730.08M715.33 1483.09H730.08" stroke="#d8d8d8" stroke-width="1.5"/>
<path d="M722.71 1478.79V1459.87M718.37 1459.87H727.04" stroke="#000" stroke-width="1.2" fill="none"/>
<path d="M484.6 1400.21V1588.65H746.62" stroke="#000" stroke-width="1.3" fill="none"/>
<path d="M479.6 1588.65H484.6" stroke="#000" stroke-width="1.3"/>
<text x="478.6" y="1595.95" font-size="20.5" text-anchor="end" font-weight="normal" fill="#000" >0.0</text>
<path d="M479.6 1541.54H484.6" stroke="#000" stroke-width="1.3"/>
<text x="478.6" y="1548.84" font-size="20.5" text-anchor="end" font-weight="normal" fill="#000" >0.5</text>
<path d="M479.6 1494.43H484.6" stroke="#000" stroke-width="1.3"/>
<text x="478.6" y="1501.73" font-size="20.5" text-anchor="end" font-weight="normal" fill="#000" >1.0</text>
<path d="M479.6 1447.32H484.6" stroke="#000" stroke-width="1.3"/>
<text x="478.6" y="1454.62" font-size="20.5" text-anchor="end" font-weight="normal" fill="#000" >1.5</text>
<path d="M479.6 1400.21H484.6" stroke="#000" stroke-width="1.3"/>
<text x="478.6" y="1407.51" font-size="20.5" text-anchor="end" font-weight="normal" fill="#000" >2.0</text>
<path d="M549.78 1588.65V1593.65" stroke="#000" stroke-width="1.3"/>
<path d="M680.39 1588.65V1593.65" stroke="#000" stroke-width="1.3"/>
<circle cx="507.99" cy="1482.73" r="3.7" fill="#fff" stroke="#000" stroke-width="1.25"/>
<circle cx="503" cy="1494.82" r="3.7" fill="#fff" stroke="#000" stroke-width="1.25"/>
<circle cx="507.99" cy="1494.82" r="3.7" fill="#fff" stroke="#000" stroke-width="1.25"/>
<circle cx="512.72" cy="1506.39" r="3.7" fill="#fff" stroke="#000" stroke-width="1.25"/>
<rect x="527.88" y="1490.53" width="7" height="7" fill="#fff" stroke="#000" stroke-width="1.25"/>
<rect x="532.61" y="1493.16" width="7" height="7" fill="#fff" stroke="#000" stroke-width="1.25"/>
<rect x="537.34" y="1497.63" width="7" height="7" fill="#fff" stroke="#000" stroke-width="1.25"/>
<polygon points="563.97,1447.18 568.07,1454.56 559.87,1454.56" fill="#fff" stroke="#000" stroke-width="1.25" stroke-linejoin="miter"/>
<polygon points="563.97,1460.84 568.07,1468.22 559.87,1468.22" fill="#fff" stroke="#000" stroke-width="1.25" stroke-linejoin="miter"/>
<polygon points="559.76,1481.34 563.86,1488.72 555.66,1488.72" fill="#fff" stroke="#000" stroke-width="1.25" stroke-linejoin="miter"/>
<polygon points="568.7,1481.34 572.8,1488.72 564.6,1488.72" fill="#fff" stroke="#000" stroke-width="1.25" stroke-linejoin="miter"/>
<polygon points="559.76,1491.59 563.86,1498.97 555.66,1498.97" fill="#fff" stroke="#000" stroke-width="1.25" stroke-linejoin="miter"/>
<polygon points="568.7,1494.22 572.8,1501.6 564.6,1501.6" fill="#fff" stroke="#000" stroke-width="1.25" stroke-linejoin="miter"/>
<polygon points="587.62,1456.79 591.72,1449.41 583.52,1449.41" fill="#fff" stroke="#000" stroke-width="1.25" stroke-linejoin="miter"/>
<polygon points="596.29,1458.89 600.39,1451.51 592.19,1451.51" fill="#fff" stroke="#000" stroke-width="1.25" stroke-linejoin="miter"/>
<polygon points="592.09,1485.17 596.19,1477.79 587.99,1477.79" fill="#fff" stroke="#000" stroke-width="1.25" stroke-linejoin="miter"/>
<circle cx="638.61" cy="1434.9" r="3.7" fill="#fff" stroke="#000" stroke-width="1.25"/>
<circle cx="638.61" cy="1495.35" r="3.7" fill="#fff" stroke="#000" stroke-width="1.25"/>
<circle cx="638.61" cy="1518.48" r="3.7" fill="#fff" stroke="#000" stroke-width="1.25"/>
<circle cx="638.61" cy="1530.3" r="3.7" fill="#fff" stroke="#000" stroke-width="1.25"/>
<rect x="662.97" y="1483.18" width="7" height="7" fill="#fff" stroke="#000" stroke-width="1.25"/>
<rect x="658.5" y="1511.56" width="7" height="7" fill="#fff" stroke="#000" stroke-width="1.25"/>
<rect x="667.43" y="1521.55" width="7" height="7" fill="#fff" stroke="#000" stroke-width="1.25"/>
<polygon points="691.96,1471.36 696.06,1478.74 687.86,1478.74" fill="#fff" stroke="#000" stroke-width="1.25" stroke-linejoin="miter"/>
<polygon points="696.69,1467.41 700.79,1474.79 692.59,1474.79" fill="#fff" stroke="#000" stroke-width="1.25" stroke-linejoin="miter"/>
<polygon points="690.12,1515.51 694.22,1522.89 686.02,1522.89" fill="#fff" stroke="#000" stroke-width="1.25" stroke-linejoin="miter"/>
<polygon points="694.85,1516.56 698.95,1523.94 690.75,1523.94" fill="#fff" stroke="#000" stroke-width="1.25" stroke-linejoin="miter"/>
<polygon points="699.05,1522.08 703.15,1529.46 694.95,1529.46" fill="#fff" stroke="#000" stroke-width="1.25" stroke-linejoin="miter"/>
<polygon points="694.32,1538.37 698.42,1545.75 690.22,1545.75" fill="#fff" stroke="#000" stroke-width="1.25" stroke-linejoin="miter"/>
<polygon points="722.71,1420 726.81,1412.62 718.61,1412.62" fill="#fff" stroke="#000" stroke-width="1.25" stroke-linejoin="miter"/>
<polygon points="722.71,1432.09 726.81,1424.71 718.61,1424.71" fill="#fff" stroke="#000" stroke-width="1.25" stroke-linejoin="miter"/>
<polygon points="718.5,1467.57 722.6,1460.19 714.4,1460.19" fill="#fff" stroke="#000" stroke-width="1.25" stroke-linejoin="miter"/>
<polygon points="726.91,1475.98 731.01,1468.6 722.81,1468.6" fill="#fff" stroke="#000" stroke-width="1.25" stroke-linejoin="miter"/>
<polygon points="722.71,1502.78 726.81,1495.4 718.61,1495.4" fill="#fff" stroke="#000" stroke-width="1.25" stroke-linejoin="miter"/>
<polygon points="722.71,1515.4 726.81,1508.02 718.61,1508.02" fill="#fff" stroke="#000" stroke-width="1.25" stroke-linejoin="miter"/>
<polygon points="722.71,1558.76 726.81,1551.38 718.61,1551.38" fill="#fff" stroke="#000" stroke-width="1.25" stroke-linejoin="miter"/>
<text transform="translate(436.5,1491.4) rotate(-90)" x="0" y="0" font-size="21" text-anchor="middle" dominant-baseline="central">NORM MFI</text>
<text transform="translate(553.98,1608.36) rotate(-45)" font-size="20.5" text-anchor="end">TNF-<tspan font-family="Liberation Serif, serif" font-style="italic" font-size="22">α</tspan></text>
<text transform="translate(684.86,1608.36) rotate(-45)" font-size="20.5" text-anchor="end">IFN-<tspan font-family="Liberation Serif, serif" font-style="italic" font-size="22">γ</tspan></text>
</g>
<g>
<rect x="887.59" y="1467.87" width="11.24" height="120.6" fill="#fff" stroke="#000" stroke-width="1.2"/>
<path d="M893.21 1467.87V1464.87M889.71 1464.87H896.71" stroke="#000" stroke-width="1.2" fill="none"/>
<rect x="906.57" y="1454.88" width="11.24" height="133.58" fill="#000" stroke="#000" stroke-width="1.2"/>
<path d="M912.18 1454.88V1452.88M908.68 1452.88H915.68" stroke="#000" stroke-width="1.2" fill="none"/>
<rect x="925.29" y="1473.61" width="11.49" height="114.86" fill="#fff" stroke="#000" stroke-width="1.2"/>
<path d="M929.12 1473.61V1588.46M932.95 1473.61V1588.46" stroke="#000" stroke-width="1"/>
<path d="M931.04 1473.61V1459.38M927.54 1459.38H934.54" stroke="#000" stroke-width="1.2" fill="none"/>
<rect x="944.52" y="1512.31" width="11.24" height="76.15" fill="#000" stroke="#000" stroke-width="1.2"/>
<path d="M945.82 1584.06H954.46M945.82 1578.44H954.46M945.82 1572.82H954.46M945.82 1567.2H954.46M945.82 1561.58H954.46M945.82 1555.96H954.46M945.82 1550.34H954.46M945.82 1544.72H954.46M945.82 1539.1H954.46M945.82 1533.48H954.46M945.82 1527.86H954.46M945.82 1522.24H954.46M945.82 1516.62H954.46" stroke="#d8d8d8" stroke-width="1.5"/>
<path d="M950.14 1512.31V1507.32M946.64 1507.32H953.64" stroke="#000" stroke-width="1.2" fill="none"/>
<rect x="975.73" y="1543.52" width="11.49" height="44.94" fill="#fff" stroke="#000" stroke-width="1.2"/>
<path d="M981.47 1543.52V1534.78M977.97 1534.78H984.97" stroke="#000" stroke-width="1.2" fill="none"/>
<rect x="994.71" y="1553.01" width="11.24" height="35.46" fill="#000" stroke="#000" stroke-width="1.2"/>
<path d="M1000.32 1553.01V1546.02M996.82 1546.02H1003.82" stroke="#000" stroke-width="1.2" fill="none"/>
<rect x="1013.68" y="1502.82" width="11.24" height="85.64" fill="#fff" stroke="#000" stroke-width="1.2"/>
<path d="M1017.43 1502.82V1588.46M1021.17 1502.82V1588.46" stroke="#000" stroke-width="1"/>
<path d="M1019.3 1502.82V1484.84M1015.8 1484.84H1022.8" stroke="#000" stroke-width="1.2" fill="none"/>
<rect x="1032.91" y="1509.31" width="11.24" height="79.15" fill="#000" stroke="#000" stroke-width="1.2"/>
<path d="M1034.21 1584.06H1042.84M1034.21 1578.44H1042.84M1034.21 1572.82H1042.84M1034.21 1567.2H1042.84M1034.21 1561.58H1042.84M1034.21 1555.96H1042.84M1034.21 1550.34H1042.84M1034.21 1544.72H1042.84M1034.21 1539.1H1042.84M1034.21 1533.48H1042.84M1034.21 1527.86H1042.84M1034.21 1522.24H1042.84M1034.21 1516.62H1042.84" stroke="#d8d8d8" stroke-width="1.5"/>
<path d="M1038.53 1509.31V1496.83M1035.03 1496.83H1042.03" stroke="#000" stroke-width="1.2" fill="none"/>
<rect x="1064.12" y="1567.24" width="11.49" height="21.22" fill="#fff" stroke="#000" stroke-width="1.2"/>
<path d="M1069.86 1567.24V1562.25M1066.36 1562.25H1073.36" stroke="#000" stroke-width="1.2" fill="none"/>
<rect x="1083.1" y="1570.99" width="11.24" height="17.48" fill="#000" stroke="#000" stroke-width="1.2"/>
<path d="M1088.71 1570.99V1568.49M1085.21 1568.49H1092.21" stroke="#000" stroke-width="1.2" fill="none"/>
<rect x="1102.07" y="1546.02" width="11.24" height="42.45" fill="#fff" stroke="#000" stroke-width="1.2"/>
<path d="M1105.82 1546.02V1588.46M1109.56 1546.02V1588.46" stroke="#000" stroke-width="1"/>
<path d="M1107.69 1546.02V1536.78M1104.19 1536.78H1111.19" stroke="#000" stroke-width="1.2" fill="none"/>
<rect x="1121.05" y="1550.26" width="11.24" height="38.2" fill="#000" stroke="#000" stroke-width="1.2"/>
<path d="M1122.35 1584.06H1130.98M1122.35 1578.44H1130.98M1122.35 1572.82H1130.98M1122.35 1567.2H1130.98M1122.35 1561.58H1130.98M1122.35 1555.96H1130.98" stroke="#d8d8d8" stroke-width="1.5"/>
<path d="M1126.67 1550.26V1538.53M1123.17 1538.53H1130.17" stroke="#000" stroke-width="1.2" fill="none"/>
<path d="M877.35 1403.2V1588.46H1140.02" stroke="#000" stroke-width="1.3" fill="none"/>
<path d="M872.35 1588.46H877.35" stroke="#000" stroke-width="1.3"/>
<text x="871.35" y="1595.76" font-size="20.5" text-anchor="end" font-weight="normal" fill="#000" >0</text>
<path d="M872.35 1551.41H877.35" stroke="#000" stroke-width="1.3"/>
<text x="871.35" y="1558.71" font-size="20.5" text-anchor="end" font-weight="normal" fill="#000" >10</text>
<path d="M872.35 1514.36H877.35" stroke="#000" stroke-width="1.3"/>
<text x="871.35" y="1521.66" font-size="20.5" text-anchor="end" font-weight="normal" fill="#000" >20</text>
<path d="M872.35 1477.3H877.35" stroke="#000" stroke-width="1.3"/>
<text x="871.35" y="1484.6" font-size="20.5" text-anchor="end" font-weight="normal" fill="#000" >30</text>
<path d="M872.35 1440.25H877.35" stroke="#000" stroke-width="1.3"/>
<text x="871.35" y="1447.55" font-size="20.5" text-anchor="end" font-weight="normal" fill="#000" >40</text>
<path d="M872.35 1403.2H877.35" stroke="#000" stroke-width="1.3"/>
<text x="871.35" y="1410.5" font-size="20.5" text-anchor="end" font-weight="normal" fill="#000" >50</text>
<path d="M921.3 1588.46V1593.46" stroke="#000" stroke-width="1.3"/>
<path d="M1009.69 1588.46V1593.46" stroke="#000" stroke-width="1.3"/>
<path d="M1098.08 1588.46V1593.46" stroke="#000" stroke-width="1.3"/>
<circle cx="893.33" cy="1458.63" r="3.7" fill="#fff" stroke="#000" stroke-width="1.25"/>
<circle cx="891.59" cy="1464.87" r="3.7" fill="#fff" stroke="#000" stroke-width="1.25"/>
<circle cx="893.33" cy="1468.61" r="3.7" fill="#fff" stroke="#000" stroke-width="1.25"/>
<circle cx="894.83" cy="1473.61" r="3.7" fill="#fff" stroke="#000" stroke-width="1.25"/>
<rect x="908.56" y="1440.64" width="7" height="7" fill="#fff" stroke="#000" stroke-width="1.25"/>
<rect x="907.06" y="1449.38" width="7" height="7" fill="#fff" stroke="#000" stroke-width="1.25"/>
<rect x="910.06" y="1459.62" width="7" height="7" fill="#fff" stroke="#000" stroke-width="1.25"/>
<polygon points="932.28,1433.12 936.38,1440.5 928.18,1440.5" fill="#fff" stroke="#000" stroke-width="1.25" stroke-linejoin="miter"/>
<polygon points="929.79,1440.61 933.89,1447.99 925.69,1447.99" fill="#fff" stroke="#000" stroke-width="1.25" stroke-linejoin="miter"/>
<polygon points="931.04,1458.84 935.14,1466.22 926.94,1466.22" fill="#fff" stroke="#000" stroke-width="1.25" stroke-linejoin="miter"/>
<polygon points="931.04,1473.82 935.14,1481.2 926.94,1481.2" fill="#fff" stroke="#000" stroke-width="1.25" stroke-linejoin="miter"/>
<polygon points="931.04,1487.31 935.14,1494.69 926.94,1494.69" fill="#fff" stroke="#000" stroke-width="1.25" stroke-linejoin="miter"/>
<polygon points="931.04,1519.76 935.14,1527.14 926.94,1527.14" fill="#fff" stroke="#000" stroke-width="1.25" stroke-linejoin="miter"/>
<polygon points="950.26,1509.85 954.36,1502.47 946.16,1502.47" fill="#fff" stroke="#000" stroke-width="1.25" stroke-linejoin="miter"/>
<polygon points="948.51,1513.59 952.61,1506.21 944.41,1506.21" fill="#fff" stroke="#000" stroke-width="1.25" stroke-linejoin="miter"/>
<polygon points="951.76,1522.08 955.86,1514.7 947.66,1514.7" fill="#fff" stroke="#000" stroke-width="1.25" stroke-linejoin="miter"/>
<circle cx="981.47" cy="1518.55" r="3.7" fill="#fff" stroke="#000" stroke-width="1.25"/>
<circle cx="979.73" cy="1547.27" r="3.7" fill="#fff" stroke="#000" stroke-width="1.25"/>
<circle cx="983.22" cy="1555.26" r="3.7" fill="#fff" stroke="#000" stroke-width="1.25"/>
<rect x="994.95" y="1538.77" width="7" height="7" fill="#fff" stroke="#000" stroke-width="1.25"/>
<rect x="998.2" y="1546.26" width="7" height="7" fill="#fff" stroke="#000" stroke-width="1.25"/>
<rect x="996.7" y="1561.24" width="7" height="7" fill="#fff" stroke="#000" stroke-width="1.25"/>
<polygon points="1019.43,1426.38 1023.53,1433.76 1015.33,1433.76" fill="#fff" stroke="#000" stroke-width="1.25" stroke-linejoin="miter"/>
<polygon points="1019.43,1468.08 1023.53,1475.46 1015.33,1475.46" fill="#fff" stroke="#000" stroke-width="1.25" stroke-linejoin="miter"/>
<polygon points="1017.68,1518.02 1021.78,1525.4 1013.58,1525.4" fill="#fff" stroke="#000" stroke-width="1.25" stroke-linejoin="miter"/>
<polygon points="1021.17,1520.51 1025.27,1527.89 1017.07,1527.89" fill="#fff" stroke="#000" stroke-width="1.25" stroke-linejoin="miter"/>
<polygon points="1017.68,1526.76 1021.78,1534.14 1013.58,1534.14" fill="#fff" stroke="#000" stroke-width="1.25" stroke-linejoin="miter"/>
<polygon points="1021.17,1531.75 1025.27,1539.13 1017.07,1539.13" fill="#fff" stroke="#000" stroke-width="1.25" stroke-linejoin="miter"/>
<polygon points="1038.4,1452.92 1042.5,1445.54 1034.3,1445.54" fill="#fff" stroke="#000" stroke-width="1.25" stroke-linejoin="miter"/>
<polygon points="1039.65,1497.86 1043.75,1490.48 1035.55,1490.48" fill="#fff" stroke="#000" stroke-width="1.25" stroke-linejoin="miter"/>
<polygon points="1036.65,1505.35 1040.75,1497.97 1032.55,1497.97" fill="#fff" stroke="#000" stroke-width="1.25" stroke-linejoin="miter"/>
<polygon points="1039.65,1525.33 1043.75,1517.95 1035.55,1517.95" fill="#fff" stroke="#000" stroke-width="1.25" stroke-linejoin="miter"/>
<polygon points="1038.4,1536.57 1042.5,1529.19 1034.3,1529.19" fill="#fff" stroke="#000" stroke-width="1.25" stroke-linejoin="miter"/>
<polygon points="1039.65,1542.81 1043.75,1535.43 1035.55,1535.43" fill="#fff" stroke="#000" stroke-width="1.25" stroke-linejoin="miter"/>
<circle cx="1069.86" cy="1555.51" r="3.7" fill="#fff" stroke="#000" stroke-width="1.25"/>
<circle cx="1068.11" cy="1567.24" r="3.7" fill="#fff" stroke="#000" stroke-width="1.25"/>
<circle cx="1071.61" cy="1573.48" r="3.7" fill="#fff" stroke="#000" stroke-width="1.25"/>
<rect x="1083.59" y="1561.74" width="7" height="7" fill="#fff" stroke="#000" stroke-width="1.25"/>
<rect x="1086.59" y="1566.24" width="7" height="7" fill="#fff" stroke="#000" stroke-width="1.25"/>
<rect x="1086.59" y="1571.23" width="7" height="7" fill="#fff" stroke="#000" stroke-width="1.25"/>
<polygon points="1107.57,1504.03 1111.67,1511.41 1103.47,1511.41" fill="#fff" stroke="#000" stroke-width="1.25" stroke-linejoin="miter"/>
<polygon points="1107.57,1526.26 1111.67,1533.64 1103.47,1533.64" fill="#fff" stroke="#000" stroke-width="1.25" stroke-linejoin="miter"/>
<polygon points="1107.57,1546.73 1111.67,1554.11 1103.47,1554.11" fill="#fff" stroke="#000" stroke-width="1.25" stroke-linejoin="miter"/>
<polygon points="1105.82,1555.47 1109.92,1562.85 1101.72,1562.85" fill="#fff" stroke="#000" stroke-width="1.25" stroke-linejoin="miter"/>
<polygon points="1109.06,1559.22 1113.16,1566.6 1104.96,1566.6" fill="#fff" stroke="#000" stroke-width="1.25" stroke-linejoin="miter"/>
<polygon points="1126.54,1532.07 1130.64,1524.69 1122.44,1524.69" fill="#fff" stroke="#000" stroke-width="1.25" stroke-linejoin="miter"/>
<polygon points="1125.04,1561.53 1129.14,1554.15 1120.94,1554.15" fill="#fff" stroke="#000" stroke-width="1.25" stroke-linejoin="miter"/>
<polygon points="1127.54,1569.02 1131.64,1561.64 1123.44,1561.64" fill="#fff" stroke="#000" stroke-width="1.25" stroke-linejoin="miter"/>
<path d="M910.31 1434.91V1425.67H951.01V1496.08" stroke="#000" stroke-width="1" fill="none"/>
<text x="930.66" y="1429.67" font-size="17" text-anchor="middle" font-weight="normal" fill="#000" >*</text>
<text transform="translate(821.2,1491) rotate(-90)" x="0" y="0" font-size="21" text-anchor="middle" dominant-baseline="central">% of CD4<tspan font-size="14" dy="-9">+</tspan><tspan dy="9"> cells</tspan></text>
<text transform="translate(926.3,1612.2) rotate(-45)" font-size="20.5" text-anchor="end">TNF-<tspan font-family="Liberation Serif, serif" font-style="italic" font-size="22">α</tspan><tspan font-size="14" dy="-12">+</tspan></text>
<text transform="translate(1014.69,1612.2) rotate(-45)" font-size="20.5" text-anchor="end">IFN-<tspan font-family="Liberation Serif, serif" font-style="italic" font-size="22">γ</tspan><tspan font-size="14" dy="-12">+</tspan></text>
<text transform="translate(1103.08,1612.2) rotate(-45)" font-size="20.5" text-anchor="end">TNF-<tspan font-family="Liberation Serif, serif" font-style="italic" font-size="22">α</tspan><tspan font-size="14" dy="-12">+</tspan><tspan dy="12"> IFN-<tspan font-family="Liberation Serif, serif" font-style="italic" font-size="22">γ</tspan></tspan><tspan font-size="14" dy="-12">+</tspan></text>
</g>
<g>
<rect x="1264.43" y="1526.88" width="18.03" height="60.26" fill="#fff" stroke="#000" stroke-width="1.2"/>
<path d="M1273.45 1526.88V1524.82M1268.94 1524.82H1277.95" stroke="#000" stroke-width="1.2" fill="none"/>
<rect x="1293.28" y="1524.05" width="18.03" height="63.1" fill="#000" stroke="#000" stroke-width="1.2"/>
<path d="M1302.29 1524.05V1521.73M1297.78 1521.73H1306.8" stroke="#000" stroke-width="1.2" fill="none"/>
<rect x="1322.12" y="1526.88" width="18.03" height="60.26" fill="#fff" stroke="#000" stroke-width="1.2"/>
<path d="M1328.13 1526.88V1587.14M1334.14 1526.88V1587.14" stroke="#000" stroke-width="1"/>
<path d="M1331.13 1526.88V1521.47M1326.63 1521.47H1335.64" stroke="#000" stroke-width="1.2" fill="none"/>
<rect x="1350.96" y="1532.55" width="18.03" height="54.6" fill="#000" stroke="#000" stroke-width="1.2"/>
<path d="M1352.26 1582.74H1367.69M1352.26 1577.12H1367.69M1352.26 1571.5H1367.69M1352.26 1565.88H1367.69M1352.26 1560.26H1367.69M1352.26 1554.64H1367.69M1352.26 1549.02H1367.69M1352.26 1543.4H1367.69M1352.26 1537.78H1367.69" stroke="#d8d8d8" stroke-width="1.5"/>
<path d="M1359.98 1532.55V1528.68M1355.47 1528.68H1364.48" stroke="#000" stroke-width="1.2" fill="none"/>
<rect x="1399.12" y="1526.88" width="18.03" height="60.26" fill="#fff" stroke="#000" stroke-width="1.2"/>
<path d="M1408.14 1526.88V1516.32M1403.63 1516.32H1412.64" stroke="#000" stroke-width="1.2" fill="none"/>
<rect x="1427.97" y="1539.76" width="17.77" height="47.39" fill="#000" stroke="#000" stroke-width="1.2"/>
<path d="M1436.85 1539.76V1532.55M1432.41 1532.55H1441.29" stroke="#000" stroke-width="1.2" fill="none"/>
<rect x="1456.55" y="1535.89" width="18.03" height="51.25" fill="#fff" stroke="#000" stroke-width="1.2"/>
<path d="M1462.56 1535.89V1587.14M1468.57 1535.89V1587.14" stroke="#000" stroke-width="1"/>
<path d="M1465.57 1535.89V1527.4M1461.06 1527.4H1470.07" stroke="#000" stroke-width="1.2" fill="none"/>
<rect x="1485.65" y="1508.6" width="18.03" height="78.55" fill="#000" stroke="#000" stroke-width="1.2"/>
<path d="M1486.95 1582.74H1502.38M1486.95 1577.12H1502.38M1486.95 1571.5H1502.38M1486.95 1565.88H1502.38M1486.95 1560.26H1502.38M1486.95 1554.64H1502.38M1486.95 1549.02H1502.38M1486.95 1543.4H1502.38M1486.95 1537.78H1502.38M1486.95 1532.16H1502.38M1486.95 1526.54H1502.38M1486.95 1520.92H1502.38M1486.95 1515.3H1502.38" stroke="#d8d8d8" stroke-width="1.5"/>
<path d="M1494.67 1508.6V1494.43M1490.16 1494.43H1499.17" stroke="#000" stroke-width="1.2" fill="none"/>
<path d="M1249.75 1404.3V1587.14H1520.16" stroke="#000" stroke-width="1.3" fill="none"/>
<path d="M1244.75 1587.14H1249.75" stroke="#000" stroke-width="1.3"/>
<text x="1243.75" y="1594.44" font-size="20.5" text-anchor="end" font-weight="normal" fill="#000" >0</text>
<path d="M1244.75 1526.19H1249.75" stroke="#000" stroke-width="1.3"/>
<text x="1243.75" y="1533.49" font-size="20.5" text-anchor="end" font-weight="normal" fill="#000" >1</text>
<path d="M1244.75 1465.25H1249.75" stroke="#000" stroke-width="1.3"/>
<text x="1243.75" y="1472.55" font-size="20.5" text-anchor="end" font-weight="normal" fill="#000" >2</text>
<path d="M1244.75 1404.3H1249.75" stroke="#000" stroke-width="1.3"/>
<text x="1243.75" y="1411.6" font-size="20.5" text-anchor="end" font-weight="normal" fill="#000" >3</text>
<path d="M1316.71 1587.14V1592.14" stroke="#000" stroke-width="1.3"/>
<path d="M1451.14 1587.14V1592.14" stroke="#000" stroke-width="1.3"/>
<circle cx="1268.55" cy="1522.25" r="3.7" fill="#fff" stroke="#000" stroke-width="1.25"/>
<circle cx="1272.16" cy="1523.53" r="3.7" fill="#fff" stroke="#000" stroke-width="1.25"/>
<circle cx="1274.22" cy="1529.97" r="3.7" fill="#fff" stroke="#000" stroke-width="1.25"/>
<circle cx="1278.08" cy="1530.49" r="3.7" fill="#fff" stroke="#000" stroke-width="1.25"/>
<rect x="1293.9" y="1515.4" width="7" height="7" fill="#fff" stroke="#000" stroke-width="1.25"/>
<rect x="1298.79" y="1520.55" width="7" height="7" fill="#fff" stroke="#000" stroke-width="1.25"/>
<rect x="1303.68" y="1524.41" width="7" height="7" fill="#fff" stroke="#000" stroke-width="1.25"/>
<polygon points="1330.36,1506.38 1334.46,1513.76 1326.26,1513.76" fill="#fff" stroke="#000" stroke-width="1.25" stroke-linejoin="miter"/>
<polygon points="1328.3,1510.24 1332.4,1517.62 1324.2,1517.62" fill="#fff" stroke="#000" stroke-width="1.25" stroke-linejoin="miter"/>
<polygon points="1333.45,1519.25 1337.55,1526.63 1329.35,1526.63" fill="#fff" stroke="#000" stroke-width="1.25" stroke-linejoin="miter"/>
<polygon points="1326.24,1530.84 1330.34,1538.22 1322.14,1538.22" fill="#fff" stroke="#000" stroke-width="1.25" stroke-linejoin="miter"/>
<polygon points="1331.39,1532.13 1335.49,1539.51 1327.29,1539.51" fill="#fff" stroke="#000" stroke-width="1.25" stroke-linejoin="miter"/>
<polygon points="1335.77,1535.99 1339.87,1543.37 1331.67,1543.37" fill="#fff" stroke="#000" stroke-width="1.25" stroke-linejoin="miter"/>
<polygon points="1355.34,1531.16 1359.44,1523.78 1351.24,1523.78" fill="#fff" stroke="#000" stroke-width="1.25" stroke-linejoin="miter"/>
<polygon points="1360.49,1534.25 1364.59,1526.87 1356.39,1526.87" fill="#fff" stroke="#000" stroke-width="1.25" stroke-linejoin="miter"/>
<polygon points="1364.87,1540.18 1368.97,1532.8 1360.77,1532.8" fill="#fff" stroke="#000" stroke-width="1.25" stroke-linejoin="miter"/>
<circle cx="1408.14" cy="1498.55" r="3.7" fill="#fff" stroke="#000" stroke-width="1.25"/>
<circle cx="1408.14" cy="1526.11" r="3.7" fill="#fff" stroke="#000" stroke-width="1.25"/>
<circle cx="1403.5" cy="1536.41" r="3.7" fill="#fff" stroke="#000" stroke-width="1.25"/>
<circle cx="1412.77" cy="1543.62" r="3.7" fill="#fff" stroke="#000" stroke-width="1.25"/>
<rect x="1433.22" y="1523.9" width="7" height="7" fill="#fff" stroke="#000" stroke-width="1.25"/>
<rect x="1433.22" y="1536" width="7" height="7" fill="#fff" stroke="#000" stroke-width="1.25"/>
<rect x="1433.22" y="1547.07" width="7" height="7" fill="#fff" stroke="#000" stroke-width="1.25"/>
<polygon points="1463.51,1510.24 1467.61,1517.62 1459.41,1517.62" fill="#fff" stroke="#000" stroke-width="1.25" stroke-linejoin="miter"/>
<polygon points="1468.14,1507.66 1472.24,1515.04 1464.04,1515.04" fill="#fff" stroke="#000" stroke-width="1.25" stroke-linejoin="miter"/>
<polygon points="1465.57,1527.75 1469.67,1535.13 1461.47,1535.13" fill="#fff" stroke="#000" stroke-width="1.25" stroke-linejoin="miter"/>
<polygon points="1460.41,1542.43 1464.51,1549.81 1456.31,1549.81" fill="#fff" stroke="#000" stroke-width="1.25" stroke-linejoin="miter"/>
<polygon points="1465.57,1546.29 1469.67,1553.67 1461.47,1553.67" fill="#fff" stroke="#000" stroke-width="1.25" stroke-linejoin="miter"/>
<polygon points="1470.2,1552.73 1474.3,1560.11 1466.1,1560.11" fill="#fff" stroke="#000" stroke-width="1.25" stroke-linejoin="miter"/>
<polygon points="1495.7,1467.81 1499.8,1460.43 1491.6,1460.43" fill="#fff" stroke="#000" stroke-width="1.25" stroke-linejoin="miter"/>
<polygon points="1495.7,1481.46 1499.8,1474.08 1491.6,1474.08" fill="#fff" stroke="#000" stroke-width="1.25" stroke-linejoin="miter"/>
<polygon points="1490.55,1494.33 1494.65,1486.95 1486.45,1486.95" fill="#fff" stroke="#000" stroke-width="1.25" stroke-linejoin="miter"/>
<polygon points="1500.33,1499.49 1504.43,1492.11 1496.23,1492.11" fill="#fff" stroke="#000" stroke-width="1.25" stroke-linejoin="miter"/>
<polygon points="1495.7,1537.34 1499.8,1529.96 1491.6,1529.96" fill="#fff" stroke="#000" stroke-width="1.25" stroke-linejoin="miter"/>
<polygon points="1490.55,1547.64 1494.65,1540.26 1486.45,1540.26" fill="#fff" stroke="#000" stroke-width="1.25" stroke-linejoin="miter"/>
<polygon points="1500.33,1553.57 1504.43,1546.19 1496.23,1546.19" fill="#fff" stroke="#000" stroke-width="1.25" stroke-linejoin="miter"/>
<text transform="translate(1195.7,1491.9) rotate(-90)" x="0" y="0" font-size="21" text-anchor="middle" dominant-baseline="central">NORM MFI</text>
<text transform="translate(1321.86,1606.72) rotate(-45)" font-size="20.5" text-anchor="end">TNF-<tspan font-family="Liberation Serif, serif" font-style="italic" font-size="22">α</tspan></text>
<text transform="translate(1456.55,1606.72) rotate(-45)" font-size="20.5" text-anchor="end">IFN-<tspan font-family="Liberation Serif, serif" font-style="italic" font-size="22">γ</tspan></text>
</g>
<g>
<rect x="118.79" y="2141.13" width="41.79" height="121.16" fill="#fff" stroke="#000" stroke-width="1.2"/>
<path d="M139.68 2141.13V2135.87M130.68 2135.87H148.68" stroke="#000" stroke-width="1.2" fill="none"/>
<rect x="183.97" y="2134.82" width="41.52" height="127.46" fill="#000" stroke="#000" stroke-width="1.2"/>
<path d="M204.73 2134.82V2129.3M195.73 2129.3H213.73" stroke="#000" stroke-width="1.2" fill="none"/>
<rect x="249.15" y="2141.39" width="41.79" height="120.89" fill="#fff" stroke="#000" stroke-width="1.2"/>
<path d="M255.12 2141.39V2262.29M261.09 2141.39V2262.29M267.05 2141.39V2262.29M273.02 2141.39V2262.29M278.99 2141.39V2262.29M284.96 2141.39V2262.29" stroke="#000" stroke-width="1"/>
<path d="M270.04 2141.39V2132.72M261.04 2132.72H279.04" stroke="#000" stroke-width="1.2" fill="none"/>
<rect x="314.59" y="2126.41" width="41.52" height="135.87" fill="#000" stroke="#000" stroke-width="1.2"/>
<path d="M315.89 2257.89H354.81M315.89 2252.27H354.81M315.89 2246.65H354.81M315.89 2241.03H354.81M315.89 2235.41H354.81M315.89 2229.79H354.81M315.89 2224.17H354.81M315.89 2218.55H354.81M315.89 2212.93H354.81M315.89 2207.31H354.81M315.89 2201.69H354.81M315.89 2196.07H354.81M315.89 2190.45H354.81M315.89 2184.83H354.81M315.89 2179.21H354.81M315.89 2173.59H354.81M315.89 2167.97H354.81M315.89 2162.35H354.81M315.89 2156.73H354.81M315.89 2151.11H354.81M315.89 2145.49H354.81M315.89 2139.87H354.81M315.89 2134.25H354.81" stroke="#d8d8d8" stroke-width="1.5"/>
<path d="M335.35 2126.41V2122.47M326.35 2122.47H344.35" stroke="#000" stroke-width="1.2" fill="none"/>
<path d="M107.23 2078.84V2262.29H368.46" stroke="#000" stroke-width="1.3" fill="none"/>
<path d="M102.23 2262.29H107.23" stroke="#000" stroke-width="1.3"/>
<text x="101.23" y="2269.59" font-size="20.5" text-anchor="end" font-weight="normal" fill="#000" >0.0</text>
<path d="M102.23 2201.14H107.23" stroke="#000" stroke-width="1.3"/>
<text x="101.23" y="2208.44" font-size="20.5" text-anchor="end" font-weight="normal" fill="#000" >0.5</text>
<path d="M102.23 2139.99H107.23" stroke="#000" stroke-width="1.3"/>
<text x="101.23" y="2147.29" font-size="20.5" text-anchor="end" font-weight="normal" fill="#000" >1.0</text>
<path d="M102.23 2078.84H107.23" stroke="#000" stroke-width="1.3"/>
<text x="101.23" y="2086.14" font-size="20.5" text-anchor="end" font-weight="normal" fill="#000" >1.5</text>
<path d="M139.55 2262.29V2267.29" stroke="#000" stroke-width="1.3"/>
<path d="M204.73 2262.29V2267.29" stroke="#000" stroke-width="1.3"/>
<path d="M269.91 2262.29V2267.29" stroke="#000" stroke-width="1.3"/>
<path d="M335.09 2262.29V2267.29" stroke="#000" stroke-width="1.3"/>
<circle cx="128.78" cy="2130.88" r="3.7" fill="#fff" stroke="#000" stroke-width="1.25"/>
<circle cx="150.33" cy="2133.51" r="3.7" fill="#fff" stroke="#000" stroke-width="1.25"/>
<circle cx="128.78" cy="2144.55" r="3.7" fill="#fff" stroke="#000" stroke-width="1.25"/>
<circle cx="150.33" cy="2151.91" r="3.7" fill="#fff" stroke="#000" stroke-width="1.25"/>
<rect x="201.23" y="2121.86" width="7" height="7" fill="#fff" stroke="#000" stroke-width="1.25"/>
<rect x="190.46" y="2131.32" width="7" height="7" fill="#fff" stroke="#000" stroke-width="1.25"/>
<rect x="212.01" y="2137.89" width="7" height="7" fill="#fff" stroke="#000" stroke-width="1.25"/>
<polygon points="269.91,2114.51 274.01,2121.89 265.81,2121.89" fill="#fff" stroke="#000" stroke-width="1.25" stroke-linejoin="miter"/>
<polygon points="255.45,2133.17 259.55,2140.55 251.35,2140.55" fill="#fff" stroke="#000" stroke-width="1.25" stroke-linejoin="miter"/>
<polygon points="269.91,2126.34 274.01,2133.72 265.81,2133.72" fill="#fff" stroke="#000" stroke-width="1.25" stroke-linejoin="miter"/>
<polygon points="269.91,2135.8 274.01,2143.18 265.81,2143.18" fill="#fff" stroke="#000" stroke-width="1.25" stroke-linejoin="miter"/>
<polygon points="284.36,2139.74 288.46,2147.12 280.26,2147.12" fill="#fff" stroke="#000" stroke-width="1.25" stroke-linejoin="miter"/>
<polygon points="269.91,2168.39 274.01,2175.77 265.81,2175.77" fill="#fff" stroke="#000" stroke-width="1.25" stroke-linejoin="miter"/>
<polygon points="320.63,2126.49 324.73,2119.11 316.53,2119.11" fill="#fff" stroke="#000" stroke-width="1.25" stroke-linejoin="miter"/>
<polygon points="335.09,2122.55 339.19,2115.17 330.99,2115.17" fill="#fff" stroke="#000" stroke-width="1.25" stroke-linejoin="miter"/>
<polygon points="335.09,2132.53 339.19,2125.15 330.99,2125.15" fill="#fff" stroke="#000" stroke-width="1.25" stroke-linejoin="miter"/>
<polygon points="349.54,2134.9 353.64,2127.52 345.44,2127.52" fill="#fff" stroke="#000" stroke-width="1.25" stroke-linejoin="miter"/>
<text transform="translate(52.6,2167.5) rotate(-90)" x="0" y="0" font-size="21" text-anchor="middle" dominant-baseline="central">NORM MFI FOXP3</text>
<text transform="translate(143.23,2273.32) rotate(-45)" font-size="20.5" text-anchor="end">WT 1Y</text>
<text transform="translate(208.41,2273.32) rotate(-45)" font-size="20.5" text-anchor="end">Optn<tspan font-size="14" dy="-9">470T</tspan><tspan dy="9"> 1Y</tspan></text>
<text transform="translate(273.59,2273.32) rotate(-45)" font-size="20.5" text-anchor="end">WT 2Y</text>
<text transform="translate(338.76,2273.32) rotate(-45)" font-size="20.5" text-anchor="end">Optn<tspan font-size="14" dy="-9">470T</tspan><tspan dy="9"> 2Y</tspan></text>
<text x="235.22" y="2056.5" font-size="25" text-anchor="middle">FOXP3<tspan font-size="15" dy="-10">+</tspan><tspan dy="10"> CD25</tspan><tspan font-size="15" dy="-10">+</tspan></text>
</g>
<g>
<rect x="494.32" y="2210.25" width="17.61" height="55.19" fill="#fff" stroke="#000" stroke-width="1.2"/>
<path d="M503.13 2210.25V2203.15M498.73 2203.15H507.53" stroke="#000" stroke-width="1.2" fill="none"/>
<rect x="522.71" y="2214.98" width="17.61" height="50.46" fill="#000" stroke="#000" stroke-width="1.2"/>
<path d="M531.51 2214.98V2203.15M527.11 2203.15H535.91" stroke="#000" stroke-width="1.2" fill="none"/>
<rect x="551.09" y="2182.13" width="17.35" height="83.31" fill="#fff" stroke="#000" stroke-width="1.2"/>
<path d="M556.87 2182.13V2265.44M562.65 2182.13V2265.44" stroke="#000" stroke-width="1"/>
<path d="M559.76 2182.13V2173.46M555.43 2173.46H564.1" stroke="#000" stroke-width="1.2" fill="none"/>
<rect x="579.47" y="2187.39" width="17.61" height="78.06" fill="#000" stroke="#000" stroke-width="1.2"/>
<path d="M580.77 2261.04H595.78M580.77 2255.42H595.78M580.77 2249.8H595.78M580.77 2244.18H595.78M580.77 2238.56H595.78M580.77 2232.94H595.78M580.77 2227.32H595.78M580.77 2221.7H595.78M580.77 2216.08H595.78M580.77 2210.46H595.78M580.77 2204.84H595.78M580.77 2199.22H595.78M580.77 2193.6H595.78" stroke="#d8d8d8" stroke-width="1.5"/>
<path d="M588.28 2187.39V2173.46M583.88 2173.46H592.68" stroke="#000" stroke-width="1.2" fill="none"/>
<rect x="626.52" y="2192.64" width="17.35" height="72.8" fill="#fff" stroke="#000" stroke-width="1.2"/>
<path d="M635.19 2192.64V2177.4M630.85 2177.4H639.53" stroke="#000" stroke-width="1.2" fill="none"/>
<rect x="654.64" y="2213.4" width="17.35" height="52.04" fill="#000" stroke="#000" stroke-width="1.2"/>
<path d="M663.31 2213.4V2198.95M658.98 2198.95H667.65" stroke="#000" stroke-width="1.2" fill="none"/>
<rect x="682.76" y="2161.63" width="17.35" height="103.81" fill="#fff" stroke="#000" stroke-width="1.2"/>
<path d="M688.54 2161.63V2265.44M694.32 2161.63V2265.44" stroke="#000" stroke-width="1"/>
<path d="M691.43 2161.63V2149.01M687.1 2149.01H695.77" stroke="#000" stroke-width="1.2" fill="none"/>
<rect x="711.14" y="2177.4" width="17.61" height="88.04" fill="#000" stroke="#000" stroke-width="1.2"/>
<path d="M712.44 2261.04H727.45M712.44 2255.42H727.45M712.44 2249.8H727.45M712.44 2244.18H727.45M712.44 2238.56H727.45M712.44 2232.94H727.45M712.44 2227.32H727.45M712.44 2221.7H727.45M712.44 2216.08H727.45M712.44 2210.46H727.45M712.44 2204.84H727.45M712.44 2199.22H727.45M712.44 2193.6H727.45M712.44 2187.98H727.45M712.44 2182.36H727.45" stroke="#d8d8d8" stroke-width="1.5"/>
<path d="M719.95 2177.4V2170.3M715.55 2170.3H724.35" stroke="#000" stroke-width="1.2" fill="none"/>
<path d="M484.6 2081.47V2265.44H739.53" stroke="#000" stroke-width="1.3" fill="none"/>
<path d="M479.6 2265.44H484.6" stroke="#000" stroke-width="1.3"/>
<text x="478.6" y="2272.74" font-size="20.5" text-anchor="end" font-weight="normal" fill="#000" >0</text>
<path d="M479.6 2219.45H484.6" stroke="#000" stroke-width="1.3"/>
<text x="478.6" y="2226.75" font-size="20.5" text-anchor="end" font-weight="normal" fill="#000" >5</text>
<path d="M479.6 2173.46H484.6" stroke="#000" stroke-width="1.3"/>
<text x="478.6" y="2180.76" font-size="20.5" text-anchor="end" font-weight="normal" fill="#000" >10</text>
<path d="M479.6 2127.46H484.6" stroke="#000" stroke-width="1.3"/>
<text x="478.6" y="2134.76" font-size="20.5" text-anchor="end" font-weight="normal" fill="#000" >15</text>
<path d="M479.6 2081.47H484.6" stroke="#000" stroke-width="1.3"/>
<text x="478.6" y="2088.77" font-size="20.5" text-anchor="end" font-weight="normal" fill="#000" >20</text>
<path d="M545.31 2265.44V2270.44" stroke="#000" stroke-width="1.3"/>
<path d="M677.5 2265.44V2270.44" stroke="#000" stroke-width="1.3"/>
<circle cx="503" cy="2197.63" r="3.7" fill="#fff" stroke="#000" stroke-width="1.25"/>
<circle cx="498.79" cy="2204.99" r="3.7" fill="#fff" stroke="#000" stroke-width="1.25"/>
<circle cx="507.73" cy="2209.46" r="3.7" fill="#fff" stroke="#000" stroke-width="1.25"/>
<circle cx="503" cy="2227.33" r="3.7" fill="#fff" stroke="#000" stroke-width="1.25"/>
<rect x="527.88" y="2190.19" width="7" height="7" fill="#fff" stroke="#000" stroke-width="1.25"/>
<rect x="527.88" y="2215.16" width="7" height="7" fill="#fff" stroke="#000" stroke-width="1.25"/>
<rect x="527.88" y="2227.77" width="7" height="7" fill="#fff" stroke="#000" stroke-width="1.25"/>
<polygon points="559.76,2139.48 563.86,2146.86 555.66,2146.86" fill="#fff" stroke="#000" stroke-width="1.25" stroke-linejoin="miter"/>
<polygon points="559.76,2164.44 563.86,2171.82 555.66,2171.82" fill="#fff" stroke="#000" stroke-width="1.25" stroke-linejoin="miter"/>
<polygon points="555.56,2185.47 559.66,2192.85 551.46,2192.85" fill="#fff" stroke="#000" stroke-width="1.25" stroke-linejoin="miter"/>
<polygon points="559.76,2189.41 563.86,2196.79 555.66,2196.79" fill="#fff" stroke="#000" stroke-width="1.25" stroke-linejoin="miter"/>
<polygon points="563.97,2195.46 568.07,2202.84 559.87,2202.84" fill="#fff" stroke="#000" stroke-width="1.25" stroke-linejoin="miter"/>
<polygon points="588.15,2165.12 592.25,2157.74 584.05,2157.74" fill="#fff" stroke="#000" stroke-width="1.25" stroke-linejoin="miter"/>
<polygon points="588.15,2195.61 592.25,2188.23 584.05,2188.23" fill="#fff" stroke="#000" stroke-width="1.25" stroke-linejoin="miter"/>
<polygon points="588.15,2210.59 592.25,2203.21 584.05,2203.21" fill="#fff" stroke="#000" stroke-width="1.25" stroke-linejoin="miter"/>
<circle cx="634.93" cy="2155.85" r="3.7" fill="#fff" stroke="#000" stroke-width="1.25"/>
<circle cx="630.2" cy="2189.75" r="3.7" fill="#fff" stroke="#000" stroke-width="1.25"/>
<circle cx="639.66" cy="2193.69" r="3.7" fill="#fff" stroke="#000" stroke-width="1.25"/>
<circle cx="634.93" cy="2228.12" r="3.7" fill="#fff" stroke="#000" stroke-width="1.25"/>
<rect x="659.81" y="2183.62" width="7" height="7" fill="#fff" stroke="#000" stroke-width="1.25"/>
<rect x="659.81" y="2211.48" width="7" height="7" fill="#fff" stroke="#000" stroke-width="1.25"/>
<rect x="659.81" y="2232.24" width="7" height="7" fill="#fff" stroke="#000" stroke-width="1.25"/>
<polygon points="691.43,2111.36 695.53,2118.74 687.33,2118.74" fill="#fff" stroke="#000" stroke-width="1.25" stroke-linejoin="miter"/>
<polygon points="691.43,2131.86 695.53,2139.24 687.33,2139.24" fill="#fff" stroke="#000" stroke-width="1.25" stroke-linejoin="miter"/>
<polygon points="686.96,2163.39 691.06,2170.77 682.86,2170.77" fill="#fff" stroke="#000" stroke-width="1.25" stroke-linejoin="miter"/>
<polygon points="695.64,2165.23 699.74,2172.61 691.54,2172.61" fill="#fff" stroke="#000" stroke-width="1.25" stroke-linejoin="miter"/>
<polygon points="691.43,2179.69 695.53,2187.07 687.33,2187.07" fill="#fff" stroke="#000" stroke-width="1.25" stroke-linejoin="miter"/>
<polygon points="691.43,2190.73 695.53,2198.11 687.33,2198.11" fill="#fff" stroke="#000" stroke-width="1.25" stroke-linejoin="miter"/>
<polygon points="715.35,2172.48 719.45,2165.1 711.25,2165.1" fill="#fff" stroke="#000" stroke-width="1.25" stroke-linejoin="miter"/>
<polygon points="724.28,2176.42 728.38,2169.04 720.18,2169.04" fill="#fff" stroke="#000" stroke-width="1.25" stroke-linejoin="miter"/>
<polygon points="720.08,2192.19 724.18,2184.81 715.98,2184.81" fill="#fff" stroke="#000" stroke-width="1.25" stroke-linejoin="miter"/>
<text transform="translate(437.3,2175.4) rotate(-90)" x="0" y="0" font-size="21" text-anchor="middle" dominant-baseline="central">% FOXP3<tspan font-size="13" dy="-9">+</tspan></text>
<text x="545.31" y="2289.88" font-size="20.5" text-anchor="middle" font-weight="normal" fill="#000" >CD25+</text>
<text x="677.5" y="2289.88" font-size="20.5" text-anchor="middle" font-weight="normal" fill="#000" >CD25-</text>
</g>
<g>
<rect x="897.14" y="2195.14" width="17.74" height="69.65" fill="#fff" stroke="#000" stroke-width="1.2"/>
<path d="M906.01 2195.14V2188.9M901.57 2188.9H910.44" stroke="#000" stroke-width="1.2" fill="none"/>
<rect x="925.39" y="2208.28" width="17.74" height="56.5" fill="#000" stroke="#000" stroke-width="1.2"/>
<path d="M934.26 2208.28V2197.11M929.82 2197.11H938.69" stroke="#000" stroke-width="1.2" fill="none"/>
<rect x="953.31" y="2212.88" width="18.07" height="51.91" fill="#fff" stroke="#000" stroke-width="1.2"/>
<path d="M959.33 2212.88V2264.78M965.36 2212.88V2264.78" stroke="#000" stroke-width="1"/>
<path d="M962.35 2212.88V2207.62M957.83 2207.62H966.86" stroke="#000" stroke-width="1.2" fill="none"/>
<rect x="981.56" y="2204.34" width="18.07" height="60.45" fill="#000" stroke="#000" stroke-width="1.2"/>
<path d="M982.86 2260.38H998.33M982.86 2254.76H998.33M982.86 2249.14H998.33M982.86 2243.52H998.33M982.86 2237.9H998.33M982.86 2232.28H998.33M982.86 2226.66H998.33M982.86 2221.04H998.33M982.86 2215.42H998.33M982.86 2209.8H998.33" stroke="#d8d8d8" stroke-width="1.5"/>
<path d="M990.6 2204.34V2189.88M986.08 2189.88H995.11" stroke="#000" stroke-width="1.2" fill="none"/>
<rect x="1028.87" y="2173.46" width="17.74" height="91.33" fill="#fff" stroke="#000" stroke-width="1.2"/>
<path d="M1037.74 2173.46V2155.39M1033.3 2155.39H1042.17" stroke="#000" stroke-width="1.2" fill="none"/>
<rect x="1057.12" y="2204.34" width="17.74" height="60.45" fill="#000" stroke="#000" stroke-width="1.2"/>
<path d="M1065.99 2204.34V2189.88M1061.56 2189.88H1070.43" stroke="#000" stroke-width="1.2" fill="none"/>
<rect x="1085.37" y="2198.09" width="18.07" height="66.69" fill="#fff" stroke="#000" stroke-width="1.2"/>
<path d="M1091.4 2198.09V2264.78M1097.42 2198.09V2264.78" stroke="#000" stroke-width="1"/>
<path d="M1094.41 2198.09V2192.18M1089.89 2192.18H1098.93" stroke="#000" stroke-width="1.2" fill="none"/>
<rect x="1113.63" y="2200.39" width="18.07" height="64.39" fill="#000" stroke="#000" stroke-width="1.2"/>
<path d="M1114.93 2260.38H1130.4M1114.93 2254.76H1130.4M1114.93 2249.14H1130.4M1114.93 2243.52H1130.4M1114.93 2237.9H1130.4M1114.93 2232.28H1130.4M1114.93 2226.66H1130.4M1114.93 2221.04H1130.4M1114.93 2215.42H1130.4M1114.93 2209.8H1130.4M1114.93 2204.18H1130.4" stroke="#d8d8d8" stroke-width="1.5"/>
<path d="M1122.66 2200.39V2192.18M1118.14 2192.18H1127.18" stroke="#000" stroke-width="1.2" fill="none"/>
<path d="M887.28 2080.81V2264.78H1141.88" stroke="#000" stroke-width="1.3" fill="none"/>
<path d="M882.28 2264.78H887.28" stroke="#000" stroke-width="1.3"/>
<text x="881.28" y="2272.08" font-size="20.5" text-anchor="end" font-weight="normal" fill="#000" >0.0</text>
<path d="M882.28 2203.46H887.28" stroke="#000" stroke-width="1.3"/>
<text x="881.28" y="2210.76" font-size="20.5" text-anchor="end" font-weight="normal" fill="#000" >0.5</text>
<path d="M882.28 2142.14H887.28" stroke="#000" stroke-width="1.3"/>
<text x="881.28" y="2149.44" font-size="20.5" text-anchor="end" font-weight="normal" fill="#000" >1.0</text>
<path d="M882.28 2080.81H887.28" stroke="#000" stroke-width="1.3"/>
<text x="881.28" y="2088.11" font-size="20.5" text-anchor="end" font-weight="normal" fill="#000" >1.5</text>
<path d="M948.38 2264.78V2269.78" stroke="#000" stroke-width="1.3"/>
<path d="M1080.45 2264.78V2269.78" stroke="#000" stroke-width="1.3"/>
<circle cx="906.01" cy="2179.04" r="3.7" fill="#fff" stroke="#000" stroke-width="1.25"/>
<circle cx="901.41" cy="2191.52" r="3.7" fill="#fff" stroke="#000" stroke-width="1.25"/>
<circle cx="910.6" cy="2191.52" r="3.7" fill="#fff" stroke="#000" stroke-width="1.25"/>
<circle cx="906.01" cy="2216.16" r="3.7" fill="#fff" stroke="#000" stroke-width="1.25"/>
<rect x="930.76" y="2188.02" width="7" height="7" fill="#fff" stroke="#000" stroke-width="1.25"/>
<rect x="930.76" y="2199.52" width="7" height="7" fill="#fff" stroke="#000" stroke-width="1.25"/>
<rect x="930.76" y="2224.82" width="7" height="7" fill="#fff" stroke="#000" stroke-width="1.25"/>
<polygon points="962.51,2187.24 966.61,2194.62 958.41,2194.62" fill="#fff" stroke="#000" stroke-width="1.25" stroke-linejoin="miter"/>
<polygon points="962.51,2199.4 966.61,2206.78 958.41,2206.78" fill="#fff" stroke="#000" stroke-width="1.25" stroke-linejoin="miter"/>
<polygon points="957.91,2210.9 962.01,2218.28 953.81,2218.28" fill="#fff" stroke="#000" stroke-width="1.25" stroke-linejoin="miter"/>
<polygon points="967.11,2210.9 971.21,2218.28 963.01,2218.28" fill="#fff" stroke="#000" stroke-width="1.25" stroke-linejoin="miter"/>
<polygon points="962.51,2224.69 966.61,2232.07 958.41,2232.07" fill="#fff" stroke="#000" stroke-width="1.25" stroke-linejoin="miter"/>
<polygon points="962.51,2212.54 966.61,2219.92 958.41,2219.92" fill="#fff" stroke="#000" stroke-width="1.25" stroke-linejoin="miter"/>
<polygon points="990.43,2183.32 994.53,2175.94 986.33,2175.94" fill="#fff" stroke="#000" stroke-width="1.25" stroke-linejoin="miter"/>
<polygon points="990.43,2207.96 994.53,2200.58 986.33,2200.58" fill="#fff" stroke="#000" stroke-width="1.25" stroke-linejoin="miter"/>
<polygon points="990.43,2230.96 994.53,2223.58 986.33,2223.58" fill="#fff" stroke="#000" stroke-width="1.25" stroke-linejoin="miter"/>
<circle cx="1037.74" cy="2130.42" r="3.7" fill="#fff" stroke="#000" stroke-width="1.25"/>
<circle cx="1037.74" cy="2167.54" r="3.7" fill="#fff" stroke="#000" stroke-width="1.25"/>
<circle cx="1037.74" cy="2216.16" r="3.7" fill="#fff" stroke="#000" stroke-width="1.25"/>
<rect x="1062.49" y="2175.54" width="7" height="7" fill="#fff" stroke="#000" stroke-width="1.25"/>
<rect x="1062.49" y="2200.18" width="7" height="7" fill="#fff" stroke="#000" stroke-width="1.25"/>
<rect x="1062.49" y="2224.82" width="7" height="7" fill="#fff" stroke="#000" stroke-width="1.25"/>
<polygon points="1094.24,2175.75 1098.34,2183.13 1090.14,2183.13" fill="#fff" stroke="#000" stroke-width="1.25" stroke-linejoin="miter"/>
<polygon points="1090.3,2186.92 1094.4,2194.3 1086.2,2194.3" fill="#fff" stroke="#000" stroke-width="1.25" stroke-linejoin="miter"/>
<polygon points="1098.19,2186.92 1102.29,2194.3 1094.09,2194.3" fill="#fff" stroke="#000" stroke-width="1.25" stroke-linejoin="miter"/>
<polygon points="1090.3,2211.55 1094.4,2218.93 1086.2,2218.93" fill="#fff" stroke="#000" stroke-width="1.25" stroke-linejoin="miter"/>
<polygon points="1098.19,2211.55 1102.29,2218.93 1094.09,2218.93" fill="#fff" stroke="#000" stroke-width="1.25" stroke-linejoin="miter"/>
<polygon points="1094.24,2189.54 1098.34,2196.92 1090.14,2196.92" fill="#fff" stroke="#000" stroke-width="1.25" stroke-linejoin="miter"/>
<polygon points="1118.23,2194.82 1122.33,2187.44 1114.13,2187.44" fill="#fff" stroke="#000" stroke-width="1.25" stroke-linejoin="miter"/>
<polygon points="1126.77,2194.82 1130.87,2187.44 1122.67,2187.44" fill="#fff" stroke="#000" stroke-width="1.25" stroke-linejoin="miter"/>
<polygon points="1122.5,2219.46 1126.6,2212.08 1118.4,2212.08" fill="#fff" stroke="#000" stroke-width="1.25" stroke-linejoin="miter"/>
<text transform="translate(827.5,2168.3) rotate(-90)" x="0" y="0" font-size="21" text-anchor="middle" dominant-baseline="central">No FOXP3<tspan font-size="14" dy="-9">+</tspan><tspan dy="9"> cells (*10</tspan><tspan font-size="14" dy="-9">6</tspan><tspan dy="9">)</tspan></text>
<text x="948.38" y="2290.08" font-size="20.5" text-anchor="middle" font-weight="normal" fill="#000" >CD25+</text>
<text x="1080.45" y="2290.08" font-size="20.5" text-anchor="middle" font-weight="normal" fill="#000" >CD25-</text>
</g>
<text x="2" y="28.4" font-size="36.5" font-weight="bold">A)</text>
<text x="4" y="826" font-size="36.5" font-weight="bold">B)</text>
<text x="383" y="826" font-size="36.5" font-weight="bold">C)</text>
<text x="771" y="826" font-size="36.5" font-weight="bold">D)</text>
<text x="1150.5" y="825" font-size="36.5" font-weight="bold">E)</text>
<text x="8" y="1091" font-size="36.5" font-weight="bold">F)</text>
<text x="381" y="1091" font-size="36.5" font-weight="bold">G)</text>
<text x="770" y="1091" font-size="36.5" font-weight="bold">H)</text>
<text x="1163" y="1091" font-size="36.5" font-weight="bold">I)</text>
<text x="8" y="1391.5" font-size="36.5" font-weight="bold">J)</text>
<text x="383" y="1391" font-size="36.5" font-weight="bold">K)</text>
<text x="776" y="1391" font-size="36.5" font-weight="bold">L)</text>
<text x="1144" y="1391" font-size="36.5" font-weight="bold">M)</text>
<text x="3.5" y="1732.4" font-size="36.5" font-weight="bold">N)</text>
<text x="9" y="2036.8" font-size="36.5" font-weight="bold">O)</text>
<text x="383" y="2036.8" font-size="36.5" font-weight="bold">P)</text>
<text x="775" y="2036.8" font-size="36.5" font-weight="bold">Q)</text>
<rect x="1156.8" y="2072.9" width="17.8" height="13.6" fill="#fff" stroke="#000" stroke-width="1.2"/>
<text x="1187" y="2086.9" font-size="20.5">WT 1Y</text>
<rect x="1156.8" y="2095.9" width="17.8" height="13.6" fill="#000" stroke="#000" stroke-width="1.2"/>
<text x="1187" y="2109.9" font-size="20.5">Optn<tspan font-size="14.5" dy="-9.5">470T</tspan><tspan dy="9.5"> 1Y</tspan></text>
<rect x="1156.8" y="2125.5" width="17.8" height="13.6" fill="#fff" stroke="#000" stroke-width="1.2"/>
<path d="M1162.73 2125.5V2139.1M1168.67 2125.5V2139.1" stroke="#000" stroke-width="1"/>
<text x="1187" y="2139.5" font-size="20.5">WT 2Y</text>
<rect x="1156.8" y="2148.8" width="17.8" height="13.6" fill="#000" stroke="#000" stroke-width="1.2"/>
<path d="M1158.1 2158H1173.3M1158.1 2152.38H1173.3" stroke="#d8d8d8" stroke-width="1.5"/>
<text x="1187" y="2162.8" font-size="20.5">Optn<tspan font-size="14.5" dy="-9.5">470T</tspan><tspan dy="9.5"> 2Y</tspan></text>
</svg>
</body></html>
